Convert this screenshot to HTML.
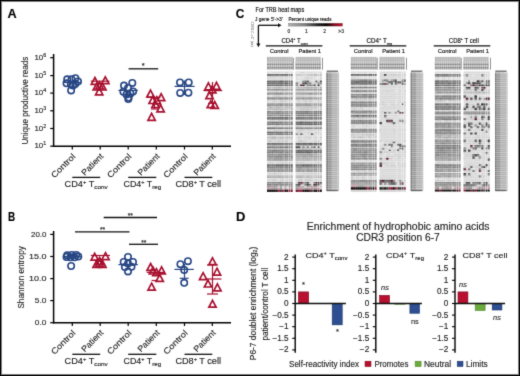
<!DOCTYPE html><html><head><meta charset="utf-8"><style>html,body{margin:0;padding:0;background:#fff;overflow:hidden}svg{display:block}text{font-family:"Liberation Sans", sans-serif;stroke:#2a2a2a;stroke-width:0.15px}</style></head><body>
<svg width="520" height="376" viewBox="0 0 520 376">
<defs><filter id="gb" x="0" y="0" width="520" height="376" filterUnits="userSpaceOnUse" color-interpolation-filters="sRGB"><feConvolveMatrix order="3" kernelMatrix="0.02 0.08 0.02 0.08 0.60 0.08 0.02 0.08 0.02" edgeMode="duplicate"/></filter></defs>
<g filter="url(#gb)">
<rect x="0" y="0" width="520" height="376" fill="#fff"/>
<text x="7.40" y="17.50" font-size="12.6" fill="#000" font-weight="bold" textLength="9.20" lengthAdjust="spacingAndGlyphs">A</text>
<text x="8.00" y="221.00" font-size="12.6" fill="#000" font-weight="bold" textLength="7.20" lengthAdjust="spacingAndGlyphs">B</text>
<text x="235.80" y="17.60" font-size="12.6" fill="#000" font-weight="bold" textLength="8.60" lengthAdjust="spacingAndGlyphs">C</text>
<text x="236.00" y="221.10" font-size="12.6" fill="#000" font-weight="bold" textLength="9.40" lengthAdjust="spacingAndGlyphs">D</text>
<line x1="53.6" y1="54.0" x2="53.6" y2="146.89999999999998" stroke="#000" stroke-width="1.5"/>
<line x1="52.9" y1="146.2" x2="231" y2="146.2" stroke="#000" stroke-width="1.5"/>
<line x1="72.3" y1="146.2" x2="72.3" y2="149.5" stroke="#000" stroke-width="1.2"/>
<line x1="100.2" y1="146.2" x2="100.2" y2="149.5" stroke="#000" stroke-width="1.2"/>
<line x1="128.2" y1="146.2" x2="128.2" y2="149.5" stroke="#000" stroke-width="1.2"/>
<line x1="156.3" y1="146.2" x2="156.3" y2="149.5" stroke="#000" stroke-width="1.2"/>
<line x1="184.5" y1="146.2" x2="184.5" y2="149.5" stroke="#000" stroke-width="1.2"/>
<line x1="212.3" y1="146.2" x2="212.3" y2="149.5" stroke="#000" stroke-width="1.2"/>
<line x1="50.2" y1="57.7" x2="53.6" y2="57.7" stroke="#000" stroke-width="1.2"/>
<text x="34.40" y="59.80" font-size="8.1" fill="#1e1e1e" textLength="8.80" lengthAdjust="spacingAndGlyphs">10</text>
<text x="43.3" y="56.80" font-size="5.3" fill="#1e1e1e">6</text>
<line x1="50.2" y1="75.6" x2="53.6" y2="75.6" stroke="#000" stroke-width="1.2"/>
<text x="34.40" y="77.70" font-size="8.1" fill="#1e1e1e" textLength="8.80" lengthAdjust="spacingAndGlyphs">10</text>
<text x="43.3" y="74.70" font-size="5.3" fill="#1e1e1e">5</text>
<line x1="50.2" y1="93.1" x2="53.6" y2="93.1" stroke="#000" stroke-width="1.2"/>
<text x="34.40" y="95.20" font-size="8.1" fill="#1e1e1e" textLength="8.80" lengthAdjust="spacingAndGlyphs">10</text>
<text x="43.3" y="92.20" font-size="5.3" fill="#1e1e1e">4</text>
<line x1="50.2" y1="110.8" x2="53.6" y2="110.8" stroke="#000" stroke-width="1.2"/>
<text x="34.40" y="112.90" font-size="8.1" fill="#1e1e1e" textLength="8.80" lengthAdjust="spacingAndGlyphs">10</text>
<text x="43.3" y="109.90" font-size="5.3" fill="#1e1e1e">3</text>
<line x1="50.2" y1="128.5" x2="53.6" y2="128.5" stroke="#000" stroke-width="1.2"/>
<text x="34.40" y="130.60" font-size="8.1" fill="#1e1e1e" textLength="8.80" lengthAdjust="spacingAndGlyphs">10</text>
<text x="43.3" y="127.60" font-size="5.3" fill="#1e1e1e">2</text>
<line x1="50.2" y1="146.2" x2="53.6" y2="146.2" stroke="#000" stroke-width="1.2"/>
<text x="34.40" y="148.30" font-size="8.1" fill="#1e1e1e" textLength="8.80" lengthAdjust="spacingAndGlyphs">10</text>
<text x="43.3" y="145.30" font-size="5.3" fill="#1e1e1e">1</text>
<text x="28.50" y="144.60" font-size="8.7" fill="#1e1e1e" textLength="87.80" lengthAdjust="spacingAndGlyphs" transform="rotate(-90 28.50 144.60)">Unique productive reads</text>
<text x="54.50" y="178.60" font-size="8.4" fill="#1e1e1e" textLength="30.43" lengthAdjust="spacingAndGlyphs" transform="rotate(-45 54.50 178.60)">Control</text>
<text x="84.80" y="176.00" font-size="8.4" fill="#1e1e1e" textLength="27.17" lengthAdjust="spacingAndGlyphs" transform="rotate(-45 84.80 176.00)">Patient</text>
<text x="110.40" y="178.60" font-size="8.4" fill="#1e1e1e" textLength="30.43" lengthAdjust="spacingAndGlyphs" transform="rotate(-45 110.40 178.60)">Control</text>
<text x="140.90" y="176.00" font-size="8.4" fill="#1e1e1e" textLength="27.17" lengthAdjust="spacingAndGlyphs" transform="rotate(-45 140.90 176.00)">Patient</text>
<text x="166.70" y="178.60" font-size="8.4" fill="#1e1e1e" textLength="30.43" lengthAdjust="spacingAndGlyphs" transform="rotate(-45 166.70 178.60)">Control</text>
<text x="196.90" y="176.00" font-size="8.4" fill="#1e1e1e" textLength="27.17" lengthAdjust="spacingAndGlyphs" transform="rotate(-45 196.90 176.00)">Patient</text>
<line x1="72.3" y1="177.4" x2="100.2" y2="177.4" stroke="#111" stroke-width="1.3"/>
<text x="64.60" y="187.10" font-size="8.3" fill="#1e1e1e" textLength="43.20" lengthAdjust="spacingAndGlyphs">CD4<tspan font-size="5.2" dy="-3.0">+</tspan><tspan dy="3.0"> T</tspan><tspan font-size="5.8" dy="2.1">conv</tspan></text>
<line x1="128.2" y1="177.4" x2="156.3" y2="177.4" stroke="#111" stroke-width="1.3"/>
<text x="123.60" y="187.10" font-size="8.3" fill="#1e1e1e" textLength="37.60" lengthAdjust="spacingAndGlyphs">CD4<tspan font-size="5.2" dy="-3.0">+</tspan><tspan dy="3.0"> T</tspan><tspan font-size="5.8" dy="2.1">reg</tspan></text>
<line x1="184.5" y1="177.4" x2="212.3" y2="177.4" stroke="#111" stroke-width="1.3"/>
<text x="175.40" y="187.10" font-size="8.3" fill="#1e1e1e" textLength="45.60" lengthAdjust="spacingAndGlyphs">CD8<tspan font-size="5.2" dy="-3.0">+</tspan><tspan dy="3.0"> T cell</tspan></text>
<line x1="128.6" y1="68.8" x2="158.2" y2="68.8" stroke="#111" stroke-width="1.3"/>
<text x="143.3" y="67.6" font-size="7.5" fill="#111" text-anchor="middle">*</text>
<circle cx="67.2" cy="79.3" r="3.2" fill="none" stroke="#274684" stroke-width="1.6"/>
<circle cx="71.5" cy="79.2" r="3.2" fill="none" stroke="#274684" stroke-width="1.6"/>
<circle cx="75.4" cy="78.2" r="3.2" fill="none" stroke="#274684" stroke-width="1.6"/>
<circle cx="78.0" cy="81.4" r="3.2" fill="none" stroke="#274684" stroke-width="1.6"/>
<circle cx="66.5" cy="83.3" r="3.2" fill="none" stroke="#274684" stroke-width="1.6"/>
<circle cx="70.8" cy="84.2" r="3.2" fill="none" stroke="#274684" stroke-width="1.6"/>
<circle cx="75.2" cy="84" r="3.2" fill="none" stroke="#274684" stroke-width="1.6"/>
<circle cx="73" cy="85.5" r="3.2" fill="none" stroke="#274684" stroke-width="1.6"/>
<circle cx="71.1" cy="90.4" r="3.2" fill="none" stroke="#274684" stroke-width="1.6"/>
<line x1="63.5" y1="82.4" x2="81.5" y2="82.4" stroke="#274684" stroke-width="1.2"/>
<path d="M94.90,77.50 L98.55,84.40 L91.25,84.40 Z" fill="none" stroke="#a8102f" stroke-width="1.7" stroke-linejoin="miter"/>
<path d="M105.30,76.80 L108.95,83.70 L101.65,83.70 Z" fill="none" stroke="#a8102f" stroke-width="1.7" stroke-linejoin="miter"/>
<path d="M99.60,82.10 L103.25,89.00 L95.95,89.00 Z" fill="none" stroke="#a8102f" stroke-width="1.7" stroke-linejoin="miter"/>
<path d="M96.80,83.10 L100.45,90.00 L93.15,90.00 Z" fill="none" stroke="#a8102f" stroke-width="1.7" stroke-linejoin="miter"/>
<path d="M102.40,83.10 L106.05,90.00 L98.75,90.00 Z" fill="none" stroke="#a8102f" stroke-width="1.7" stroke-linejoin="miter"/>
<path d="M99.20,87.90 L102.85,94.80 L95.55,94.80 Z" fill="none" stroke="#a8102f" stroke-width="1.7" stroke-linejoin="miter"/>
<line x1="90.8" y1="81.2" x2="109.5" y2="81.2" stroke="#a8102f" stroke-width="1.2"/>
<circle cx="132.3" cy="82.9" r="3.2" fill="none" stroke="#274684" stroke-width="1.6"/>
<circle cx="124" cy="85.6" r="3.2" fill="none" stroke="#274684" stroke-width="1.6"/>
<circle cx="128" cy="88" r="3.2" fill="none" stroke="#274684" stroke-width="1.6"/>
<circle cx="123.4" cy="91.8" r="3.2" fill="none" stroke="#274684" stroke-width="1.6"/>
<circle cx="133.1" cy="91.4" r="3.2" fill="none" stroke="#274684" stroke-width="1.6"/>
<circle cx="128.6" cy="97.6" r="3.2" fill="none" stroke="#274684" stroke-width="1.6"/>
<circle cx="128.3" cy="99.1" r="3.2" fill="none" stroke="#274684" stroke-width="1.6"/>
<circle cx="126.5" cy="94.5" r="3.2" fill="none" stroke="#274684" stroke-width="1.6"/>
<circle cx="130.5" cy="93.5" r="3.2" fill="none" stroke="#274684" stroke-width="1.6"/>
<line x1="118.4" y1="90.4" x2="137.9" y2="90.4" stroke="#274684" stroke-width="1.2"/>
<path d="M150.50,90.10 L154.15,97.00 L146.85,97.00 Z" fill="none" stroke="#a8102f" stroke-width="1.7" stroke-linejoin="miter"/>
<path d="M161.10,93.70 L164.75,100.60 L157.45,100.60 Z" fill="none" stroke="#a8102f" stroke-width="1.7" stroke-linejoin="miter"/>
<path d="M156.90,96.90 L160.55,103.80 L153.25,103.80 Z" fill="none" stroke="#a8102f" stroke-width="1.7" stroke-linejoin="miter"/>
<path d="M152.60,96.60 L156.25,103.50 L148.95,103.50 Z" fill="none" stroke="#a8102f" stroke-width="1.7" stroke-linejoin="miter"/>
<path d="M160.60,104.90 L164.25,111.80 L156.95,111.80 Z" fill="none" stroke="#a8102f" stroke-width="1.7" stroke-linejoin="miter"/>
<path d="M151.60,113.40 L155.25,120.30 L147.95,120.30 Z" fill="none" stroke="#a8102f" stroke-width="1.7" stroke-linejoin="miter"/>
<path d="M155.50,100.60 L159.15,107.50 L151.85,107.50 Z" fill="none" stroke="#a8102f" stroke-width="1.7" stroke-linejoin="miter"/>
<line x1="146.8" y1="97.3" x2="160.6" y2="97.3" stroke="#a8102f" stroke-width="1.2"/>
<line x1="151" y1="109" x2="158" y2="109" stroke="#a8102f" stroke-width="1.2"/>
<line x1="154.5" y1="97.3" x2="154.5" y2="109" stroke="#a8102f" stroke-width="1.2"/>
<circle cx="180" cy="82.4" r="3.2" fill="none" stroke="#274684" stroke-width="1.6"/>
<circle cx="188.7" cy="82.4" r="3.2" fill="none" stroke="#274684" stroke-width="1.6"/>
<circle cx="180.2" cy="92.9" r="3.2" fill="none" stroke="#274684" stroke-width="1.6"/>
<circle cx="188.4" cy="92.7" r="3.2" fill="none" stroke="#274684" stroke-width="1.6"/>
<line x1="174.5" y1="86.4" x2="194.6" y2="86.4" stroke="#274684" stroke-width="1.2"/>
<line x1="184.5" y1="80.5" x2="184.5" y2="95" stroke="#274684" stroke-width="1.2"/>
<path d="M208.40,82.90 L212.05,89.80 L204.75,89.80 Z" fill="none" stroke="#a8102f" stroke-width="1.7" stroke-linejoin="miter"/>
<path d="M216.50,82.40 L220.15,89.30 L212.85,89.30 Z" fill="none" stroke="#a8102f" stroke-width="1.7" stroke-linejoin="miter"/>
<path d="M212.30,85.90 L215.95,92.80 L208.65,92.80 Z" fill="none" stroke="#a8102f" stroke-width="1.7" stroke-linejoin="miter"/>
<path d="M209.50,91.80 L213.15,98.70 L205.85,98.70 Z" fill="none" stroke="#a8102f" stroke-width="1.7" stroke-linejoin="miter"/>
<path d="M214.70,101.50 L218.35,108.40 L211.05,108.40 Z" fill="none" stroke="#a8102f" stroke-width="1.7" stroke-linejoin="miter"/>
<path d="M210.80,100.70 L214.45,107.60 L207.15,107.60 Z" fill="none" stroke="#a8102f" stroke-width="1.7" stroke-linejoin="miter"/>
<line x1="203.5" y1="90.6" x2="222.2" y2="90.6" stroke="#a8102f" stroke-width="1.2"/>
<line x1="208" y1="103.3" x2="215" y2="103.3" stroke="#a8102f" stroke-width="1.2"/>
<line x1="212.5" y1="82" x2="212.5" y2="103.3" stroke="#a8102f" stroke-width="1.2"/>
<line x1="53.6" y1="231.0" x2="53.6" y2="323.4" stroke="#000" stroke-width="1.5"/>
<line x1="52.9" y1="322.7" x2="231" y2="322.7" stroke="#000" stroke-width="1.5"/>
<line x1="72.3" y1="322.7" x2="72.3" y2="326.0" stroke="#000" stroke-width="1.2"/>
<line x1="100.2" y1="322.7" x2="100.2" y2="326.0" stroke="#000" stroke-width="1.2"/>
<line x1="128.2" y1="322.7" x2="128.2" y2="326.0" stroke="#000" stroke-width="1.2"/>
<line x1="156.3" y1="322.7" x2="156.3" y2="326.0" stroke="#000" stroke-width="1.2"/>
<line x1="184.5" y1="322.7" x2="184.5" y2="326.0" stroke="#000" stroke-width="1.2"/>
<line x1="212.3" y1="322.7" x2="212.3" y2="326.0" stroke="#000" stroke-width="1.2"/>
<line x1="50.2" y1="234.4" x2="53.6" y2="234.4" stroke="#000" stroke-width="1.2"/>
<text x="31.00" y="237.00" font-size="8.1" fill="#1e1e1e" textLength="15.40" lengthAdjust="spacingAndGlyphs">20.0</text>
<line x1="50.2" y1="256.5" x2="53.6" y2="256.5" stroke="#000" stroke-width="1.2"/>
<text x="29.00" y="259.10" font-size="8.1" fill="#1e1e1e" textLength="17.40" lengthAdjust="spacingAndGlyphs">15.0</text>
<line x1="50.2" y1="278.6" x2="53.6" y2="278.6" stroke="#000" stroke-width="1.2"/>
<text x="29.00" y="281.20" font-size="8.1" fill="#1e1e1e" textLength="17.40" lengthAdjust="spacingAndGlyphs">10.0</text>
<line x1="50.2" y1="300.6" x2="53.6" y2="300.6" stroke="#000" stroke-width="1.2"/>
<text x="34.80" y="303.20" font-size="8.1" fill="#1e1e1e" textLength="11.60" lengthAdjust="spacingAndGlyphs">5.0</text>
<line x1="50.2" y1="322.7" x2="53.6" y2="322.7" stroke="#000" stroke-width="1.2"/>
<text x="34.80" y="325.30" font-size="8.1" fill="#1e1e1e" textLength="11.60" lengthAdjust="spacingAndGlyphs">0.0</text>
<text x="24.40" y="308.60" font-size="8.7" fill="#1e1e1e" textLength="62.40" lengthAdjust="spacingAndGlyphs" transform="rotate(-90 24.40 308.60)">Shannon entropy</text>
<text x="54.50" y="355.10" font-size="8.4" fill="#1e1e1e" textLength="30.43" lengthAdjust="spacingAndGlyphs" transform="rotate(-45 54.50 355.10)">Control</text>
<text x="84.80" y="352.50" font-size="8.4" fill="#1e1e1e" textLength="27.17" lengthAdjust="spacingAndGlyphs" transform="rotate(-45 84.80 352.50)">Patient</text>
<text x="110.40" y="355.10" font-size="8.4" fill="#1e1e1e" textLength="30.43" lengthAdjust="spacingAndGlyphs" transform="rotate(-45 110.40 355.10)">Control</text>
<text x="140.90" y="352.50" font-size="8.4" fill="#1e1e1e" textLength="27.17" lengthAdjust="spacingAndGlyphs" transform="rotate(-45 140.90 352.50)">Patient</text>
<text x="166.70" y="355.10" font-size="8.4" fill="#1e1e1e" textLength="30.43" lengthAdjust="spacingAndGlyphs" transform="rotate(-45 166.70 355.10)">Control</text>
<text x="196.90" y="352.50" font-size="8.4" fill="#1e1e1e" textLength="27.17" lengthAdjust="spacingAndGlyphs" transform="rotate(-45 196.90 352.50)">Patient</text>
<line x1="72.3" y1="354.3" x2="100.2" y2="354.3" stroke="#111" stroke-width="1.3"/>
<text x="64.60" y="364.30" font-size="8.3" fill="#1e1e1e" textLength="43.20" lengthAdjust="spacingAndGlyphs">CD4<tspan font-size="5.2" dy="-3.0">+</tspan><tspan dy="3.0"> T</tspan><tspan font-size="5.8" dy="2.1">conv</tspan></text>
<line x1="128.2" y1="354.3" x2="156.3" y2="354.3" stroke="#111" stroke-width="1.3"/>
<text x="123.60" y="364.30" font-size="8.3" fill="#1e1e1e" textLength="37.60" lengthAdjust="spacingAndGlyphs">CD4<tspan font-size="5.2" dy="-3.0">+</tspan><tspan dy="3.0"> T</tspan><tspan font-size="5.8" dy="2.1">reg</tspan></text>
<line x1="184.5" y1="354.3" x2="212.3" y2="354.3" stroke="#111" stroke-width="1.3"/>
<text x="175.40" y="364.30" font-size="8.3" fill="#1e1e1e" textLength="45.60" lengthAdjust="spacingAndGlyphs">CD8<tspan font-size="5.2" dy="-3.0">+</tspan><tspan dy="3.0"> T cell</tspan></text>
<line x1="75" y1="231.8" x2="129.5" y2="231.8" stroke="#111" stroke-width="1.3"/>
<text x="102.6" y="232.1" font-size="6.6" fill="#111" text-anchor="middle">**</text>
<line x1="103.7" y1="217.5" x2="157" y2="217.5" stroke="#111" stroke-width="1.3"/>
<text x="130.3" y="217.9" font-size="6.6" fill="#111" text-anchor="middle">**</text>
<line x1="129" y1="244.3" x2="158" y2="244.3" stroke="#111" stroke-width="1.3"/>
<text x="143.7" y="244.7" font-size="6.6" fill="#111" text-anchor="middle">**</text>
<circle cx="67.2" cy="255.3" r="3.2" fill="none" stroke="#274684" stroke-width="1.6"/>
<circle cx="71.8" cy="255" r="3.2" fill="none" stroke="#274684" stroke-width="1.6"/>
<circle cx="76.2" cy="255" r="3.2" fill="none" stroke="#274684" stroke-width="1.6"/>
<circle cx="78.3" cy="256.5" r="3.2" fill="none" stroke="#274684" stroke-width="1.6"/>
<circle cx="66.5" cy="257" r="3.2" fill="none" stroke="#274684" stroke-width="1.6"/>
<circle cx="70.5" cy="257.3" r="3.2" fill="none" stroke="#274684" stroke-width="1.6"/>
<circle cx="74.5" cy="257.3" r="3.2" fill="none" stroke="#274684" stroke-width="1.6"/>
<circle cx="71.1" cy="266" r="3.2" fill="none" stroke="#274684" stroke-width="1.6"/>
<line x1="63" y1="256.5" x2="82" y2="256.5" stroke="#274684" stroke-width="1.2"/>
<path d="M94.70,253.30 L98.35,260.20 L91.05,260.20 Z" fill="none" stroke="#a8102f" stroke-width="1.7" stroke-linejoin="miter"/>
<path d="M105.50,252.70 L109.15,259.60 L101.85,259.60 Z" fill="none" stroke="#a8102f" stroke-width="1.7" stroke-linejoin="miter"/>
<path d="M99.60,257.50 L103.25,264.40 L95.95,264.40 Z" fill="none" stroke="#a8102f" stroke-width="1.7" stroke-linejoin="miter"/>
<path d="M96.60,260.50 L100.25,267.40 L92.95,267.40 Z" fill="none" stroke="#a8102f" stroke-width="1.7" stroke-linejoin="miter"/>
<path d="M102.40,260.50 L106.05,267.40 L98.75,267.40 Z" fill="none" stroke="#a8102f" stroke-width="1.7" stroke-linejoin="miter"/>
<path d="M99.50,259.60 L103.15,266.50 L95.85,266.50 Z" fill="none" stroke="#a8102f" stroke-width="1.7" stroke-linejoin="miter"/>
<line x1="90.8" y1="255.5" x2="110" y2="255.5" stroke="#a8102f" stroke-width="1.2"/>
<circle cx="128" cy="256.9" r="3.2" fill="none" stroke="#274684" stroke-width="1.6"/>
<circle cx="123.7" cy="262" r="3.2" fill="none" stroke="#274684" stroke-width="1.6"/>
<circle cx="133" cy="262" r="3.2" fill="none" stroke="#274684" stroke-width="1.6"/>
<circle cx="128" cy="263.6" r="3.2" fill="none" stroke="#274684" stroke-width="1.6"/>
<circle cx="124.9" cy="267.1" r="3.2" fill="none" stroke="#274684" stroke-width="1.6"/>
<circle cx="131.5" cy="266.8" r="3.2" fill="none" stroke="#274684" stroke-width="1.6"/>
<circle cx="128" cy="271.4" r="3.2" fill="none" stroke="#274684" stroke-width="1.6"/>
<line x1="118.4" y1="264.6" x2="137.9" y2="264.6" stroke="#274684" stroke-width="1.2"/>
<path d="M150.60,263.50 L154.25,270.40 L146.95,270.40 Z" fill="none" stroke="#a8102f" stroke-width="1.7" stroke-linejoin="miter"/>
<path d="M161.60,266.90 L165.25,273.80 L157.95,273.80 Z" fill="none" stroke="#a8102f" stroke-width="1.7" stroke-linejoin="miter"/>
<path d="M156.40,268.70 L160.05,275.60 L152.75,275.60 Z" fill="none" stroke="#a8102f" stroke-width="1.7" stroke-linejoin="miter"/>
<path d="M159.70,274.50 L163.35,281.40 L156.05,281.40 Z" fill="none" stroke="#a8102f" stroke-width="1.7" stroke-linejoin="miter"/>
<path d="M151.60,283.20 L155.25,290.10 L147.95,290.10 Z" fill="none" stroke="#a8102f" stroke-width="1.7" stroke-linejoin="miter"/>
<path d="M153.00,267.10 L156.65,274.00 L149.35,274.00 Z" fill="none" stroke="#a8102f" stroke-width="1.7" stroke-linejoin="miter"/>
<line x1="146.8" y1="272.4" x2="165" y2="272.4" stroke="#a8102f" stroke-width="1.2"/>
<line x1="151.6" y1="280.5" x2="157.3" y2="280.5" stroke="#a8102f" stroke-width="1.2"/>
<circle cx="180.4" cy="264.2" r="3.2" fill="none" stroke="#274684" stroke-width="1.6"/>
<circle cx="187.9" cy="261.2" r="3.2" fill="none" stroke="#274684" stroke-width="1.6"/>
<circle cx="184.2" cy="270.1" r="3.2" fill="none" stroke="#274684" stroke-width="1.6"/>
<circle cx="184.2" cy="282.8" r="3.2" fill="none" stroke="#274684" stroke-width="1.6"/>
<line x1="174.5" y1="269.4" x2="193.8" y2="269.4" stroke="#274684" stroke-width="1.2"/>
<line x1="179.7" y1="278.3" x2="188.6" y2="278.3" stroke="#274684" stroke-width="1.2"/>
<line x1="184.5" y1="264" x2="184.5" y2="278.3" stroke="#274684" stroke-width="1.2"/>
<path d="M212.50,257.80 L216.15,264.70 L208.85,264.70 Z" fill="none" stroke="#a8102f" stroke-width="1.7" stroke-linejoin="miter"/>
<path d="M217.00,268.20 L220.65,275.10 L213.35,275.10 Z" fill="none" stroke="#a8102f" stroke-width="1.7" stroke-linejoin="miter"/>
<path d="M203.10,272.70 L206.75,279.60 L199.45,279.60 Z" fill="none" stroke="#a8102f" stroke-width="1.7" stroke-linejoin="miter"/>
<path d="M208.00,280.10 L211.65,287.00 L204.35,287.00 Z" fill="none" stroke="#a8102f" stroke-width="1.7" stroke-linejoin="miter"/>
<path d="M217.40,283.90 L221.05,290.80 L213.75,290.80 Z" fill="none" stroke="#a8102f" stroke-width="1.7" stroke-linejoin="miter"/>
<path d="M212.50,300.30 L216.15,307.20 L208.85,307.20 Z" fill="none" stroke="#a8102f" stroke-width="1.7" stroke-linejoin="miter"/>
<line x1="205.8" y1="279" x2="221.4" y2="279" stroke="#a8102f" stroke-width="1.2"/>
<line x1="207" y1="264.9" x2="218" y2="264.9" stroke="#a8102f" stroke-width="1.2"/>
<line x1="207" y1="294" x2="218" y2="294" stroke="#a8102f" stroke-width="1.2"/>
<line x1="212.5" y1="264.9" x2="212.5" y2="294" stroke="#a8102f" stroke-width="1.2"/>
<text x="255.60" y="11.70" font-size="6.3" fill="#000" textLength="48.60" lengthAdjust="spacingAndGlyphs">For TRB heat maps</text>
<text x="255.00" y="21.00" font-size="4.7" fill="#000" textLength="27.60" lengthAdjust="spacingAndGlyphs">J gene 5'-&gt;3'</text>
<text x="288.40" y="21.00" font-size="4.7" fill="#000" textLength="43.00" lengthAdjust="spacingAndGlyphs">Percent unique reads</text>
<path d="M258.4,25.3 H279" stroke="#111" stroke-width="1.3" fill="none"/>
<path d="M278.0,23.3 L281.6,25.3 L278.0,27.3 Z" fill="#111"/>
<path d="M258.4,25.3 V44.3" stroke="#111" stroke-width="1.3" fill="none"/>
<path d="M256.4,43.4 L258.4,47.2 L260.4,43.4 Z" fill="#111"/>
<text x="0" y="0" font-size="4.2" fill="#555" style="stroke:none" text-anchor="middle" transform="translate(250.9 34.0) rotate(90)" textLength="25" lengthAdjust="spacingAndGlyphs">CDR3 C-&gt;C' (aa)</text>
<defs><linearGradient id="cb" x1="0" x2="1" y1="0" y2="0"><stop offset="0" stop-color="#b0b0b0"/><stop offset="0.3" stop-color="#808080"/><stop offset="0.55" stop-color="#202020"/><stop offset="0.7" stop-color="#080000"/><stop offset="0.86" stop-color="#8a0a1e"/><stop offset="1" stop-color="#c8102c"/></linearGradient><pattern id="grid" x="0" y="0" width="2.15" height="2.15" patternUnits="userSpaceOnUse"><rect x="0" y="0" width="2.15" height="0.5" fill="#fff" fill-opacity="0.8"/><rect x="0" y="0" width="0.4" height="2.15" fill="#fff" fill-opacity="0.45"/></pattern><filter id="hb" x="-5%" y="-5%" width="110%" height="110%"><feGaussianBlur stdDeviation="0.35"/></filter></defs>
<rect x="288.4" y="23.2" width="54.2" height="2.9" fill="url(#cb)" stroke="#666" stroke-width="0.3"/>
<text x="288.8" y="32.9" font-size="4.9" fill="#222" text-anchor="middle">0</text>
<text x="306.4" y="32.9" font-size="4.9" fill="#222" text-anchor="middle">1</text>
<text x="324.6" y="32.9" font-size="4.9" fill="#222" text-anchor="middle">2</text>
<text x="341.1" y="32.9" font-size="4.9" fill="#222" text-anchor="middle">&gt;3</text>
<text x="281.40" y="42.90" font-size="6.4" fill="#000" textLength="26.60" lengthAdjust="spacingAndGlyphs">CD4<tspan font-size="3.9" dy="-2.5">+</tspan><tspan dy="2.5"> T</tspan><tspan font-size="3.7" dy="1.7">conv</tspan></text>
<line x1="265.8" y1="45.9" x2="322.4" y2="45.9" stroke="#111" stroke-width="1.3"/>
<text x="269.80" y="53.30" font-size="6.0" fill="#000" textLength="18.80" lengthAdjust="spacingAndGlyphs">Control</text>
<text x="298.40" y="53.30" font-size="6.0" fill="#000" textLength="22.60" lengthAdjust="spacingAndGlyphs">Patient 1</text>
<rect x="267" y="56.9" width="25.60" height="12.5" fill="#b0b0b0"/><rect x="267" y="61.3" width="25.60" height="2.4" fill="#c2c2c2"/><rect x="267" y="63.8" width="25.60" height="1.7" fill="#888888"/><rect x="267" y="65.5" width="25.60" height="1.2" fill="#dadada"/><rect x="267" y="66.7" width="25.60" height="2.0" fill="#8a8a8a"/><rect x="267" y="68.7" width="25.60" height="0.7" fill="#bcbcbc"/><rect x="268.88" y="56.9" width="0.5" height="12.5" fill="#fff" fill-opacity="0.55"/><rect x="271.02" y="56.9" width="0.5" height="12.5" fill="#fff" fill-opacity="0.55"/><rect x="273.15" y="56.9" width="0.5" height="12.5" fill="#fff" fill-opacity="0.55"/><rect x="275.28" y="56.9" width="0.5" height="12.5" fill="#fff" fill-opacity="0.55"/><rect x="277.42" y="56.9" width="0.5" height="12.5" fill="#fff" fill-opacity="0.55"/><rect x="279.55" y="56.9" width="0.5" height="12.5" fill="#fff" fill-opacity="0.55"/><rect x="281.68" y="56.9" width="0.5" height="12.5" fill="#fff" fill-opacity="0.55"/><rect x="283.82" y="56.9" width="0.5" height="12.5" fill="#fff" fill-opacity="0.55"/><rect x="285.95" y="56.9" width="0.5" height="12.5" fill="#fff" fill-opacity="0.55"/><rect x="288.08" y="56.9" width="0.5" height="12.5" fill="#fff" fill-opacity="0.55"/><rect x="290.22" y="56.9" width="0.5" height="12.5" fill="#fff" fill-opacity="0.55"/><rect x="267.87" y="56.9" width="0.4" height="4.4" fill="#fff" fill-opacity="0.35"/><rect x="270.00" y="56.9" width="0.4" height="4.4" fill="#fff" fill-opacity="0.35"/><rect x="272.13" y="56.9" width="0.4" height="4.4" fill="#fff" fill-opacity="0.35"/><rect x="274.27" y="56.9" width="0.4" height="4.4" fill="#fff" fill-opacity="0.35"/><rect x="276.40" y="56.9" width="0.4" height="4.4" fill="#fff" fill-opacity="0.35"/><rect x="278.53" y="56.9" width="0.4" height="4.4" fill="#fff" fill-opacity="0.35"/><rect x="280.67" y="56.9" width="0.4" height="4.4" fill="#fff" fill-opacity="0.35"/><rect x="282.80" y="56.9" width="0.4" height="4.4" fill="#fff" fill-opacity="0.35"/><rect x="284.93" y="56.9" width="0.4" height="4.4" fill="#fff" fill-opacity="0.35"/><rect x="287.07" y="56.9" width="0.4" height="4.4" fill="#fff" fill-opacity="0.35"/><rect x="289.20" y="56.9" width="0.4" height="4.4" fill="#fff" fill-opacity="0.35"/><rect x="291.33" y="56.9" width="0.4" height="4.4" fill="#fff" fill-opacity="0.35"/>
<rect x="295.6" y="56.9" width="25.00" height="12.5" fill="#b0b0b0"/><rect x="295.6" y="61.3" width="25.00" height="2.4" fill="#c2c2c2"/><rect x="295.6" y="63.8" width="25.00" height="1.7" fill="#888888"/><rect x="295.6" y="65.5" width="25.00" height="1.2" fill="#dadada"/><rect x="295.6" y="66.7" width="25.00" height="2.0" fill="#8a8a8a"/><rect x="295.6" y="68.7" width="25.00" height="0.7" fill="#bcbcbc"/><rect x="297.43" y="56.9" width="0.5" height="12.5" fill="#fff" fill-opacity="0.55"/><rect x="299.52" y="56.9" width="0.5" height="12.5" fill="#fff" fill-opacity="0.55"/><rect x="301.60" y="56.9" width="0.5" height="12.5" fill="#fff" fill-opacity="0.55"/><rect x="303.68" y="56.9" width="0.5" height="12.5" fill="#fff" fill-opacity="0.55"/><rect x="305.77" y="56.9" width="0.5" height="12.5" fill="#fff" fill-opacity="0.55"/><rect x="307.85" y="56.9" width="0.5" height="12.5" fill="#fff" fill-opacity="0.55"/><rect x="309.93" y="56.9" width="0.5" height="12.5" fill="#fff" fill-opacity="0.55"/><rect x="312.02" y="56.9" width="0.5" height="12.5" fill="#fff" fill-opacity="0.55"/><rect x="314.10" y="56.9" width="0.5" height="12.5" fill="#fff" fill-opacity="0.55"/><rect x="316.18" y="56.9" width="0.5" height="12.5" fill="#fff" fill-opacity="0.55"/><rect x="318.27" y="56.9" width="0.5" height="12.5" fill="#fff" fill-opacity="0.55"/><rect x="296.44" y="56.9" width="0.4" height="4.4" fill="#fff" fill-opacity="0.35"/><rect x="298.53" y="56.9" width="0.4" height="4.4" fill="#fff" fill-opacity="0.35"/><rect x="300.61" y="56.9" width="0.4" height="4.4" fill="#fff" fill-opacity="0.35"/><rect x="302.69" y="56.9" width="0.4" height="4.4" fill="#fff" fill-opacity="0.35"/><rect x="304.78" y="56.9" width="0.4" height="4.4" fill="#fff" fill-opacity="0.35"/><rect x="306.86" y="56.9" width="0.4" height="4.4" fill="#fff" fill-opacity="0.35"/><rect x="308.94" y="56.9" width="0.4" height="4.4" fill="#fff" fill-opacity="0.35"/><rect x="311.03" y="56.9" width="0.4" height="4.4" fill="#fff" fill-opacity="0.35"/><rect x="313.11" y="56.9" width="0.4" height="4.4" fill="#fff" fill-opacity="0.35"/><rect x="315.19" y="56.9" width="0.4" height="4.4" fill="#fff" fill-opacity="0.35"/><rect x="317.28" y="56.9" width="0.4" height="4.4" fill="#fff" fill-opacity="0.35"/><rect x="319.36" y="56.9" width="0.4" height="4.4" fill="#fff" fill-opacity="0.35"/>
<rect x="292.9" y="57.8" width="0.7" height="11.9" fill="#666"/>
<rect x="322.1" y="57.8" width="0.7" height="11.9" fill="#666"/>
<g><path fill="#d8d8d8" d="M267.0 71.60h25.60v120.30h-25.60zM271.3 72.20h2.43v1.30h-2.43zM279.8 72.20h2.43v1.30h-2.43zM281.9 72.20h2.43v1.30h-2.43zM269.1 76.70h2.43v2.50h-2.43zM275.5 76.70h2.43v2.50h-2.43zM277.7 76.70h2.43v2.50h-2.43zM286.2 76.70h2.43v2.50h-2.43zM288.3 76.70h2.43v2.50h-2.43zM267.0 91.30h2.43v1.20h-2.43zM271.3 95.00h2.43v2.00h-2.43zM279.8 95.00h2.43v2.00h-2.43zM286.2 95.00h2.43v2.00h-2.43zM275.5 100.20h2.43v2.30h-2.43zM277.7 100.20h2.43v2.30h-2.43zM286.2 100.20h2.43v2.30h-2.43zM290.5 100.20h2.13v2.30h-2.13zM273.4 120.30h2.43v1.10h-2.43zM279.8 120.30h2.43v1.10h-2.43zM277.7 125.90h2.43v1.20h-2.43zM284.1 125.90h2.43v1.20h-2.43zM286.2 125.90h2.43v1.20h-2.43zM279.8 129.90h2.43v1.70h-2.43zM281.9 129.90h2.43v1.70h-2.43zM275.5 135.50h2.43v1.10h-2.43zM281.9 135.50h2.43v1.10h-2.43zM284.1 135.50h2.43v1.10h-2.43zM271.3 140.00h2.43v2.20h-2.43zM275.5 161.30h2.43v2.30h-2.43zM286.2 161.30h2.43v2.30h-2.43zM290.5 161.30h2.13v2.30h-2.13zM267.0 172.50h2.43v2.80h-2.43zM284.1 172.50h2.43v2.80h-2.43zM286.2 172.50h2.43v2.80h-2.43zM290.5 172.50h2.13v2.80h-2.13zM267.0 178.60h2.43v2.80h-2.43zM269.1 178.60h2.43v2.80h-2.43zM275.5 178.60h2.43v2.80h-2.43z"/><path fill="#cccccc" d="M267.0 72.20h2.43v1.30h-2.43zM273.4 72.20h2.43v1.30h-2.43zM284.1 72.20h2.43v1.30h-2.43zM290.5 76.70h2.13v2.50h-2.13zM281.9 91.30h2.43v1.20h-2.43zM267.0 95.00h2.43v2.00h-2.43zM273.4 95.00h2.43v2.00h-2.43zM281.9 95.00h2.43v2.00h-2.43zM284.1 95.00h2.43v2.00h-2.43zM267.0 100.20h2.43v2.30h-2.43zM273.4 100.20h2.43v2.30h-2.43zM284.1 100.20h2.43v2.30h-2.43zM288.3 100.20h2.43v2.30h-2.43zM271.3 120.30h2.43v1.10h-2.43zM281.9 120.30h2.43v1.10h-2.43zM284.1 120.30h2.43v1.10h-2.43zM290.5 120.30h2.13v1.10h-2.13zM273.4 125.90h2.43v1.20h-2.43zM275.5 125.90h2.43v1.20h-2.43zM288.3 125.90h2.43v1.20h-2.43zM267.0 129.90h2.43v1.70h-2.43zM273.4 129.90h2.43v1.70h-2.43zM284.1 129.90h2.43v1.70h-2.43zM288.3 129.90h2.43v1.70h-2.43zM271.3 135.50h2.43v1.10h-2.43zM286.2 135.50h2.43v1.10h-2.43zM290.5 135.50h2.13v1.10h-2.13zM267.0 140.00h2.43v2.20h-2.43zM281.9 140.00h2.43v2.20h-2.43zM284.1 140.00h2.43v2.20h-2.43zM286.2 140.00h2.43v2.20h-2.43zM281.9 161.30h2.43v2.30h-2.43zM284.1 161.30h2.43v2.30h-2.43zM288.3 161.30h2.43v2.30h-2.43zM273.4 178.60h2.43v2.80h-2.43zM281.9 178.60h2.43v2.80h-2.43z"/><path fill="#dfdfdf" d="M269.1 72.20h2.43v1.30h-2.43zM288.3 72.20h2.43v1.30h-2.43zM277.7 91.30h2.43v1.20h-2.43zM269.1 95.00h2.43v2.00h-2.43zM269.1 100.20h2.43v2.30h-2.43zM267.0 120.30h2.43v1.10h-2.43zM275.5 120.30h2.43v1.10h-2.43zM286.2 120.30h2.43v1.10h-2.43zM267.0 125.90h2.43v1.20h-2.43zM269.1 125.90h2.43v1.20h-2.43zM271.3 125.90h2.43v1.20h-2.43zM279.8 125.90h2.43v1.20h-2.43zM269.1 129.90h2.43v1.70h-2.43zM271.3 129.90h2.43v1.70h-2.43zM267.0 135.50h2.43v1.10h-2.43zM273.4 135.50h2.43v1.10h-2.43zM277.7 135.50h2.43v1.10h-2.43zM279.8 135.50h2.43v1.10h-2.43zM288.3 140.00h2.43v2.20h-2.43zM267.0 161.30h2.43v2.30h-2.43zM273.4 161.30h2.43v2.30h-2.43zM281.9 172.50h2.43v2.80h-2.43zM288.3 172.50h2.43v2.80h-2.43zM277.7 178.60h2.43v2.80h-2.43zM284.1 178.60h2.43v2.80h-2.43z"/><path fill="#d2d2d2" d="M275.5 72.20h2.43v1.30h-2.43zM277.7 72.20h2.43v1.30h-2.43zM290.5 72.20h2.13v1.30h-2.13zM267.0 76.70h2.43v2.50h-2.43zM271.3 76.70h2.43v2.50h-2.43zM273.4 76.70h2.43v2.50h-2.43zM279.8 76.70h2.43v2.50h-2.43zM281.9 76.70h2.43v2.50h-2.43zM284.1 76.70h2.43v2.50h-2.43zM269.1 91.30h2.43v1.20h-2.43zM271.3 91.30h2.43v1.20h-2.43zM273.4 91.30h2.43v1.20h-2.43zM279.8 91.30h2.43v1.20h-2.43zM284.1 91.30h2.43v1.20h-2.43zM286.2 91.30h2.43v1.20h-2.43zM288.3 91.30h2.43v1.20h-2.43zM290.5 91.30h2.13v1.20h-2.13zM288.3 95.00h2.43v2.00h-2.43zM271.3 100.20h2.43v2.30h-2.43zM269.1 120.30h2.43v1.10h-2.43zM281.9 125.90h2.43v1.20h-2.43zM290.5 125.90h2.13v1.20h-2.13zM275.5 129.90h2.43v1.70h-2.43zM277.7 129.90h2.43v1.70h-2.43zM288.3 135.50h2.43v1.10h-2.43zM273.4 140.00h2.43v2.20h-2.43zM275.5 140.00h2.43v2.20h-2.43zM279.8 140.00h2.43v2.20h-2.43zM290.5 140.00h2.13v2.20h-2.13zM269.1 161.30h2.43v2.30h-2.43zM271.3 161.30h2.43v2.30h-2.43zM277.7 161.30h2.43v2.30h-2.43zM279.8 161.30h2.43v2.30h-2.43zM269.1 172.50h2.43v2.80h-2.43zM271.3 172.50h2.43v2.80h-2.43zM275.5 172.50h2.43v2.80h-2.43zM277.7 172.50h2.43v2.80h-2.43zM279.8 172.50h2.43v2.80h-2.43zM271.3 178.60h2.43v2.80h-2.43zM279.8 178.60h2.43v2.80h-2.43zM286.2 178.60h2.43v2.80h-2.43zM288.3 178.60h2.43v2.80h-2.43z"/><path fill="#c5c5c5" d="M286.2 72.20h2.43v1.30h-2.43zM275.5 91.30h2.43v1.20h-2.43zM275.5 95.00h2.43v2.00h-2.43zM277.7 95.00h2.43v2.00h-2.43zM290.5 95.00h2.13v2.00h-2.13zM279.8 100.20h2.43v2.30h-2.43zM281.9 100.20h2.43v2.30h-2.43zM267.0 106.90h2.43v2.00h-2.43zM273.4 106.90h2.43v2.00h-2.43zM279.8 106.90h2.43v2.00h-2.43zM281.9 106.90h2.43v2.00h-2.43zM286.2 108.60h2.43v1.70h-2.43zM288.3 108.60h2.43v1.70h-2.43zM277.7 120.30h2.43v1.10h-2.43zM288.3 120.30h2.43v1.10h-2.43zM286.2 129.90h2.43v1.70h-2.43zM290.5 129.90h2.13v1.70h-2.13zM269.1 135.50h2.43v1.10h-2.43zM275.5 136.60h2.43v2.80h-2.43zM284.1 136.60h2.43v2.80h-2.43zM269.1 140.00h2.43v2.20h-2.43zM277.7 140.00h2.43v2.20h-2.43zM273.4 172.50h2.43v2.80h-2.43zM290.5 178.60h2.13v2.80h-2.13z"/><path fill="#727272" d="M267.0 73.90h2.43v2.40h-2.43zM273.4 73.90h2.43v2.40h-2.43zM275.5 80.20h2.43v2.27h-2.43zM288.3 80.20h2.43v2.27h-2.43zM275.5 82.17h2.43v2.27h-2.43zM288.3 117.00h2.43v2.70h-2.43zM271.3 121.40h2.43v2.25h-2.43zM273.4 121.40h2.43v2.25h-2.43zM275.5 121.40h2.43v2.25h-2.43zM279.8 121.40h2.43v2.25h-2.43zM290.5 121.40h2.13v2.25h-2.13zM267.0 123.35h2.43v1.95h-2.43zM271.3 123.35h2.43v1.95h-2.43zM281.9 123.35h2.43v1.95h-2.43zM288.3 123.35h2.43v1.95h-2.43zM267.0 127.10h2.43v2.20h-2.43zM269.1 127.10h2.43v2.20h-2.43zM271.3 127.10h2.43v2.20h-2.43zM273.4 127.10h2.43v2.20h-2.43zM288.3 127.10h2.43v2.20h-2.43zM273.4 131.60h2.43v1.95h-2.43zM277.7 131.60h2.43v1.95h-2.43zM288.3 131.60h2.43v1.95h-2.43zM271.3 133.25h2.43v1.65h-2.43zM275.5 133.25h2.43v1.65h-2.43zM269.1 142.70h2.43v2.80h-2.43zM279.8 142.70h2.43v2.80h-2.43zM284.1 142.70h2.43v2.80h-2.43zM286.2 142.70h2.43v2.80h-2.43zM269.1 146.00h2.43v2.30h-2.43zM279.8 146.00h2.43v2.30h-2.43zM271.3 150.00h2.43v1.95h-2.43zM273.4 150.00h2.43v1.95h-2.43zM275.5 150.00h2.43v1.95h-2.43zM267.0 151.65h2.43v1.65h-2.43zM279.8 151.65h2.43v1.65h-2.43zM286.2 151.65h2.43v1.65h-2.43zM271.3 164.10h2.43v2.80h-2.43zM267.0 183.95h2.43v1.95h-2.43zM269.1 183.95h2.43v1.95h-2.43zM273.4 183.95h2.43v1.95h-2.43zM288.3 183.95h2.43v1.95h-2.43z"/><path fill="#5f5f5f" d="M269.1 73.90h2.43v2.40h-2.43zM281.9 73.90h2.43v2.40h-2.43zM284.1 73.90h2.43v2.40h-2.43zM273.4 80.20h2.43v2.27h-2.43zM281.9 80.20h2.43v2.27h-2.43zM271.3 82.17h2.43v2.27h-2.43zM286.2 82.17h2.43v2.27h-2.43zM267.0 84.13h2.43v1.97h-2.43zM275.5 84.13h2.43v1.97h-2.43zM271.3 117.00h2.43v2.70h-2.43zM281.9 117.00h2.43v2.70h-2.43zM286.2 117.00h2.43v2.70h-2.43zM269.1 131.60h2.43v1.95h-2.43zM273.4 142.70h2.43v2.80h-2.43zM290.5 164.10h2.13v2.80h-2.13z"/><path fill="#6c6c6c" d="M271.3 73.90h2.43v2.40h-2.43zM286.2 73.90h2.43v2.40h-2.43zM290.5 73.90h2.13v2.40h-2.13zM267.0 80.20h2.43v2.27h-2.43zM271.3 80.20h2.43v2.27h-2.43zM277.7 80.20h2.43v2.27h-2.43zM284.1 80.20h2.43v2.27h-2.43zM286.2 80.20h2.43v2.27h-2.43zM267.0 82.17h2.43v2.27h-2.43zM269.1 82.17h2.43v2.27h-2.43zM277.7 82.17h2.43v2.27h-2.43zM288.3 82.17h2.43v2.27h-2.43zM271.3 84.13h2.43v1.97h-2.43zM273.4 84.13h2.43v1.97h-2.43zM281.9 84.13h2.43v1.97h-2.43zM267.0 117.00h2.43v2.70h-2.43zM269.1 117.00h2.43v2.70h-2.43zM275.5 117.00h2.43v2.70h-2.43zM275.5 123.35h2.43v1.95h-2.43zM277.7 123.35h2.43v1.95h-2.43zM290.5 123.35h2.13v1.95h-2.13zM267.0 131.60h2.43v1.95h-2.43zM279.8 131.60h2.43v1.95h-2.43zM286.2 131.60h2.43v1.95h-2.43zM281.9 133.25h2.43v1.65h-2.43zM267.0 142.70h2.43v2.80h-2.43zM275.5 142.70h2.43v2.80h-2.43zM277.7 142.70h2.43v2.80h-2.43zM281.9 142.70h2.43v2.80h-2.43zM290.5 142.70h2.13v2.80h-2.13zM284.1 146.00h2.43v2.30h-2.43zM286.2 146.00h2.43v2.30h-2.43zM281.9 150.00h2.43v1.95h-2.43zM271.3 151.65h2.43v1.65h-2.43zM267.0 164.10h2.43v2.80h-2.43zM277.7 164.10h2.43v2.80h-2.43zM279.8 164.10h2.43v2.80h-2.43zM284.1 164.10h2.43v2.80h-2.43zM286.2 164.10h2.43v2.80h-2.43zM288.3 164.10h2.43v2.80h-2.43zM277.7 182.00h2.43v2.25h-2.43zM275.5 183.95h2.43v1.95h-2.43z"/><path fill="#666666" d="M275.5 73.90h2.43v2.40h-2.43zM269.1 80.20h2.43v2.27h-2.43zM290.5 80.20h2.13v2.27h-2.13zM273.4 82.17h2.43v2.27h-2.43zM279.8 82.17h2.43v2.27h-2.43zM281.9 82.17h2.43v2.27h-2.43zM290.5 82.17h2.13v2.27h-2.13zM269.1 84.13h2.43v1.97h-2.43zM277.7 84.13h2.43v1.97h-2.43zM279.8 84.13h2.43v1.97h-2.43zM284.1 84.13h2.43v1.97h-2.43zM286.2 84.13h2.43v1.97h-2.43zM288.3 84.13h2.43v1.97h-2.43zM273.4 117.00h2.43v2.70h-2.43zM277.7 117.00h2.43v2.70h-2.43zM279.8 117.00h2.43v2.70h-2.43zM290.5 117.00h2.13v2.70h-2.13zM271.3 131.60h2.43v1.95h-2.43zM275.5 131.60h2.43v1.95h-2.43zM284.1 131.60h2.43v1.95h-2.43zM290.5 131.60h2.13v1.95h-2.13zM269.1 133.25h2.43v1.65h-2.43zM277.7 133.25h2.43v1.65h-2.43zM279.8 133.25h2.43v1.65h-2.43zM286.2 133.25h2.43v1.65h-2.43zM290.5 133.25h2.13v1.65h-2.13zM271.3 142.70h2.43v2.80h-2.43zM288.3 142.70h2.43v2.80h-2.43zM275.5 164.10h2.43v2.80h-2.43zM281.9 164.10h2.43v2.80h-2.43z"/><path fill="#797979" d="M277.7 73.90h2.43v2.40h-2.43zM279.8 73.90h2.43v2.40h-2.43zM288.3 73.90h2.43v2.40h-2.43zM281.9 89.00h2.43v1.80h-2.43zM275.5 92.50h2.43v2.30h-2.43zM267.0 104.70h2.43v1.70h-2.43zM290.5 104.70h2.13v1.70h-2.13zM286.2 114.53h2.43v1.87h-2.43zM288.3 114.53h2.43v1.87h-2.43zM269.1 121.40h2.43v2.25h-2.43zM284.1 121.40h2.43v2.25h-2.43zM269.1 123.35h2.43v1.95h-2.43zM286.2 123.35h2.43v1.95h-2.43zM277.7 127.10h2.43v2.20h-2.43zM286.2 127.10h2.43v2.20h-2.43zM290.5 127.10h2.13v2.20h-2.13zM281.9 131.60h2.43v1.95h-2.43zM267.0 133.25h2.43v1.65h-2.43zM273.4 133.25h2.43v1.65h-2.43zM284.1 133.25h2.43v1.65h-2.43zM288.3 133.25h2.43v1.65h-2.43zM267.0 146.00h2.43v2.30h-2.43zM271.3 146.00h2.43v2.30h-2.43zM273.4 146.00h2.43v2.30h-2.43zM288.3 146.00h2.43v2.30h-2.43zM269.1 150.00h2.43v1.95h-2.43zM277.7 150.00h2.43v1.95h-2.43zM288.3 150.00h2.43v1.95h-2.43zM290.5 150.00h2.13v1.95h-2.13zM284.1 155.80h2.43v2.80h-2.43zM290.5 155.80h2.13v2.80h-2.13zM269.1 164.10h2.43v2.80h-2.43zM273.4 164.10h2.43v2.80h-2.43zM288.3 166.90h2.43v2.80h-2.43zM267.0 182.00h2.43v2.25h-2.43zM271.3 182.00h2.43v2.25h-2.43zM273.4 182.00h2.43v2.25h-2.43zM279.8 182.00h2.43v2.25h-2.43zM286.2 182.00h2.43v2.25h-2.43zM279.8 183.95h2.43v1.95h-2.43zM281.9 183.95h2.43v1.95h-2.43zM284.1 183.95h2.43v1.95h-2.43z"/><path fill="#595959" d="M279.8 80.20h2.43v2.27h-2.43zM284.1 82.17h2.43v2.27h-2.43zM290.5 84.13h2.13v1.97h-2.13zM284.1 117.00h2.43v2.70h-2.43z"/><path fill="#a5a5a5" d="M267.0 86.70h2.43v2.30h-2.43zM269.1 148.30h2.43v1.70h-2.43zM275.5 148.30h2.43v1.70h-2.43zM281.9 148.30h2.43v1.70h-2.43zM284.1 148.30h2.43v1.70h-2.43zM286.2 148.30h2.43v1.70h-2.43z"/><path fill="#b8b8b8" d="M269.1 86.70h2.43v2.30h-2.43zM284.1 86.70h2.43v2.30h-2.43zM288.3 86.70h2.43v2.30h-2.43zM275.5 106.90h2.43v2.00h-2.43zM286.2 106.90h2.43v2.00h-2.43zM288.3 106.90h2.43v2.00h-2.43zM290.5 106.90h2.13v2.00h-2.13zM271.3 108.60h2.43v1.70h-2.43zM281.9 108.60h2.43v1.70h-2.43zM284.1 108.60h2.43v1.70h-2.43zM279.8 136.60h2.43v2.80h-2.43zM281.9 136.60h2.43v2.80h-2.43zM286.2 136.60h2.43v2.80h-2.43zM288.3 136.60h2.43v2.80h-2.43zM290.5 136.60h2.13v2.80h-2.13zM284.1 175.30h2.43v2.80h-2.43zM288.3 175.30h2.43v2.80h-2.43z"/><path fill="#bfbfbf" d="M271.3 86.70h2.43v2.30h-2.43zM281.9 86.70h2.43v2.30h-2.43zM271.3 106.90h2.43v2.00h-2.43zM284.1 106.90h2.43v2.00h-2.43zM269.1 108.60h2.43v1.70h-2.43zM277.7 108.60h2.43v1.70h-2.43zM267.0 136.60h2.43v2.80h-2.43zM269.1 136.60h2.43v2.80h-2.43zM277.7 136.60h2.43v2.80h-2.43z"/><path fill="#b2b2b2" d="M273.4 86.70h2.43v2.30h-2.43zM275.5 86.70h2.43v2.30h-2.43zM279.8 86.70h2.43v2.30h-2.43zM286.2 86.70h2.43v2.30h-2.43zM277.7 106.90h2.43v2.00h-2.43zM267.0 108.60h2.43v1.70h-2.43zM273.4 108.60h2.43v1.70h-2.43zM275.5 108.60h2.43v1.70h-2.43zM279.8 108.60h2.43v1.70h-2.43zM271.3 136.60h2.43v2.80h-2.43zM269.1 175.30h2.43v2.80h-2.43zM271.3 175.30h2.43v2.80h-2.43zM273.4 175.30h2.43v2.80h-2.43zM275.5 175.30h2.43v2.80h-2.43zM279.8 175.30h2.43v2.80h-2.43zM281.9 175.30h2.43v2.80h-2.43zM286.2 175.30h2.43v2.80h-2.43zM290.5 175.30h2.13v2.80h-2.13z"/><path fill="#acacac" d="M277.7 86.70h2.43v2.30h-2.43zM290.5 86.70h2.13v2.30h-2.13zM269.1 106.90h2.43v2.00h-2.43zM290.5 108.60h2.13v1.70h-2.13zM273.4 136.60h2.43v2.80h-2.43zM271.3 148.30h2.43v1.70h-2.43zM277.7 148.30h2.43v1.70h-2.43zM288.3 148.30h2.43v1.70h-2.43zM290.5 148.30h2.13v1.70h-2.13zM267.0 175.30h2.43v2.80h-2.43zM277.7 175.30h2.43v2.80h-2.43z"/><path fill="#858585" d="M267.0 89.00h2.43v1.80h-2.43zM273.4 89.00h2.43v1.80h-2.43zM277.7 89.00h2.43v1.80h-2.43zM267.0 92.50h2.43v2.30h-2.43zM273.4 92.50h2.43v2.30h-2.43zM284.1 97.10h2.43v2.90h-2.43zM269.1 103.00h2.43v2.00h-2.43zM277.7 103.00h2.43v2.00h-2.43zM284.1 103.00h2.43v2.00h-2.43zM286.2 104.70h2.43v1.70h-2.43zM269.1 110.80h2.43v2.17h-2.43zM275.5 110.80h2.43v2.17h-2.43zM286.2 110.80h2.43v2.17h-2.43zM267.0 112.67h2.43v2.17h-2.43zM290.5 112.67h2.13v2.17h-2.13zM267.0 114.53h2.43v1.87h-2.43zM281.9 114.53h2.43v1.87h-2.43zM267.0 121.40h2.43v2.25h-2.43zM281.9 121.40h2.43v2.25h-2.43zM286.2 121.40h2.43v2.25h-2.43zM288.3 121.40h2.43v2.25h-2.43zM279.8 123.35h2.43v1.95h-2.43zM275.5 127.10h2.43v2.20h-2.43zM284.1 127.10h2.43v2.20h-2.43zM275.5 146.00h2.43v2.30h-2.43zM277.7 146.00h2.43v2.30h-2.43zM290.5 146.00h2.13v2.30h-2.13zM267.0 150.00h2.43v1.95h-2.43zM273.4 151.65h2.43v1.65h-2.43zM281.9 151.65h2.43v1.65h-2.43zM284.1 151.65h2.43v1.65h-2.43zM290.5 151.65h2.13v1.65h-2.13zM271.3 153.30h2.43v2.80h-2.43zM277.7 153.30h2.43v2.80h-2.43zM281.9 153.30h2.43v2.80h-2.43zM286.2 153.30h2.43v2.80h-2.43zM273.4 155.80h2.43v2.80h-2.43zM288.3 155.80h2.43v2.80h-2.43zM277.7 158.30h2.43v2.50h-2.43zM267.0 166.90h2.43v2.80h-2.43zM269.1 166.90h2.43v2.80h-2.43zM273.4 166.90h2.43v2.80h-2.43zM279.8 166.90h2.43v2.80h-2.43zM284.1 166.90h2.43v2.80h-2.43zM273.4 169.40h2.43v2.50h-2.43zM277.7 169.40h2.43v2.50h-2.43zM281.9 169.40h2.43v2.50h-2.43zM281.9 182.00h2.43v2.25h-2.43zM271.3 183.95h2.43v1.95h-2.43zM277.7 183.95h2.43v1.95h-2.43z"/><path fill="#929292" d="M269.1 89.00h2.43v1.80h-2.43zM279.8 89.00h2.43v1.80h-2.43zM288.3 89.00h2.43v1.80h-2.43zM284.1 92.50h2.43v2.30h-2.43zM269.1 97.10h2.43v2.90h-2.43zM277.7 97.10h2.43v2.90h-2.43zM281.9 97.10h2.43v2.90h-2.43zM286.2 97.10h2.43v2.90h-2.43zM288.3 97.10h2.43v2.90h-2.43zM273.4 103.00h2.43v2.00h-2.43zM271.3 104.70h2.43v1.70h-2.43zM273.4 104.70h2.43v1.70h-2.43zM277.7 104.70h2.43v1.70h-2.43zM281.9 104.70h2.43v1.70h-2.43zM271.3 110.80h2.43v2.17h-2.43zM281.9 110.80h2.43v2.17h-2.43zM284.1 110.80h2.43v2.17h-2.43zM288.3 110.80h2.43v2.17h-2.43zM269.1 112.67h2.43v2.17h-2.43zM279.8 112.67h2.43v2.17h-2.43zM288.3 112.67h2.43v2.17h-2.43zM271.3 114.53h2.43v1.87h-2.43zM275.5 114.53h2.43v1.87h-2.43zM277.7 114.53h2.43v1.87h-2.43zM290.5 114.53h2.13v1.87h-2.13zM273.4 153.30h2.43v2.80h-2.43zM275.5 153.30h2.43v2.80h-2.43zM290.5 153.30h2.13v2.80h-2.13zM267.0 155.80h2.43v2.80h-2.43zM271.3 158.30h2.43v2.50h-2.43zM269.1 169.40h2.43v2.50h-2.43zM271.3 169.40h2.43v2.50h-2.43zM275.5 169.40h2.43v2.50h-2.43zM279.8 169.40h2.43v2.50h-2.43zM286.2 169.40h2.43v2.50h-2.43z"/><path fill="#8c8c8c" d="M271.3 89.00h2.43v1.80h-2.43zM284.1 89.00h2.43v1.80h-2.43zM286.2 89.00h2.43v1.80h-2.43zM290.5 89.00h2.13v1.80h-2.13zM269.1 92.50h2.43v2.30h-2.43zM271.3 92.50h2.43v2.30h-2.43zM281.9 92.50h2.43v2.30h-2.43zM286.2 92.50h2.43v2.30h-2.43zM288.3 92.50h2.43v2.30h-2.43zM290.5 92.50h2.13v2.30h-2.13zM267.0 97.10h2.43v2.90h-2.43zM271.3 97.10h2.43v2.90h-2.43zM273.4 97.10h2.43v2.90h-2.43zM279.8 97.10h2.43v2.90h-2.43zM290.5 97.10h2.13v2.90h-2.13zM267.0 103.00h2.43v2.00h-2.43zM275.5 103.00h2.43v2.00h-2.43zM281.9 103.00h2.43v2.00h-2.43zM286.2 103.00h2.43v2.00h-2.43zM290.5 103.00h2.13v2.00h-2.13zM284.1 104.70h2.43v1.70h-2.43zM273.4 110.80h2.43v2.17h-2.43zM279.8 110.80h2.43v2.17h-2.43zM290.5 110.80h2.13v2.17h-2.13zM273.4 112.67h2.43v2.17h-2.43zM284.1 112.67h2.43v2.17h-2.43zM286.2 112.67h2.43v2.17h-2.43zM273.4 114.53h2.43v1.87h-2.43zM267.0 153.30h2.43v2.80h-2.43zM269.1 153.30h2.43v2.80h-2.43zM279.8 153.30h2.43v2.80h-2.43zM271.3 155.80h2.43v2.80h-2.43zM281.9 155.80h2.43v2.80h-2.43zM267.0 158.30h2.43v2.50h-2.43zM269.1 158.30h2.43v2.50h-2.43zM281.9 158.30h2.43v2.50h-2.43zM286.2 158.30h2.43v2.50h-2.43zM288.3 158.30h2.43v2.50h-2.43zM290.5 158.30h2.13v2.50h-2.13zM275.5 166.90h2.43v2.80h-2.43zM277.7 166.90h2.43v2.80h-2.43zM281.9 166.90h2.43v2.80h-2.43zM267.0 169.40h2.43v2.50h-2.43zM284.1 169.40h2.43v2.50h-2.43z"/><path fill="#7f7f7f" d="M275.5 89.00h2.43v1.80h-2.43zM277.7 92.50h2.43v2.30h-2.43zM279.8 92.50h2.43v2.30h-2.43zM271.3 103.00h2.43v2.00h-2.43zM279.8 103.00h2.43v2.00h-2.43zM288.3 103.00h2.43v2.00h-2.43zM269.1 104.70h2.43v1.70h-2.43zM275.5 104.70h2.43v1.70h-2.43zM279.8 104.70h2.43v1.70h-2.43zM288.3 104.70h2.43v1.70h-2.43zM267.0 110.80h2.43v2.17h-2.43zM277.7 110.80h2.43v2.17h-2.43zM271.3 112.67h2.43v2.17h-2.43zM275.5 112.67h2.43v2.17h-2.43zM277.7 112.67h2.43v2.17h-2.43zM281.9 112.67h2.43v2.17h-2.43zM269.1 114.53h2.43v1.87h-2.43zM279.8 114.53h2.43v1.87h-2.43zM284.1 114.53h2.43v1.87h-2.43zM277.7 121.40h2.43v2.25h-2.43zM273.4 123.35h2.43v1.95h-2.43zM284.1 123.35h2.43v1.95h-2.43zM279.8 127.10h2.43v2.20h-2.43zM281.9 127.10h2.43v2.20h-2.43zM281.9 146.00h2.43v2.30h-2.43zM279.8 150.00h2.43v1.95h-2.43zM284.1 150.00h2.43v1.95h-2.43zM286.2 150.00h2.43v1.95h-2.43zM269.1 151.65h2.43v1.65h-2.43zM275.5 151.65h2.43v1.65h-2.43zM277.7 151.65h2.43v1.65h-2.43zM288.3 151.65h2.43v1.65h-2.43zM284.1 153.30h2.43v2.80h-2.43zM288.3 153.30h2.43v2.80h-2.43zM269.1 155.80h2.43v2.80h-2.43zM275.5 155.80h2.43v2.80h-2.43zM277.7 155.80h2.43v2.80h-2.43zM279.8 155.80h2.43v2.80h-2.43zM286.2 155.80h2.43v2.80h-2.43zM273.4 158.30h2.43v2.50h-2.43zM275.5 158.30h2.43v2.50h-2.43zM279.8 158.30h2.43v2.50h-2.43zM284.1 158.30h2.43v2.50h-2.43zM271.3 166.90h2.43v2.80h-2.43zM286.2 166.90h2.43v2.80h-2.43zM290.5 166.90h2.13v2.80h-2.13zM288.3 169.40h2.43v2.50h-2.43zM290.5 169.40h2.13v2.50h-2.13zM269.1 182.00h2.43v2.25h-2.43zM275.5 182.00h2.43v2.25h-2.43zM284.1 182.00h2.43v2.25h-2.43zM288.3 182.00h2.43v2.25h-2.43zM290.5 182.00h2.13v2.25h-2.13zM286.2 183.95h2.43v1.95h-2.43zM290.5 183.95h2.13v1.95h-2.13z"/><path fill="#999999" d="M275.5 97.10h2.43v2.90h-2.43zM267.0 148.30h2.43v1.70h-2.43zM273.4 148.30h2.43v1.70h-2.43z"/><path fill="#9f9f9f" d="M279.8 148.30h2.43v1.70h-2.43z"/><path fill="#909090" d="M267.0 185.90h2.43v1.95h-2.43zM273.4 185.90h2.43v1.95h-2.43zM279.8 185.90h2.43v1.95h-2.43zM290.5 185.90h2.13v1.95h-2.13zM273.4 187.55h2.43v1.65h-2.43zM279.8 187.55h2.43v1.65h-2.43z"/><path fill="#b89098" d="M269.1 185.90h2.43v1.95h-2.43zM271.3 185.90h2.43v1.95h-2.43zM288.3 185.90h2.43v1.95h-2.43zM267.0 187.55h2.43v1.65h-2.43zM271.3 187.55h2.43v1.65h-2.43zM284.1 187.55h2.43v1.65h-2.43zM290.5 187.55h2.13v1.65h-2.13z"/><path fill="#a0a0a0" d="M275.5 185.90h2.43v1.95h-2.43zM284.1 185.90h2.43v1.95h-2.43zM269.1 187.55h2.43v1.65h-2.43zM275.5 187.55h2.43v1.65h-2.43zM288.3 187.55h2.43v1.65h-2.43z"/><path fill="#d8d0d2" d="M277.7 185.90h2.43v1.95h-2.43zM281.9 185.90h2.43v1.95h-2.43zM286.2 185.90h2.43v1.95h-2.43zM281.9 187.55h2.43v1.65h-2.43zM286.2 187.55h2.43v1.65h-2.43z"/><path fill="#c9a9b0" d="M277.7 187.55h2.43v1.65h-2.43z"/><path fill="#2a0a12" d="M267.0 189.20h2.43v2.80h-2.43zM275.5 189.20h2.43v2.80h-2.43zM286.2 189.20h2.43v2.80h-2.43z"/><path fill="#111111" d="M269.1 189.20h2.43v2.80h-2.43zM271.3 189.20h2.43v2.80h-2.43zM273.4 189.20h2.43v2.80h-2.43zM284.1 189.20h2.43v2.80h-2.43z"/><path fill="#8a2038" d="M277.7 189.20h2.43v2.80h-2.43zM281.9 189.20h2.43v2.80h-2.43zM288.3 189.20h2.43v2.80h-2.43z"/><path fill="#3a3a3a" d="M279.8 189.20h2.43v2.80h-2.43z"/><path fill="#6a1228" d="M290.5 189.20h2.13v2.80h-2.13z"/><path fill="#fff" fill-opacity="0.5" d="M267 73.55h25.60v0.4h-25.60zM267 75.70h25.60v0.4h-25.60zM267 77.84h25.60v0.4h-25.60zM267 79.99h25.60v0.4h-25.60zM267 82.14h25.60v0.4h-25.60zM267 84.29h25.60v0.4h-25.60zM267 86.44h25.60v0.4h-25.60zM267 88.59h25.60v0.4h-25.60zM267 90.73h25.60v0.4h-25.60zM267 92.88h25.60v0.4h-25.60zM267 95.03h25.60v0.4h-25.60zM267 97.18h25.60v0.4h-25.60zM267 99.33h25.60v0.4h-25.60zM267 101.47h25.60v0.4h-25.60zM267 103.62h25.60v0.4h-25.60zM267 105.77h25.60v0.4h-25.60zM267 107.92h25.60v0.4h-25.60zM267 110.07h25.60v0.4h-25.60zM267 112.22h25.60v0.4h-25.60zM267 114.36h25.60v0.4h-25.60zM267 116.51h25.60v0.4h-25.60zM267 118.66h25.60v0.4h-25.60zM267 120.81h25.60v0.4h-25.60zM267 122.96h25.60v0.4h-25.60zM267 125.11h25.60v0.4h-25.60zM267 127.25h25.60v0.4h-25.60zM267 129.40h25.60v0.4h-25.60zM267 131.55h25.60v0.4h-25.60zM267 133.70h25.60v0.4h-25.60zM267 135.85h25.60v0.4h-25.60zM267 137.99h25.60v0.4h-25.60zM267 140.14h25.60v0.4h-25.60zM267 142.29h25.60v0.4h-25.60zM267 144.44h25.60v0.4h-25.60zM267 146.59h25.60v0.4h-25.60zM267 148.74h25.60v0.4h-25.60zM267 150.88h25.60v0.4h-25.60zM267 153.03h25.60v0.4h-25.60zM267 155.18h25.60v0.4h-25.60zM267 157.33h25.60v0.4h-25.60zM267 159.48h25.60v0.4h-25.60zM267 161.62h25.60v0.4h-25.60zM267 163.77h25.60v0.4h-25.60zM267 165.92h25.60v0.4h-25.60zM267 168.07h25.60v0.4h-25.60zM267 170.22h25.60v0.4h-25.60zM267 172.37h25.60v0.4h-25.60zM267 174.51h25.60v0.4h-25.60zM267 176.66h25.60v0.4h-25.60zM267 178.81h25.60v0.4h-25.60zM267 180.96h25.60v0.4h-25.60zM267 183.11h25.60v0.4h-25.60zM267 185.26h25.60v0.4h-25.60zM267 187.40h25.60v0.4h-25.60zM267 189.55h25.60v0.4h-25.60z"/><path fill="#fff" fill-opacity="0.3" d="M267 72.00h25.60v0.4h-25.60zM267 73.30h25.60v0.4h-25.60zM267 73.70h25.60v0.4h-25.60zM267 76.10h25.60v0.4h-25.60zM267 76.50h25.60v0.4h-25.60zM267 79.00h25.60v0.4h-25.60zM267 81.97h25.60v0.4h-25.60zM267 83.93h25.60v0.4h-25.60zM267 80.00h25.60v0.4h-25.60zM267 85.90h25.60v0.4h-25.60zM267 86.50h25.60v0.4h-25.60zM267 88.80h25.60v0.4h-25.60zM267 88.80h25.60v0.4h-25.60zM267 90.60h25.60v0.4h-25.60zM267 91.10h25.60v0.4h-25.60zM267 92.30h25.60v0.4h-25.60zM267 92.30h25.60v0.4h-25.60zM267 94.60h25.60v0.4h-25.60zM267 94.80h25.60v0.4h-25.60zM267 96.80h25.60v0.4h-25.60zM267 96.90h25.60v0.4h-25.60zM267 99.80h25.60v0.4h-25.60zM267 100.00h25.60v0.4h-25.60zM267 102.30h25.60v0.4h-25.60zM267 104.50h25.60v0.4h-25.60zM267 102.80h25.60v0.4h-25.60zM267 106.20h25.60v0.4h-25.60zM267 108.40h25.60v0.4h-25.60zM267 106.70h25.60v0.4h-25.60zM267 110.10h25.60v0.4h-25.60zM267 112.47h25.60v0.4h-25.60zM267 114.33h25.60v0.4h-25.60zM267 110.60h25.60v0.4h-25.60zM267 116.20h25.60v0.4h-25.60zM267 116.80h25.60v0.4h-25.60zM267 119.50h25.60v0.4h-25.60zM267 120.10h25.60v0.4h-25.60zM267 121.20h25.60v0.4h-25.60zM267 123.15h25.60v0.4h-25.60zM267 121.20h25.60v0.4h-25.60zM267 125.10h25.60v0.4h-25.60zM267 125.70h25.60v0.4h-25.60zM267 126.90h25.60v0.4h-25.60zM267 126.90h25.60v0.4h-25.60zM267 129.10h25.60v0.4h-25.60zM267 129.70h25.60v0.4h-25.60zM267 131.40h25.60v0.4h-25.60zM267 133.05h25.60v0.4h-25.60zM267 131.40h25.60v0.4h-25.60zM267 134.70h25.60v0.4h-25.60zM267 135.30h25.60v0.4h-25.60zM267 136.40h25.60v0.4h-25.60zM267 136.40h25.60v0.4h-25.60zM267 139.20h25.60v0.4h-25.60zM267 139.80h25.60v0.4h-25.60zM267 142.00h25.60v0.4h-25.60zM267 142.50h25.60v0.4h-25.60zM267 145.30h25.60v0.4h-25.60zM267 145.80h25.60v0.4h-25.60zM267 148.10h25.60v0.4h-25.60zM267 148.10h25.60v0.4h-25.60zM267 149.80h25.60v0.4h-25.60zM267 151.45h25.60v0.4h-25.60zM267 149.80h25.60v0.4h-25.60zM267 153.10h25.60v0.4h-25.60zM267 155.60h25.60v0.4h-25.60zM267 158.10h25.60v0.4h-25.60zM267 153.10h25.60v0.4h-25.60zM267 160.60h25.60v0.4h-25.60zM267 161.10h25.60v0.4h-25.60zM267 163.40h25.60v0.4h-25.60zM267 163.90h25.60v0.4h-25.60zM267 166.70h25.60v0.4h-25.60zM267 169.20h25.60v0.4h-25.60zM267 166.70h25.60v0.4h-25.60zM267 171.70h25.60v0.4h-25.60zM267 172.30h25.60v0.4h-25.60zM267 175.10h25.60v0.4h-25.60zM267 175.10h25.60v0.4h-25.60zM267 177.90h25.60v0.4h-25.60zM267 178.40h25.60v0.4h-25.60zM267 181.20h25.60v0.4h-25.60zM267 183.75h25.60v0.4h-25.60zM267 181.80h25.60v0.4h-25.60zM267 185.70h25.60v0.4h-25.60zM267 187.35h25.60v0.4h-25.60zM267 185.70h25.60v0.4h-25.60zM267 189.00h25.60v0.4h-25.60zM267 189.00h25.60v0.4h-25.60zM267 191.80h25.60v0.4h-25.60z"/><path fill="#fff" fill-opacity="0.2" d="M268.93 71.6h0.4v120.30h-0.4zM271.07 71.6h0.4v120.30h-0.4zM273.20 71.6h0.4v120.30h-0.4zM275.33 71.6h0.4v120.30h-0.4zM277.47 71.6h0.4v120.30h-0.4zM279.60 71.6h0.4v120.30h-0.4zM281.73 71.6h0.4v120.30h-0.4zM283.87 71.6h0.4v120.30h-0.4zM286.00 71.6h0.4v120.30h-0.4zM288.13 71.6h0.4v120.30h-0.4zM290.27 71.6h0.4v120.30h-0.4z"/><rect x="283.72" y="71.6" width="0.7" height="120.30" fill="#fff" fill-opacity="0.5"/><rect x="287.98" y="71.6" width="0.7" height="120.30" fill="#fff" fill-opacity="0.5"/><rect x="290.12" y="71.6" width="0.7" height="120.30" fill="#fff" fill-opacity="0.5"/></g>
<g><path fill="#d8d8d8" d="M295.7 71.60h26.10v120.30h-26.10zM306.6 72.20h2.48v1.30h-2.48zM308.8 72.20h2.48v1.30h-2.48zM313.1 72.20h2.48v1.30h-2.48zM315.3 72.20h2.48v1.30h-2.48zM317.4 72.20h2.48v1.30h-2.48zM295.7 76.70h2.48v2.50h-2.48zM308.8 76.70h2.48v2.50h-2.48zM313.1 76.70h2.48v2.50h-2.48zM295.7 80.20h2.48v2.27h-2.48zM300.1 80.20h2.48v2.27h-2.48zM313.1 80.20h2.48v2.27h-2.48zM300.1 82.17h2.48v2.27h-2.48zM319.6 84.13h2.18v1.97h-2.18zM302.2 91.30h2.48v1.20h-2.48zM319.6 91.30h2.18v1.20h-2.18zM310.9 95.00h2.48v2.00h-2.48zM319.6 95.00h2.18v2.00h-2.18zM295.7 100.20h2.48v2.30h-2.48zM306.6 100.20h2.48v2.30h-2.48zM315.3 100.20h2.48v2.30h-2.48zM295.7 120.30h2.48v1.10h-2.48zM302.2 120.30h2.48v1.10h-2.48zM306.6 120.30h2.48v1.10h-2.48zM310.9 120.30h2.48v1.10h-2.48zM317.4 120.30h2.48v1.10h-2.48zM304.4 125.90h2.48v1.20h-2.48zM306.6 125.90h2.48v1.20h-2.48zM310.9 125.90h2.48v1.20h-2.48zM319.6 129.90h2.18v1.70h-2.18zM302.2 131.60h2.48v1.95h-2.48zM310.9 131.60h2.48v1.95h-2.48zM313.1 131.60h2.48v1.95h-2.48zM306.6 133.25h2.48v1.65h-2.48zM315.3 133.25h2.48v1.65h-2.48zM317.4 133.25h2.48v1.65h-2.48zM295.7 135.50h2.48v1.10h-2.48zM306.6 135.50h2.48v1.10h-2.48zM310.9 135.50h2.48v1.10h-2.48zM313.1 135.50h2.48v1.10h-2.48zM319.6 135.50h2.18v1.10h-2.18zM300.1 136.60h2.48v2.80h-2.48zM302.2 136.60h2.48v2.80h-2.48zM310.9 140.00h2.48v2.20h-2.48zM308.8 146.00h2.48v2.30h-2.48zM315.3 146.00h2.48v2.30h-2.48zM319.6 146.00h2.18v2.30h-2.18zM304.4 161.30h2.48v2.30h-2.48zM306.6 161.30h2.48v2.30h-2.48zM308.8 161.30h2.48v2.30h-2.48zM310.9 161.30h2.48v2.30h-2.48zM313.1 161.30h2.48v2.30h-2.48zM319.6 161.30h2.18v2.30h-2.18zM295.7 172.50h2.48v2.80h-2.48zM297.9 172.50h2.48v2.80h-2.48zM300.1 172.50h2.48v2.80h-2.48zM313.1 178.60h2.48v2.80h-2.48zM310.9 182.00h2.48v2.25h-2.48zM302.2 183.95h2.48v1.95h-2.48zM310.9 183.95h2.48v1.95h-2.48z"/><path fill="#dfdfdf" d="M295.7 72.20h2.48v1.30h-2.48zM297.9 72.20h2.48v1.30h-2.48zM304.4 72.20h2.48v1.30h-2.48zM300.1 76.70h2.48v2.50h-2.48zM302.2 76.70h2.48v2.50h-2.48zM317.4 76.70h2.48v2.50h-2.48zM297.9 80.20h2.48v2.27h-2.48zM306.6 91.30h2.48v1.20h-2.48zM308.8 91.30h2.48v1.20h-2.48zM310.9 91.30h2.48v1.20h-2.48zM315.3 95.00h2.48v2.00h-2.48zM317.4 95.00h2.48v2.00h-2.48zM300.1 100.20h2.48v2.30h-2.48zM313.1 100.20h2.48v2.30h-2.48zM297.9 120.30h2.48v1.10h-2.48zM308.8 120.30h2.48v1.10h-2.48zM319.6 120.30h2.18v1.10h-2.18zM302.2 125.90h2.48v1.20h-2.48zM304.4 129.90h2.48v1.70h-2.48zM315.3 129.90h2.48v1.70h-2.48zM319.6 131.60h2.18v1.95h-2.18zM304.4 133.25h2.48v1.65h-2.48zM300.1 135.50h2.48v1.10h-2.48zM302.2 135.50h2.48v1.10h-2.48zM308.8 135.50h2.48v1.10h-2.48zM315.3 135.50h2.48v1.10h-2.48zM317.4 135.50h2.48v1.10h-2.48zM295.7 136.60h2.48v2.80h-2.48zM310.9 136.60h2.48v2.80h-2.48zM317.4 136.60h2.48v2.80h-2.48zM295.7 140.00h2.48v2.20h-2.48zM306.6 140.00h2.48v2.20h-2.48zM308.8 140.00h2.48v2.20h-2.48zM319.6 140.00h2.18v2.20h-2.18zM295.7 178.60h2.48v2.80h-2.48zM302.2 178.60h2.48v2.80h-2.48z"/><path fill="#c5c5c5" d="M300.1 72.20h2.48v1.30h-2.48zM295.7 73.90h2.48v2.40h-2.48zM297.9 73.90h2.48v2.40h-2.48zM306.6 73.90h2.48v2.40h-2.48zM308.8 73.90h2.48v2.40h-2.48zM317.4 73.90h2.48v2.40h-2.48zM295.7 91.30h2.48v1.20h-2.48zM304.4 100.20h2.48v2.30h-2.48zM317.4 100.20h2.48v2.30h-2.48zM302.2 106.90h2.48v2.00h-2.48zM304.4 106.90h2.48v2.00h-2.48zM306.6 106.90h2.48v2.00h-2.48zM313.1 106.90h2.48v2.00h-2.48zM315.3 106.90h2.48v2.00h-2.48zM304.4 108.60h2.48v1.70h-2.48zM308.8 108.60h2.48v1.70h-2.48zM313.1 120.30h2.48v1.10h-2.48zM295.7 125.90h2.48v1.20h-2.48zM297.9 125.90h2.48v1.20h-2.48zM319.6 125.90h2.18v1.20h-2.18zM300.1 129.90h2.48v1.70h-2.48zM300.1 140.00h2.48v2.20h-2.48zM295.7 161.30h2.48v2.30h-2.48zM317.4 161.30h2.48v2.30h-2.48zM304.4 175.30h2.48v2.80h-2.48zM313.1 175.30h2.48v2.80h-2.48zM300.1 178.60h2.48v2.80h-2.48z"/><path fill="#cccccc" d="M302.2 72.20h2.48v1.30h-2.48zM310.9 72.20h2.48v1.30h-2.48zM319.6 72.20h2.18v1.30h-2.18zM300.1 73.90h2.48v2.40h-2.48zM306.6 76.70h2.48v2.50h-2.48zM310.9 82.17h2.48v2.27h-2.48zM313.1 82.17h2.48v2.27h-2.48zM315.3 82.17h2.48v2.27h-2.48zM297.9 84.13h2.48v1.97h-2.48zM304.4 84.13h2.48v1.97h-2.48zM315.3 84.13h2.48v1.97h-2.48zM297.9 91.30h2.48v1.20h-2.48zM300.1 91.30h2.48v1.20h-2.48zM313.1 91.30h2.48v1.20h-2.48zM317.4 91.30h2.48v1.20h-2.48zM295.7 95.00h2.48v2.00h-2.48zM297.9 95.00h2.48v2.00h-2.48zM300.1 95.00h2.48v2.00h-2.48zM302.2 95.00h2.48v2.00h-2.48zM308.8 95.00h2.48v2.00h-2.48zM313.1 95.00h2.48v2.00h-2.48zM297.9 100.20h2.48v2.30h-2.48zM308.8 100.20h2.48v2.30h-2.48zM310.9 100.20h2.48v2.30h-2.48zM295.7 106.90h2.48v2.00h-2.48zM297.9 106.90h2.48v2.00h-2.48zM300.1 106.90h2.48v2.00h-2.48zM308.8 106.90h2.48v2.00h-2.48zM319.6 106.90h2.18v2.00h-2.18zM310.9 108.60h2.48v1.70h-2.48zM315.3 108.60h2.48v1.70h-2.48zM317.4 108.60h2.48v1.70h-2.48zM300.1 120.30h2.48v1.10h-2.48zM315.3 125.90h2.48v1.20h-2.48zM297.9 129.90h2.48v1.70h-2.48zM317.4 129.90h2.48v1.70h-2.48zM297.9 131.60h2.48v1.95h-2.48zM306.6 131.60h2.48v1.95h-2.48zM315.3 131.60h2.48v1.95h-2.48zM317.4 131.60h2.48v1.95h-2.48zM297.9 136.60h2.48v2.80h-2.48zM308.8 136.60h2.48v2.80h-2.48zM319.6 136.60h2.18v2.80h-2.18zM297.9 140.00h2.48v2.20h-2.48zM317.4 140.00h2.48v2.20h-2.48zM300.1 146.00h2.48v2.30h-2.48zM304.4 146.00h2.48v2.30h-2.48zM300.1 161.30h2.48v2.30h-2.48zM302.2 161.30h2.48v2.30h-2.48zM310.9 172.50h2.48v2.80h-2.48zM313.1 172.50h2.48v2.80h-2.48zM317.4 172.50h2.48v2.80h-2.48zM297.9 178.60h2.48v2.80h-2.48zM304.4 178.60h2.48v2.80h-2.48zM306.6 178.60h2.48v2.80h-2.48zM308.8 178.60h2.48v2.80h-2.48zM310.9 178.60h2.48v2.80h-2.48zM295.7 182.00h2.48v2.25h-2.48zM308.8 182.00h2.48v2.25h-2.48zM300.1 183.95h2.48v1.95h-2.48zM319.6 183.95h2.18v1.95h-2.18z"/><path fill="#d2d2d2" d="M302.2 73.90h2.48v2.40h-2.48zM304.4 73.90h2.48v2.40h-2.48zM304.4 76.70h2.48v2.50h-2.48zM310.9 76.70h2.48v2.50h-2.48zM319.6 76.70h2.18v2.50h-2.18zM308.8 80.20h2.48v2.27h-2.48zM310.9 80.20h2.48v2.27h-2.48zM317.4 80.20h2.48v2.27h-2.48zM297.9 82.17h2.48v2.27h-2.48zM304.4 91.30h2.48v1.20h-2.48zM315.3 91.30h2.48v1.20h-2.48zM304.4 95.00h2.48v2.00h-2.48zM306.6 95.00h2.48v2.00h-2.48zM302.2 100.20h2.48v2.30h-2.48zM319.6 100.20h2.18v2.30h-2.18zM317.4 106.90h2.48v2.00h-2.48zM295.7 108.60h2.48v1.70h-2.48zM297.9 108.60h2.48v1.70h-2.48zM313.1 108.60h2.48v1.70h-2.48zM304.4 120.30h2.48v1.10h-2.48zM315.3 120.30h2.48v1.10h-2.48zM300.1 125.90h2.48v1.20h-2.48zM308.8 125.90h2.48v1.20h-2.48zM313.1 125.90h2.48v1.20h-2.48zM317.4 125.90h2.48v1.20h-2.48zM295.7 129.90h2.48v1.70h-2.48zM302.2 129.90h2.48v1.70h-2.48zM306.6 129.90h2.48v1.70h-2.48zM308.8 129.90h2.48v1.70h-2.48zM310.9 129.90h2.48v1.70h-2.48zM313.1 129.90h2.48v1.70h-2.48zM295.7 131.60h2.48v1.95h-2.48zM300.1 131.60h2.48v1.95h-2.48zM304.4 131.60h2.48v1.95h-2.48zM308.8 131.60h2.48v1.95h-2.48zM297.9 133.25h2.48v1.65h-2.48zM302.2 133.25h2.48v1.65h-2.48zM308.8 133.25h2.48v1.65h-2.48zM313.1 133.25h2.48v1.65h-2.48zM319.6 133.25h2.18v1.65h-2.18zM297.9 135.50h2.48v1.10h-2.48zM304.4 135.50h2.48v1.10h-2.48zM304.4 136.60h2.48v2.80h-2.48zM306.6 136.60h2.48v2.80h-2.48zM313.1 136.60h2.48v2.80h-2.48zM315.3 136.60h2.48v2.80h-2.48zM302.2 140.00h2.48v2.20h-2.48zM304.4 140.00h2.48v2.20h-2.48zM313.1 140.00h2.48v2.20h-2.48zM315.3 140.00h2.48v2.20h-2.48zM297.9 161.30h2.48v2.30h-2.48zM315.3 161.30h2.48v2.30h-2.48zM302.2 172.50h2.48v2.80h-2.48zM304.4 172.50h2.48v2.80h-2.48zM306.6 172.50h2.48v2.80h-2.48zM308.8 172.50h2.48v2.80h-2.48zM315.3 172.50h2.48v2.80h-2.48zM319.6 172.50h2.18v2.80h-2.18zM315.3 178.60h2.48v2.80h-2.48zM317.4 178.60h2.48v2.80h-2.48zM319.6 178.60h2.18v2.80h-2.18z"/><path fill="#bfbfbf" d="M310.9 73.90h2.48v2.40h-2.48zM319.6 73.90h2.18v2.40h-2.18zM310.9 106.90h2.48v2.00h-2.48zM300.1 108.60h2.48v1.70h-2.48zM302.2 108.60h2.48v1.70h-2.48zM306.6 108.60h2.48v1.70h-2.48zM319.6 108.60h2.18v1.70h-2.18zM302.2 175.30h2.48v2.80h-2.48zM308.8 175.30h2.48v2.80h-2.48zM310.9 175.30h2.48v2.80h-2.48zM315.3 175.30h2.48v2.80h-2.48z"/><path fill="#b8b8b8" d="M313.1 73.90h2.48v2.40h-2.48zM315.3 73.90h2.48v2.40h-2.48zM295.7 86.70h2.48v2.30h-2.48zM300.1 86.70h2.48v2.30h-2.48zM317.4 86.70h2.48v2.30h-2.48zM306.6 148.30h2.48v1.70h-2.48zM310.9 148.30h2.48v1.70h-2.48zM315.3 148.30h2.48v1.70h-2.48zM295.7 175.30h2.48v2.80h-2.48z"/><path fill="#e5e5e5" d="M297.9 76.70h2.48v2.50h-2.48zM315.3 76.70h2.48v2.50h-2.48z"/><path fill="#8c8c8c" d="M302.2 80.20h2.48v2.27h-2.48zM310.9 84.13h2.48v1.97h-2.48zM302.2 89.00h2.48v1.80h-2.48zM306.6 89.00h2.48v1.80h-2.48zM317.4 89.00h2.48v1.80h-2.48zM302.2 92.50h2.48v2.30h-2.48zM315.3 92.50h2.48v2.30h-2.48zM319.6 92.50h2.18v2.30h-2.18zM300.1 103.00h2.48v2.00h-2.48zM306.6 103.00h2.48v2.00h-2.48zM313.1 103.00h2.48v2.00h-2.48zM317.4 103.00h2.48v2.00h-2.48zM304.4 104.70h2.48v1.70h-2.48zM306.6 104.70h2.48v1.70h-2.48zM308.8 104.70h2.48v1.70h-2.48zM297.9 127.10h2.48v2.20h-2.48zM302.2 127.10h2.48v2.20h-2.48zM304.4 127.10h2.48v2.20h-2.48zM308.8 127.10h2.48v2.20h-2.48zM310.9 127.10h2.48v2.20h-2.48zM310.9 146.00h2.48v2.30h-2.48zM297.9 166.90h2.48v2.80h-2.48zM300.1 166.90h2.48v2.80h-2.48zM306.6 166.90h2.48v2.80h-2.48zM297.9 169.40h2.48v2.50h-2.48zM302.2 169.40h2.48v2.50h-2.48zM306.6 169.40h2.48v2.50h-2.48zM319.6 169.40h2.18v2.50h-2.18z"/><path fill="#727272" d="M304.4 80.20h2.48v2.27h-2.48zM308.8 84.13h2.48v1.97h-2.48zM300.1 110.80h2.48v2.17h-2.48zM306.6 110.80h2.48v2.17h-2.48zM315.3 110.80h2.48v2.17h-2.48zM317.4 110.80h2.48v2.17h-2.48zM319.6 110.80h2.18v2.17h-2.18zM304.4 112.67h2.48v2.17h-2.48zM313.1 112.67h2.48v2.17h-2.48zM319.6 112.67h2.18v2.17h-2.18zM310.9 114.53h2.48v1.87h-2.48zM304.4 117.00h2.48v2.70h-2.48zM308.8 117.00h2.48v2.70h-2.48zM317.4 117.00h2.48v2.70h-2.48zM319.6 117.00h2.18v2.70h-2.18zM295.7 164.10h2.48v2.80h-2.48zM300.1 164.10h2.48v2.80h-2.48zM308.8 164.10h2.48v2.80h-2.48zM304.4 182.00h2.48v2.25h-2.48zM313.1 182.00h2.48v2.25h-2.48zM304.4 183.95h2.48v1.95h-2.48zM308.8 183.95h2.48v1.95h-2.48z"/><path fill="#595959" d="M306.6 80.20h2.48v2.27h-2.48zM302.2 82.17h2.48v2.27h-2.48zM313.1 121.40h2.48v2.25h-2.48zM319.6 121.40h2.18v2.25h-2.18zM300.1 123.35h2.48v1.95h-2.48zM304.4 123.35h2.48v1.95h-2.48zM310.9 123.35h2.48v1.95h-2.48zM317.4 123.35h2.48v1.95h-2.48zM300.1 133.25h2.48v1.65h-2.48zM297.9 142.70h2.48v2.80h-2.48zM302.2 142.70h2.48v2.80h-2.48zM304.4 142.70h2.48v2.80h-2.48zM308.8 142.70h2.48v2.80h-2.48zM310.9 142.70h2.48v2.80h-2.48zM313.1 142.70h2.48v2.80h-2.48zM315.3 142.70h2.48v2.80h-2.48zM319.6 142.70h2.18v2.80h-2.18zM317.4 146.00h2.48v2.30h-2.48zM300.1 150.00h2.48v1.95h-2.48zM304.4 150.00h2.48v1.95h-2.48zM306.6 150.00h2.48v1.95h-2.48zM310.9 150.00h2.48v1.95h-2.48zM295.7 151.65h2.48v1.65h-2.48zM302.2 151.65h2.48v1.65h-2.48zM308.8 151.65h2.48v1.65h-2.48zM295.7 183.95h2.48v1.95h-2.48z"/><path fill="#666666" d="M315.3 80.20h2.48v2.27h-2.48zM295.7 117.00h2.48v2.70h-2.48zM295.7 121.40h2.48v2.25h-2.48zM297.9 121.40h2.48v2.25h-2.48zM304.4 121.40h2.48v2.25h-2.48zM306.6 121.40h2.48v2.25h-2.48zM315.3 121.40h2.48v2.25h-2.48zM317.4 121.40h2.48v2.25h-2.48zM295.7 123.35h2.48v1.95h-2.48zM297.9 123.35h2.48v1.95h-2.48zM302.2 123.35h2.48v1.95h-2.48zM306.6 123.35h2.48v1.95h-2.48zM300.1 142.70h2.48v2.80h-2.48zM313.1 146.00h2.48v2.30h-2.48zM295.7 150.00h2.48v1.95h-2.48zM308.8 150.00h2.48v1.95h-2.48zM315.3 150.00h2.48v1.95h-2.48zM313.1 151.65h2.48v1.65h-2.48zM317.4 151.65h2.48v1.65h-2.48zM304.4 164.10h2.48v2.80h-2.48zM306.6 164.10h2.48v2.80h-2.48zM313.1 164.10h2.48v2.80h-2.48zM317.4 183.95h2.48v1.95h-2.48z"/><path fill="#4c4c4c" d="M319.6 80.20h2.18v2.27h-2.18zM313.1 84.13h2.48v1.97h-2.48zM297.9 146.00h2.48v2.30h-2.48zM319.6 182.00h2.18v2.25h-2.18z"/><path fill="#7f7f7f" d="M295.7 82.17h2.48v2.27h-2.48zM306.6 82.17h2.48v2.27h-2.48zM308.8 82.17h2.48v2.27h-2.48zM317.4 82.17h2.48v2.27h-2.48zM319.6 82.17h2.18v2.27h-2.18zM295.7 84.13h2.48v1.97h-2.48zM306.6 84.13h2.48v1.97h-2.48zM313.1 110.80h2.48v2.17h-2.48zM295.7 112.67h2.48v2.17h-2.48zM297.9 112.67h2.48v2.17h-2.48zM310.9 112.67h2.48v2.17h-2.48zM317.4 112.67h2.48v2.17h-2.48zM300.1 114.53h2.48v1.87h-2.48zM306.6 114.53h2.48v1.87h-2.48zM317.4 114.53h2.48v1.87h-2.48zM295.7 127.10h2.48v2.20h-2.48zM300.1 127.10h2.48v2.20h-2.48zM315.3 127.10h2.48v2.20h-2.48zM317.4 127.10h2.48v2.20h-2.48zM295.7 133.25h2.48v1.65h-2.48zM302.2 146.00h2.48v2.30h-2.48zM306.6 146.00h2.48v2.30h-2.48zM302.2 182.00h2.48v2.25h-2.48z"/><path fill="#3f3f3f" d="M304.4 82.17h2.48v2.27h-2.48zM310.9 133.25h2.48v1.65h-2.48zM295.7 146.00h2.48v2.30h-2.48zM306.6 182.00h2.48v2.25h-2.48zM297.9 183.95h2.48v1.95h-2.48z"/><path fill="#333333" d="M300.1 84.13h2.48v1.97h-2.48zM297.9 182.00h2.48v2.25h-2.48zM317.4 182.00h2.48v2.25h-2.48zM306.6 183.95h2.48v1.95h-2.48zM315.3 183.95h2.48v1.95h-2.48z"/><path fill="#5a1528" d="M302.2 84.13h2.48v1.97h-2.48zM300.1 182.00h2.48v2.25h-2.48zM315.3 182.00h2.48v2.25h-2.48z"/><path fill="#262626" d="M317.4 84.13h2.48v1.97h-2.48zM313.1 183.95h2.48v1.95h-2.48z"/><path fill="#b2b2b2" d="M297.9 86.70h2.48v2.30h-2.48zM302.2 86.70h2.48v2.30h-2.48zM308.8 86.70h2.48v2.30h-2.48zM313.1 148.30h2.48v1.70h-2.48zM297.9 175.30h2.48v2.80h-2.48zM300.1 175.30h2.48v2.80h-2.48zM306.6 175.30h2.48v2.80h-2.48zM317.4 175.30h2.48v2.80h-2.48zM319.6 175.30h2.18v2.80h-2.18z"/><path fill="#acacac" d="M304.4 86.70h2.48v2.30h-2.48zM315.3 86.70h2.48v2.30h-2.48zM319.6 97.10h2.18v2.90h-2.18zM295.7 148.30h2.48v1.70h-2.48zM297.9 148.30h2.48v1.70h-2.48zM300.1 148.30h2.48v1.70h-2.48zM317.4 153.30h2.48v2.80h-2.48zM319.6 153.30h2.18v2.80h-2.18zM300.1 155.80h2.48v2.80h-2.48zM310.9 158.30h2.48v2.50h-2.48z"/><path fill="#a5a5a5" d="M306.6 86.70h2.48v2.30h-2.48zM310.9 86.70h2.48v2.30h-2.48zM313.1 86.70h2.48v2.30h-2.48zM319.6 86.70h2.18v2.30h-2.18zM300.1 97.10h2.48v2.90h-2.48zM313.1 97.10h2.48v2.90h-2.48zM304.4 148.30h2.48v1.70h-2.48zM308.8 148.30h2.48v1.70h-2.48zM317.4 148.30h2.48v1.70h-2.48zM319.6 148.30h2.18v1.70h-2.18zM315.3 153.30h2.48v2.80h-2.48zM295.7 155.80h2.48v2.80h-2.48zM306.6 155.80h2.48v2.80h-2.48zM308.8 155.80h2.48v2.80h-2.48zM297.9 158.30h2.48v2.50h-2.48zM300.1 158.30h2.48v2.50h-2.48zM308.8 158.30h2.48v2.50h-2.48zM315.3 158.30h2.48v2.50h-2.48zM317.4 158.30h2.48v2.50h-2.48zM319.6 158.30h2.18v2.50h-2.18z"/><path fill="#999999" d="M295.7 89.00h2.48v1.80h-2.48zM308.8 89.00h2.48v1.80h-2.48zM295.7 92.50h2.48v2.30h-2.48zM297.9 92.50h2.48v2.30h-2.48zM300.1 92.50h2.48v2.30h-2.48zM317.4 92.50h2.48v2.30h-2.48zM308.8 97.10h2.48v2.90h-2.48zM310.9 97.10h2.48v2.90h-2.48zM302.2 103.00h2.48v2.00h-2.48zM315.3 103.00h2.48v2.00h-2.48zM300.1 104.70h2.48v1.70h-2.48zM313.1 104.70h2.48v1.70h-2.48zM317.4 104.70h2.48v1.70h-2.48zM295.7 153.30h2.48v2.80h-2.48zM300.1 153.30h2.48v2.80h-2.48zM302.2 153.30h2.48v2.80h-2.48zM304.4 153.30h2.48v2.80h-2.48zM306.6 153.30h2.48v2.80h-2.48zM310.9 153.30h2.48v2.80h-2.48zM302.2 155.80h2.48v2.80h-2.48zM304.4 155.80h2.48v2.80h-2.48zM310.9 155.80h2.48v2.80h-2.48zM315.3 155.80h2.48v2.80h-2.48zM306.6 158.30h2.48v2.50h-2.48zM313.1 158.30h2.48v2.50h-2.48zM302.2 166.90h2.48v2.80h-2.48zM304.4 166.90h2.48v2.80h-2.48zM317.4 166.90h2.48v2.80h-2.48zM295.7 169.40h2.48v2.50h-2.48zM300.1 169.40h2.48v2.50h-2.48z"/><path fill="#929292" d="M297.9 89.00h2.48v1.80h-2.48zM300.1 89.00h2.48v1.80h-2.48zM310.9 89.00h2.48v1.80h-2.48zM315.3 89.00h2.48v1.80h-2.48zM304.4 92.50h2.48v2.30h-2.48zM306.6 92.50h2.48v2.30h-2.48zM313.1 92.50h2.48v2.30h-2.48zM302.2 97.10h2.48v2.90h-2.48zM295.7 103.00h2.48v2.00h-2.48zM297.9 103.00h2.48v2.00h-2.48zM308.8 103.00h2.48v2.00h-2.48zM319.6 103.00h2.18v2.00h-2.18zM295.7 104.70h2.48v1.70h-2.48zM297.9 104.70h2.48v1.70h-2.48zM302.2 104.70h2.48v1.70h-2.48zM313.1 127.10h2.48v2.20h-2.48zM308.8 153.30h2.48v2.80h-2.48zM295.7 166.90h2.48v2.80h-2.48zM310.9 166.90h2.48v2.80h-2.48zM313.1 166.90h2.48v2.80h-2.48zM315.3 166.90h2.48v2.80h-2.48zM319.6 166.90h2.18v2.80h-2.18zM308.8 169.40h2.48v2.50h-2.48zM310.9 169.40h2.48v2.50h-2.48zM313.1 169.40h2.48v2.50h-2.48zM315.3 169.40h2.48v2.50h-2.48z"/><path fill="#9f9f9f" d="M304.4 89.00h2.48v1.80h-2.48zM295.7 97.10h2.48v2.90h-2.48zM297.9 97.10h2.48v2.90h-2.48zM304.4 97.10h2.48v2.90h-2.48zM306.6 97.10h2.48v2.90h-2.48zM315.3 97.10h2.48v2.90h-2.48zM317.4 97.10h2.48v2.90h-2.48zM310.9 103.00h2.48v2.00h-2.48zM310.9 104.70h2.48v1.70h-2.48zM315.3 104.70h2.48v1.70h-2.48zM302.2 148.30h2.48v1.70h-2.48zM297.9 153.30h2.48v2.80h-2.48zM313.1 153.30h2.48v2.80h-2.48zM297.9 155.80h2.48v2.80h-2.48zM313.1 155.80h2.48v2.80h-2.48zM317.4 155.80h2.48v2.80h-2.48zM319.6 155.80h2.18v2.80h-2.18zM295.7 158.30h2.48v2.50h-2.48zM302.2 158.30h2.48v2.50h-2.48zM304.4 158.30h2.48v2.50h-2.48zM308.8 166.90h2.48v2.80h-2.48zM304.4 169.40h2.48v2.50h-2.48zM317.4 169.40h2.48v2.50h-2.48z"/><path fill="#858585" d="M313.1 89.00h2.48v1.80h-2.48zM319.6 89.00h2.18v1.80h-2.18zM308.8 92.50h2.48v2.30h-2.48zM310.9 92.50h2.48v2.30h-2.48zM304.4 103.00h2.48v2.00h-2.48zM319.6 104.70h2.18v1.70h-2.18zM297.9 110.80h2.48v2.17h-2.48zM308.8 110.80h2.48v2.17h-2.48zM310.9 110.80h2.48v2.17h-2.48zM308.8 112.67h2.48v2.17h-2.48zM295.7 114.53h2.48v1.87h-2.48zM304.4 114.53h2.48v1.87h-2.48zM319.6 114.53h2.18v1.87h-2.18zM306.6 127.10h2.48v2.20h-2.48zM319.6 127.10h2.18v2.20h-2.18z"/><path fill="#797979" d="M295.7 110.80h2.48v2.17h-2.48zM302.2 110.80h2.48v2.17h-2.48zM300.1 112.67h2.48v2.17h-2.48zM302.2 112.67h2.48v2.17h-2.48zM306.6 112.67h2.48v2.17h-2.48zM315.3 112.67h2.48v2.17h-2.48zM297.9 114.53h2.48v1.87h-2.48zM302.2 114.53h2.48v1.87h-2.48zM308.8 114.53h2.48v1.87h-2.48zM313.1 114.53h2.48v1.87h-2.48zM306.6 117.00h2.48v2.70h-2.48zM313.1 117.00h2.48v2.70h-2.48zM297.9 164.10h2.48v2.80h-2.48zM315.3 164.10h2.48v2.80h-2.48zM317.4 164.10h2.48v2.80h-2.48zM319.6 164.10h2.18v2.80h-2.18z"/><path fill="#6c6c6c" d="M304.4 110.80h2.48v2.17h-2.48zM315.3 114.53h2.48v1.87h-2.48zM297.9 117.00h2.48v2.70h-2.48zM300.1 117.00h2.48v2.70h-2.48zM302.2 117.00h2.48v2.70h-2.48zM310.9 117.00h2.48v2.70h-2.48zM315.3 117.00h2.48v2.70h-2.48zM302.2 121.40h2.48v2.25h-2.48zM308.8 121.40h2.48v2.25h-2.48zM310.9 121.40h2.48v2.25h-2.48zM319.6 123.35h2.18v1.95h-2.18zM306.6 142.70h2.48v2.80h-2.48zM313.1 150.00h2.48v1.95h-2.48zM319.6 150.00h2.18v1.95h-2.18zM310.9 151.65h2.48v1.65h-2.48zM319.6 151.65h2.18v1.65h-2.18zM310.9 164.10h2.48v2.80h-2.48z"/><path fill="#525252" d="M300.1 121.40h2.48v2.25h-2.48zM297.9 150.00h2.48v1.95h-2.48zM317.4 150.00h2.48v1.95h-2.48zM306.6 151.65h2.48v1.65h-2.48z"/><path fill="#5f5f5f" d="M308.8 123.35h2.48v1.95h-2.48zM313.1 123.35h2.48v1.95h-2.48zM315.3 123.35h2.48v1.95h-2.48zM295.7 142.70h2.48v2.80h-2.48zM317.4 142.70h2.48v2.80h-2.48zM302.2 150.00h2.48v1.95h-2.48zM297.9 151.65h2.48v1.65h-2.48zM300.1 151.65h2.48v1.65h-2.48zM304.4 151.65h2.48v1.65h-2.48zM315.3 151.65h2.48v1.65h-2.48zM302.2 164.10h2.48v2.80h-2.48z"/><path fill="#909090" d="M295.7 185.90h2.48v1.95h-2.48zM297.9 185.90h2.48v1.95h-2.48zM313.1 185.90h2.48v1.95h-2.48zM295.7 187.55h2.48v1.65h-2.48zM304.4 187.55h2.48v1.65h-2.48zM310.9 187.55h2.48v1.65h-2.48z"/><path fill="#c9a9b0" d="M300.1 185.90h2.48v1.95h-2.48zM308.8 185.90h2.48v1.95h-2.48zM319.6 185.90h2.18v1.95h-2.18zM302.2 187.55h2.48v1.65h-2.48zM308.8 187.55h2.48v1.65h-2.48z"/><path fill="#a0a0a0" d="M302.2 185.90h2.48v1.95h-2.48zM306.6 185.90h2.48v1.95h-2.48z"/><path fill="#d8d0d2" d="M304.4 185.90h2.48v1.95h-2.48zM317.4 185.90h2.48v1.95h-2.48zM319.6 187.55h2.18v1.65h-2.18z"/><path fill="#b89098" d="M310.9 185.90h2.48v1.95h-2.48zM315.3 185.90h2.48v1.95h-2.48zM297.9 187.55h2.48v1.65h-2.48zM300.1 187.55h2.48v1.65h-2.48zM306.6 187.55h2.48v1.65h-2.48zM313.1 187.55h2.48v1.65h-2.48zM315.3 187.55h2.48v1.65h-2.48zM317.4 187.55h2.48v1.65h-2.48z"/><path fill="#6a1228" d="M295.7 189.20h2.48v2.80h-2.48zM308.8 189.20h2.48v2.80h-2.48zM317.4 189.20h2.48v2.80h-2.48z"/><path fill="#8a2038" d="M297.9 189.20h2.48v2.80h-2.48zM300.1 189.20h2.48v2.80h-2.48z"/><path fill="#2a0a12" d="M302.2 189.20h2.48v2.80h-2.48z"/><path fill="#111111" d="M304.4 189.20h2.48v2.80h-2.48zM306.6 189.20h2.48v2.80h-2.48zM313.1 189.20h2.48v2.80h-2.48zM315.3 189.20h2.48v2.80h-2.48zM319.6 189.20h2.18v2.80h-2.18z"/><path fill="#3a3a3a" d="M310.9 189.20h2.48v2.80h-2.48z"/><path fill="#fff" fill-opacity="0.5" d="M295.7 73.55h26.10v0.4h-26.10zM295.7 75.70h26.10v0.4h-26.10zM295.7 77.84h26.10v0.4h-26.10zM295.7 79.99h26.10v0.4h-26.10zM295.7 82.14h26.10v0.4h-26.10zM295.7 84.29h26.10v0.4h-26.10zM295.7 86.44h26.10v0.4h-26.10zM295.7 88.59h26.10v0.4h-26.10zM295.7 90.73h26.10v0.4h-26.10zM295.7 92.88h26.10v0.4h-26.10zM295.7 95.03h26.10v0.4h-26.10zM295.7 97.18h26.10v0.4h-26.10zM295.7 99.33h26.10v0.4h-26.10zM295.7 101.47h26.10v0.4h-26.10zM295.7 103.62h26.10v0.4h-26.10zM295.7 105.77h26.10v0.4h-26.10zM295.7 107.92h26.10v0.4h-26.10zM295.7 110.07h26.10v0.4h-26.10zM295.7 112.22h26.10v0.4h-26.10zM295.7 114.36h26.10v0.4h-26.10zM295.7 116.51h26.10v0.4h-26.10zM295.7 118.66h26.10v0.4h-26.10zM295.7 120.81h26.10v0.4h-26.10zM295.7 122.96h26.10v0.4h-26.10zM295.7 125.11h26.10v0.4h-26.10zM295.7 127.25h26.10v0.4h-26.10zM295.7 129.40h26.10v0.4h-26.10zM295.7 131.55h26.10v0.4h-26.10zM295.7 133.70h26.10v0.4h-26.10zM295.7 135.85h26.10v0.4h-26.10zM295.7 137.99h26.10v0.4h-26.10zM295.7 140.14h26.10v0.4h-26.10zM295.7 142.29h26.10v0.4h-26.10zM295.7 144.44h26.10v0.4h-26.10zM295.7 146.59h26.10v0.4h-26.10zM295.7 148.74h26.10v0.4h-26.10zM295.7 150.88h26.10v0.4h-26.10zM295.7 153.03h26.10v0.4h-26.10zM295.7 155.18h26.10v0.4h-26.10zM295.7 157.33h26.10v0.4h-26.10zM295.7 159.48h26.10v0.4h-26.10zM295.7 161.62h26.10v0.4h-26.10zM295.7 163.77h26.10v0.4h-26.10zM295.7 165.92h26.10v0.4h-26.10zM295.7 168.07h26.10v0.4h-26.10zM295.7 170.22h26.10v0.4h-26.10zM295.7 172.37h26.10v0.4h-26.10zM295.7 174.51h26.10v0.4h-26.10zM295.7 176.66h26.10v0.4h-26.10zM295.7 178.81h26.10v0.4h-26.10zM295.7 180.96h26.10v0.4h-26.10zM295.7 183.11h26.10v0.4h-26.10zM295.7 185.26h26.10v0.4h-26.10zM295.7 187.40h26.10v0.4h-26.10zM295.7 189.55h26.10v0.4h-26.10z"/><path fill="#fff" fill-opacity="0.3" d="M295.7 72.00h26.10v0.4h-26.10zM295.7 73.30h26.10v0.4h-26.10zM295.7 73.70h26.10v0.4h-26.10zM295.7 76.10h26.10v0.4h-26.10zM295.7 76.50h26.10v0.4h-26.10zM295.7 79.00h26.10v0.4h-26.10zM295.7 81.97h26.10v0.4h-26.10zM295.7 83.93h26.10v0.4h-26.10zM295.7 80.00h26.10v0.4h-26.10zM295.7 85.90h26.10v0.4h-26.10zM295.7 86.50h26.10v0.4h-26.10zM295.7 88.80h26.10v0.4h-26.10zM295.7 88.80h26.10v0.4h-26.10zM295.7 90.60h26.10v0.4h-26.10zM295.7 91.10h26.10v0.4h-26.10zM295.7 92.30h26.10v0.4h-26.10zM295.7 92.30h26.10v0.4h-26.10zM295.7 94.60h26.10v0.4h-26.10zM295.7 94.80h26.10v0.4h-26.10zM295.7 96.80h26.10v0.4h-26.10zM295.7 96.90h26.10v0.4h-26.10zM295.7 99.80h26.10v0.4h-26.10zM295.7 100.00h26.10v0.4h-26.10zM295.7 102.30h26.10v0.4h-26.10zM295.7 104.50h26.10v0.4h-26.10zM295.7 102.80h26.10v0.4h-26.10zM295.7 106.20h26.10v0.4h-26.10zM295.7 108.40h26.10v0.4h-26.10zM295.7 106.70h26.10v0.4h-26.10zM295.7 110.10h26.10v0.4h-26.10zM295.7 112.47h26.10v0.4h-26.10zM295.7 114.33h26.10v0.4h-26.10zM295.7 110.60h26.10v0.4h-26.10zM295.7 116.20h26.10v0.4h-26.10zM295.7 116.80h26.10v0.4h-26.10zM295.7 119.50h26.10v0.4h-26.10zM295.7 120.10h26.10v0.4h-26.10zM295.7 121.20h26.10v0.4h-26.10zM295.7 123.15h26.10v0.4h-26.10zM295.7 121.20h26.10v0.4h-26.10zM295.7 125.10h26.10v0.4h-26.10zM295.7 125.70h26.10v0.4h-26.10zM295.7 126.90h26.10v0.4h-26.10zM295.7 126.90h26.10v0.4h-26.10zM295.7 129.10h26.10v0.4h-26.10zM295.7 129.70h26.10v0.4h-26.10zM295.7 131.40h26.10v0.4h-26.10zM295.7 133.05h26.10v0.4h-26.10zM295.7 131.40h26.10v0.4h-26.10zM295.7 134.70h26.10v0.4h-26.10zM295.7 135.30h26.10v0.4h-26.10zM295.7 136.40h26.10v0.4h-26.10zM295.7 136.40h26.10v0.4h-26.10zM295.7 139.20h26.10v0.4h-26.10zM295.7 139.80h26.10v0.4h-26.10zM295.7 142.00h26.10v0.4h-26.10zM295.7 142.50h26.10v0.4h-26.10zM295.7 145.30h26.10v0.4h-26.10zM295.7 145.80h26.10v0.4h-26.10zM295.7 148.10h26.10v0.4h-26.10zM295.7 148.10h26.10v0.4h-26.10zM295.7 149.80h26.10v0.4h-26.10zM295.7 151.45h26.10v0.4h-26.10zM295.7 149.80h26.10v0.4h-26.10zM295.7 153.10h26.10v0.4h-26.10zM295.7 155.60h26.10v0.4h-26.10zM295.7 158.10h26.10v0.4h-26.10zM295.7 153.10h26.10v0.4h-26.10zM295.7 160.60h26.10v0.4h-26.10zM295.7 161.10h26.10v0.4h-26.10zM295.7 163.40h26.10v0.4h-26.10zM295.7 163.90h26.10v0.4h-26.10zM295.7 166.70h26.10v0.4h-26.10zM295.7 169.20h26.10v0.4h-26.10zM295.7 166.70h26.10v0.4h-26.10zM295.7 171.70h26.10v0.4h-26.10zM295.7 172.30h26.10v0.4h-26.10zM295.7 175.10h26.10v0.4h-26.10zM295.7 175.10h26.10v0.4h-26.10zM295.7 177.90h26.10v0.4h-26.10zM295.7 178.40h26.10v0.4h-26.10zM295.7 181.20h26.10v0.4h-26.10zM295.7 183.75h26.10v0.4h-26.10zM295.7 181.80h26.10v0.4h-26.10zM295.7 185.70h26.10v0.4h-26.10zM295.7 187.35h26.10v0.4h-26.10zM295.7 185.70h26.10v0.4h-26.10zM295.7 189.00h26.10v0.4h-26.10zM295.7 189.00h26.10v0.4h-26.10zM295.7 191.80h26.10v0.4h-26.10z"/><path fill="#fff" fill-opacity="0.2" d="M297.68 71.6h0.4v120.30h-0.4zM299.85 71.6h0.4v120.30h-0.4zM302.03 71.6h0.4v120.30h-0.4zM304.20 71.6h0.4v120.30h-0.4zM306.38 71.6h0.4v120.30h-0.4zM308.55 71.6h0.4v120.30h-0.4zM310.73 71.6h0.4v120.30h-0.4zM312.90 71.6h0.4v120.30h-0.4zM315.07 71.6h0.4v120.30h-0.4zM317.25 71.6h0.4v120.30h-0.4zM319.43 71.6h0.4v120.30h-0.4z"/><rect x="312.75" y="71.6" width="0.7" height="120.30" fill="#fff" fill-opacity="0.5"/><rect x="317.10" y="71.6" width="0.7" height="120.30" fill="#fff" fill-opacity="0.5"/><rect x="319.27" y="71.6" width="0.7" height="120.30" fill="#fff" fill-opacity="0.5"/></g>
<rect x="326.7" y="70.6" width="11.30" height="1.2" fill="#5a5a5a"/><rect x="326.4" y="72.6" width="12.50" height="118.5" fill="#b4b4b4"/><rect x="326.4" y="72.6" width="1.5" height="118.5" fill="#767676"/><rect x="328.2" y="72.6" width="3.4" height="118.5" fill="#9a9a9a"/><rect x="337.29999999999995" y="72.6" width="0.9" height="118.5" fill="#c8c8c8"/><rect x="332.2" y="72.6" width="3.2" height="118.5" fill="#b4b4b4"/><path fill="#fff" fill-opacity="0.4" d="M326.4 73.60h12.50v0.6h-12.50zM326.4 75.72h12.50v0.6h-12.50zM326.4 77.84h12.50v0.6h-12.50zM326.4 79.96h12.50v0.6h-12.50zM326.4 82.08h12.50v0.6h-12.50zM326.4 84.20h12.50v0.6h-12.50zM326.4 86.32h12.50v0.6h-12.50zM326.4 88.44h12.50v0.6h-12.50zM326.4 90.56h12.50v0.6h-12.50zM326.4 92.68h12.50v0.6h-12.50zM326.4 94.80h12.50v0.6h-12.50zM326.4 96.92h12.50v0.6h-12.50zM326.4 99.04h12.50v0.6h-12.50zM326.4 101.16h12.50v0.6h-12.50zM326.4 103.28h12.50v0.6h-12.50zM326.4 105.40h12.50v0.6h-12.50zM326.4 107.52h12.50v0.6h-12.50zM326.4 109.64h12.50v0.6h-12.50zM326.4 111.76h12.50v0.6h-12.50zM326.4 113.88h12.50v0.6h-12.50zM326.4 116.00h12.50v0.6h-12.50zM326.4 118.12h12.50v0.6h-12.50zM326.4 120.24h12.50v0.6h-12.50zM326.4 122.36h12.50v0.6h-12.50zM326.4 124.48h12.50v0.6h-12.50zM326.4 126.60h12.50v0.6h-12.50zM326.4 128.72h12.50v0.6h-12.50zM326.4 130.84h12.50v0.6h-12.50zM326.4 132.96h12.50v0.6h-12.50zM326.4 135.08h12.50v0.6h-12.50zM326.4 137.20h12.50v0.6h-12.50zM326.4 139.32h12.50v0.6h-12.50zM326.4 141.44h12.50v0.6h-12.50zM326.4 143.56h12.50v0.6h-12.50zM326.4 145.68h12.50v0.6h-12.50zM326.4 147.80h12.50v0.6h-12.50zM326.4 149.92h12.50v0.6h-12.50zM326.4 152.04h12.50v0.6h-12.50zM326.4 154.16h12.50v0.6h-12.50zM326.4 156.28h12.50v0.6h-12.50zM326.4 158.40h12.50v0.6h-12.50zM326.4 160.52h12.50v0.6h-12.50zM326.4 162.64h12.50v0.6h-12.50zM326.4 164.76h12.50v0.6h-12.50zM326.4 166.88h12.50v0.6h-12.50zM326.4 169.00h12.50v0.6h-12.50zM326.4 171.12h12.50v0.6h-12.50zM326.4 173.24h12.50v0.6h-12.50zM326.4 175.36h12.50v0.6h-12.50zM326.4 177.48h12.50v0.6h-12.50zM326.4 179.60h12.50v0.6h-12.50zM326.4 181.72h12.50v0.6h-12.50zM326.4 183.84h12.50v0.6h-12.50zM326.4 185.96h12.50v0.6h-12.50zM326.4 188.08h12.50v0.6h-12.50zM326.4 190.20h12.50v0.6h-12.50z"/><rect x="326.79999999999995" y="190.0" width="11.00" height="1.1" fill="#666"/>
<text x="366.60" y="42.90" font-size="6.4" fill="#000" textLength="25.40" lengthAdjust="spacingAndGlyphs">CD4<tspan font-size="3.9" dy="-2.5">+</tspan><tspan dy="2.5"> T</tspan><tspan font-size="3.7" dy="1.7">reg</tspan></text>
<line x1="349.70000000000005" y1="45.9" x2="406.29999999999995" y2="45.9" stroke="#111" stroke-width="1.3"/>
<text x="353.70" y="53.30" font-size="6.0" fill="#000" textLength="18.80" lengthAdjust="spacingAndGlyphs">Control</text>
<text x="382.30" y="53.30" font-size="6.0" fill="#000" textLength="22.60" lengthAdjust="spacingAndGlyphs">Patient 1</text>
<rect x="350.9" y="56.9" width="25.60" height="12.5" fill="#b0b0b0"/><rect x="350.9" y="61.3" width="25.60" height="2.4" fill="#c2c2c2"/><rect x="350.9" y="63.8" width="25.60" height="1.7" fill="#888888"/><rect x="350.9" y="65.5" width="25.60" height="1.2" fill="#dadada"/><rect x="350.9" y="66.7" width="25.60" height="2.0" fill="#8a8a8a"/><rect x="350.9" y="68.7" width="25.60" height="0.7" fill="#bcbcbc"/><rect x="352.78" y="56.9" width="0.5" height="12.5" fill="#fff" fill-opacity="0.55"/><rect x="354.92" y="56.9" width="0.5" height="12.5" fill="#fff" fill-opacity="0.55"/><rect x="357.05" y="56.9" width="0.5" height="12.5" fill="#fff" fill-opacity="0.55"/><rect x="359.18" y="56.9" width="0.5" height="12.5" fill="#fff" fill-opacity="0.55"/><rect x="361.32" y="56.9" width="0.5" height="12.5" fill="#fff" fill-opacity="0.55"/><rect x="363.45" y="56.9" width="0.5" height="12.5" fill="#fff" fill-opacity="0.55"/><rect x="365.58" y="56.9" width="0.5" height="12.5" fill="#fff" fill-opacity="0.55"/><rect x="367.72" y="56.9" width="0.5" height="12.5" fill="#fff" fill-opacity="0.55"/><rect x="369.85" y="56.9" width="0.5" height="12.5" fill="#fff" fill-opacity="0.55"/><rect x="371.98" y="56.9" width="0.5" height="12.5" fill="#fff" fill-opacity="0.55"/><rect x="374.12" y="56.9" width="0.5" height="12.5" fill="#fff" fill-opacity="0.55"/><rect x="351.77" y="56.9" width="0.4" height="4.4" fill="#fff" fill-opacity="0.35"/><rect x="353.90" y="56.9" width="0.4" height="4.4" fill="#fff" fill-opacity="0.35"/><rect x="356.03" y="56.9" width="0.4" height="4.4" fill="#fff" fill-opacity="0.35"/><rect x="358.17" y="56.9" width="0.4" height="4.4" fill="#fff" fill-opacity="0.35"/><rect x="360.30" y="56.9" width="0.4" height="4.4" fill="#fff" fill-opacity="0.35"/><rect x="362.43" y="56.9" width="0.4" height="4.4" fill="#fff" fill-opacity="0.35"/><rect x="364.57" y="56.9" width="0.4" height="4.4" fill="#fff" fill-opacity="0.35"/><rect x="366.70" y="56.9" width="0.4" height="4.4" fill="#fff" fill-opacity="0.35"/><rect x="368.83" y="56.9" width="0.4" height="4.4" fill="#fff" fill-opacity="0.35"/><rect x="370.97" y="56.9" width="0.4" height="4.4" fill="#fff" fill-opacity="0.35"/><rect x="373.10" y="56.9" width="0.4" height="4.4" fill="#fff" fill-opacity="0.35"/><rect x="375.23" y="56.9" width="0.4" height="4.4" fill="#fff" fill-opacity="0.35"/>
<rect x="379.5" y="56.9" width="25.00" height="12.5" fill="#b0b0b0"/><rect x="379.5" y="61.3" width="25.00" height="2.4" fill="#c2c2c2"/><rect x="379.5" y="63.8" width="25.00" height="1.7" fill="#888888"/><rect x="379.5" y="65.5" width="25.00" height="1.2" fill="#dadada"/><rect x="379.5" y="66.7" width="25.00" height="2.0" fill="#8a8a8a"/><rect x="379.5" y="68.7" width="25.00" height="0.7" fill="#bcbcbc"/><rect x="381.33" y="56.9" width="0.5" height="12.5" fill="#fff" fill-opacity="0.55"/><rect x="383.42" y="56.9" width="0.5" height="12.5" fill="#fff" fill-opacity="0.55"/><rect x="385.50" y="56.9" width="0.5" height="12.5" fill="#fff" fill-opacity="0.55"/><rect x="387.58" y="56.9" width="0.5" height="12.5" fill="#fff" fill-opacity="0.55"/><rect x="389.67" y="56.9" width="0.5" height="12.5" fill="#fff" fill-opacity="0.55"/><rect x="391.75" y="56.9" width="0.5" height="12.5" fill="#fff" fill-opacity="0.55"/><rect x="393.83" y="56.9" width="0.5" height="12.5" fill="#fff" fill-opacity="0.55"/><rect x="395.92" y="56.9" width="0.5" height="12.5" fill="#fff" fill-opacity="0.55"/><rect x="398.00" y="56.9" width="0.5" height="12.5" fill="#fff" fill-opacity="0.55"/><rect x="400.08" y="56.9" width="0.5" height="12.5" fill="#fff" fill-opacity="0.55"/><rect x="402.17" y="56.9" width="0.5" height="12.5" fill="#fff" fill-opacity="0.55"/><rect x="380.34" y="56.9" width="0.4" height="4.4" fill="#fff" fill-opacity="0.35"/><rect x="382.43" y="56.9" width="0.4" height="4.4" fill="#fff" fill-opacity="0.35"/><rect x="384.51" y="56.9" width="0.4" height="4.4" fill="#fff" fill-opacity="0.35"/><rect x="386.59" y="56.9" width="0.4" height="4.4" fill="#fff" fill-opacity="0.35"/><rect x="388.68" y="56.9" width="0.4" height="4.4" fill="#fff" fill-opacity="0.35"/><rect x="390.76" y="56.9" width="0.4" height="4.4" fill="#fff" fill-opacity="0.35"/><rect x="392.84" y="56.9" width="0.4" height="4.4" fill="#fff" fill-opacity="0.35"/><rect x="394.93" y="56.9" width="0.4" height="4.4" fill="#fff" fill-opacity="0.35"/><rect x="397.01" y="56.9" width="0.4" height="4.4" fill="#fff" fill-opacity="0.35"/><rect x="399.09" y="56.9" width="0.4" height="4.4" fill="#fff" fill-opacity="0.35"/><rect x="401.18" y="56.9" width="0.4" height="4.4" fill="#fff" fill-opacity="0.35"/><rect x="403.26" y="56.9" width="0.4" height="4.4" fill="#fff" fill-opacity="0.35"/>
<rect x="376.79999999999995" y="57.8" width="0.7" height="11.9" fill="#666"/>
<rect x="406.0" y="57.8" width="0.7" height="11.9" fill="#666"/>
<g><path fill="#d8d8d8" d="M350.9 71.60h25.60v120.30h-25.60zM361.6 72.20h2.43v1.10h-2.43zM368.0 72.20h2.43v1.10h-2.43zM370.1 72.20h2.43v1.10h-2.43zM357.3 76.70h2.43v2.20h-2.43zM359.4 76.70h2.43v2.20h-2.43zM363.7 76.70h2.43v2.20h-2.43zM368.0 76.70h2.43v2.20h-2.43zM372.2 76.70h2.43v2.20h-2.43zM374.4 76.70h2.13v2.20h-2.13zM353.0 85.60h2.43v1.10h-2.43zM357.3 85.60h2.43v1.10h-2.43zM370.1 85.60h2.43v1.10h-2.43zM353.0 88.40h2.43v1.60h-2.43zM357.3 88.40h2.43v1.60h-2.43zM357.3 92.50h2.43v1.30h-2.43zM361.6 92.50h2.43v1.30h-2.43zM363.7 92.50h2.43v1.30h-2.43zM370.1 92.50h2.43v1.30h-2.43zM357.3 107.50h2.43v2.30h-2.43zM365.8 107.50h2.43v2.30h-2.43zM374.4 107.50h2.13v2.30h-2.13zM363.7 117.80h2.43v1.40h-2.43zM368.0 117.80h2.43v1.40h-2.43zM370.1 117.80h2.43v1.40h-2.43zM372.2 117.80h2.43v1.40h-2.43zM357.3 124.80h2.43v3.20h-2.43zM363.7 124.80h2.43v3.20h-2.43zM368.0 124.80h2.43v3.20h-2.43zM370.1 124.80h2.43v3.20h-2.43zM372.2 124.80h2.43v3.20h-2.43zM374.4 124.80h2.13v3.20h-2.13zM357.3 160.50h2.43v1.50h-2.43zM359.4 160.50h2.43v1.50h-2.43zM363.7 160.50h2.43v1.50h-2.43zM368.0 160.50h2.43v1.50h-2.43zM374.4 160.50h2.13v1.50h-2.13zM353.0 170.50h2.43v1.80h-2.43zM355.2 170.50h2.43v1.80h-2.43zM359.4 170.50h2.43v1.80h-2.43zM361.6 170.50h2.43v1.80h-2.43zM368.0 176.30h2.43v3.00h-2.43zM374.4 176.30h2.13v3.00h-2.13z"/><path fill="#d2d2d2" d="M350.9 72.20h2.43v1.10h-2.43zM353.0 72.20h2.43v1.10h-2.43zM357.3 72.20h2.43v1.10h-2.43zM359.4 72.20h2.43v1.10h-2.43zM365.8 72.20h2.43v1.10h-2.43zM350.9 76.70h2.43v2.20h-2.43zM353.0 76.70h2.43v2.20h-2.43zM355.2 76.70h2.43v2.20h-2.43zM361.6 85.60h2.43v1.10h-2.43zM359.4 88.40h2.43v1.60h-2.43zM361.6 88.40h2.43v1.60h-2.43zM365.8 88.40h2.43v1.60h-2.43zM368.0 88.40h2.43v1.60h-2.43zM368.0 107.50h2.43v2.30h-2.43zM372.2 107.50h2.43v2.30h-2.43zM350.9 117.80h2.43v1.40h-2.43zM365.8 117.80h2.43v1.40h-2.43zM350.9 124.80h2.43v3.20h-2.43zM353.0 124.80h2.43v3.20h-2.43zM361.6 124.80h2.43v3.20h-2.43zM355.2 133.80h2.43v2.55h-2.43zM359.4 133.80h2.43v2.55h-2.43zM363.7 133.80h2.43v2.55h-2.43zM355.2 136.05h2.43v2.25h-2.43zM363.7 136.05h2.43v2.25h-2.43zM365.8 136.05h2.43v2.25h-2.43zM370.1 136.05h2.43v2.25h-2.43zM372.2 136.05h2.43v2.25h-2.43zM350.9 160.50h2.43v1.50h-2.43zM365.8 160.50h2.43v1.50h-2.43zM370.1 160.50h2.43v1.50h-2.43zM370.1 170.50h2.43v1.80h-2.43zM374.4 170.50h2.13v1.80h-2.13zM355.2 176.30h2.43v3.00h-2.43zM357.3 176.30h2.43v3.00h-2.43zM363.7 176.30h2.43v3.00h-2.43zM370.1 176.30h2.43v3.00h-2.43z"/><path fill="#dfdfdf" d="M355.2 72.20h2.43v1.10h-2.43zM365.8 76.70h2.43v2.20h-2.43zM370.1 76.70h2.43v2.20h-2.43zM368.0 85.60h2.43v1.10h-2.43zM374.4 85.60h2.13v1.10h-2.13zM363.7 88.40h2.43v1.60h-2.43zM370.1 88.40h2.43v1.60h-2.43zM353.0 92.50h2.43v1.30h-2.43zM363.7 107.50h2.43v2.30h-2.43zM370.1 107.50h2.43v2.30h-2.43zM355.2 117.80h2.43v1.40h-2.43zM374.4 117.80h2.13v1.40h-2.13zM355.2 124.80h2.43v3.20h-2.43zM359.4 124.80h2.43v3.20h-2.43zM355.2 160.50h2.43v1.50h-2.43zM361.6 160.50h2.43v1.50h-2.43zM372.2 160.50h2.43v1.50h-2.43zM350.9 170.50h2.43v1.80h-2.43zM365.8 170.50h2.43v1.80h-2.43zM353.0 176.30h2.43v3.00h-2.43zM359.4 176.30h2.43v3.00h-2.43zM365.8 176.30h2.43v3.00h-2.43zM372.2 176.30h2.43v3.00h-2.43z"/><path fill="#cccccc" d="M363.7 72.20h2.43v1.10h-2.43zM372.2 72.20h2.43v1.10h-2.43zM374.4 72.20h2.13v1.10h-2.13zM350.9 85.60h2.43v1.10h-2.43zM355.2 85.60h2.43v1.10h-2.43zM359.4 85.60h2.43v1.10h-2.43zM363.7 85.60h2.43v1.10h-2.43zM365.8 85.60h2.43v1.10h-2.43zM372.2 85.60h2.43v1.10h-2.43zM350.9 88.40h2.43v1.60h-2.43zM355.2 88.40h2.43v1.60h-2.43zM372.2 88.40h2.43v1.60h-2.43zM374.4 88.40h2.13v1.60h-2.13zM355.2 92.50h2.43v1.30h-2.43zM359.4 92.50h2.43v1.30h-2.43zM365.8 92.50h2.43v1.30h-2.43zM368.0 92.50h2.43v1.30h-2.43zM374.4 92.50h2.13v1.30h-2.13zM350.9 107.50h2.43v2.30h-2.43zM355.2 107.50h2.43v2.30h-2.43zM359.4 107.50h2.43v2.30h-2.43zM361.6 107.50h2.43v2.30h-2.43zM357.3 117.80h2.43v1.40h-2.43zM359.4 117.80h2.43v1.40h-2.43zM365.8 124.80h2.43v3.20h-2.43zM353.0 133.80h2.43v2.55h-2.43zM357.3 133.80h2.43v2.55h-2.43zM374.4 133.80h2.13v2.55h-2.13zM350.9 136.05h2.43v2.25h-2.43zM357.3 170.50h2.43v1.80h-2.43zM368.0 170.50h2.43v1.80h-2.43zM372.2 170.50h2.43v1.80h-2.43zM361.6 176.30h2.43v3.00h-2.43z"/><path fill="#666666" d="M350.9 73.90h2.43v2.20h-2.43zM368.0 73.90h2.43v2.20h-2.43zM357.3 79.50h2.43v2.13h-2.43zM368.0 79.50h2.43v2.13h-2.43zM370.1 81.33h2.43v2.13h-2.43zM372.2 81.33h2.43v2.13h-2.43zM357.3 83.17h2.43v1.83h-2.43zM368.0 83.17h2.43v1.83h-2.43zM368.0 114.70h2.43v2.80h-2.43zM374.4 114.70h2.13v2.80h-2.13zM353.0 143.80h2.43v2.00h-2.43zM355.2 143.80h2.43v2.00h-2.43zM361.6 143.80h2.43v2.00h-2.43zM368.0 143.80h2.43v2.00h-2.43zM370.1 143.80h2.43v2.00h-2.43zM374.4 143.80h2.13v2.00h-2.13zM355.2 145.50h2.43v1.70h-2.43zM359.4 145.50h2.43v1.70h-2.43zM363.7 145.50h2.43v1.70h-2.43zM365.8 145.50h2.43v1.70h-2.43z"/><path fill="#727272" d="M353.0 73.90h2.43v2.20h-2.43zM355.2 73.90h2.43v2.20h-2.43zM363.7 73.90h2.43v2.20h-2.43zM365.8 73.90h2.43v2.20h-2.43zM350.9 86.70h2.43v1.70h-2.43zM359.4 86.70h2.43v1.70h-2.43zM363.7 86.70h2.43v1.70h-2.43zM365.8 86.70h2.43v1.70h-2.43zM372.2 86.70h2.43v1.70h-2.43zM355.2 90.00h2.43v2.30h-2.43zM357.3 90.00h2.43v2.30h-2.43zM363.7 90.00h2.43v2.30h-2.43zM374.4 90.00h2.13v2.30h-2.13zM357.3 94.00h2.43v2.25h-2.43zM361.6 94.00h2.43v2.25h-2.43zM365.8 94.00h2.43v2.25h-2.43zM372.2 94.00h2.43v2.25h-2.43zM353.0 95.95h2.43v1.95h-2.43zM368.0 95.95h2.43v1.95h-2.43zM359.4 103.17h2.43v2.17h-2.43zM355.2 105.03h2.43v1.87h-2.43zM365.8 105.03h2.43v1.87h-2.43zM350.9 110.30h2.43v1.95h-2.43zM365.8 110.30h2.43v1.95h-2.43zM368.0 110.30h2.43v1.95h-2.43zM355.2 111.95h2.43v1.65h-2.43zM357.3 111.95h2.43v1.65h-2.43zM361.6 111.95h2.43v1.65h-2.43zM363.7 111.95h2.43v1.65h-2.43zM372.2 111.95h2.43v1.65h-2.43zM363.7 114.70h2.43v2.80h-2.43zM370.1 114.70h2.43v2.80h-2.43zM353.0 119.70h2.43v2.55h-2.43zM357.3 119.70h2.43v2.55h-2.43zM365.8 119.70h2.43v2.55h-2.43zM368.0 119.70h2.43v2.55h-2.43zM361.6 121.95h2.43v2.25h-2.43zM368.0 121.95h2.43v2.25h-2.43zM350.9 128.80h2.43v2.25h-2.43zM363.7 128.80h2.43v2.25h-2.43zM372.2 128.80h2.43v2.25h-2.43zM365.8 130.75h2.43v1.95h-2.43zM372.2 130.75h2.43v1.95h-2.43zM374.4 130.75h2.13v1.95h-2.13zM353.0 140.00h2.43v1.95h-2.43zM363.7 141.65h2.43v1.65h-2.43zM368.0 141.65h2.43v1.65h-2.43zM357.3 143.80h2.43v2.00h-2.43zM363.7 143.80h2.43v2.00h-2.43zM372.2 143.80h2.43v2.00h-2.43zM353.0 145.50h2.43v1.70h-2.43zM357.3 145.50h2.43v1.70h-2.43z"/><path fill="#5f5f5f" d="M357.3 73.90h2.43v2.20h-2.43zM370.1 73.90h2.43v2.20h-2.43zM374.4 73.90h2.13v2.20h-2.13zM370.1 79.50h2.43v2.13h-2.43zM374.4 79.50h2.13v2.13h-2.13zM361.6 81.33h2.43v2.13h-2.43zM365.8 81.33h2.43v2.13h-2.43zM353.0 83.17h2.43v1.83h-2.43zM372.2 83.17h2.43v1.83h-2.43zM374.4 83.17h2.13v1.83h-2.13zM355.2 114.70h2.43v2.80h-2.43zM357.3 114.70h2.43v2.80h-2.43zM361.6 114.70h2.43v2.80h-2.43zM372.2 114.70h2.43v2.80h-2.43zM365.8 143.80h2.43v2.00h-2.43z"/><path fill="#797979" d="M359.4 73.90h2.43v2.20h-2.43zM361.6 73.90h2.43v2.20h-2.43zM353.0 86.70h2.43v1.70h-2.43zM370.1 86.70h2.43v1.70h-2.43zM372.2 90.00h2.43v2.30h-2.43zM350.9 94.00h2.43v2.25h-2.43zM368.0 94.00h2.43v2.25h-2.43zM374.4 94.00h2.13v2.25h-2.13zM350.9 95.95h2.43v1.95h-2.43zM355.2 95.95h2.43v1.95h-2.43zM359.4 101.30h2.43v2.17h-2.43zM368.0 101.30h2.43v2.17h-2.43zM374.4 101.30h2.13v2.17h-2.13zM353.0 103.17h2.43v2.17h-2.43zM370.1 103.17h2.43v2.17h-2.43zM350.9 105.03h2.43v1.87h-2.43zM363.7 105.03h2.43v1.87h-2.43zM370.1 105.03h2.43v1.87h-2.43zM353.0 110.30h2.43v1.95h-2.43zM361.6 110.30h2.43v1.95h-2.43zM370.1 110.30h2.43v1.95h-2.43zM359.4 111.95h2.43v1.65h-2.43zM365.8 111.95h2.43v1.65h-2.43zM370.1 111.95h2.43v1.65h-2.43zM350.9 114.70h2.43v2.80h-2.43zM359.4 114.70h2.43v2.80h-2.43zM355.2 119.70h2.43v2.55h-2.43zM361.6 119.70h2.43v2.55h-2.43zM370.1 119.70h2.43v2.55h-2.43zM374.4 119.70h2.13v2.55h-2.13zM355.2 121.95h2.43v2.25h-2.43zM370.1 121.95h2.43v2.25h-2.43zM359.4 128.80h2.43v2.25h-2.43zM370.1 128.80h2.43v2.25h-2.43zM374.4 128.80h2.13v2.25h-2.13zM350.9 130.75h2.43v1.95h-2.43zM355.2 130.75h2.43v1.95h-2.43zM368.0 130.75h2.43v1.95h-2.43zM350.9 140.00h2.43v1.95h-2.43zM355.2 140.00h2.43v1.95h-2.43zM357.3 140.00h2.43v1.95h-2.43zM365.8 140.00h2.43v1.95h-2.43zM368.0 140.00h2.43v1.95h-2.43zM372.2 140.00h2.43v1.95h-2.43zM374.4 140.00h2.13v1.95h-2.13zM355.2 141.65h2.43v1.65h-2.43zM357.3 141.65h2.43v1.65h-2.43zM365.8 141.65h2.43v1.65h-2.43zM370.1 141.65h2.43v1.65h-2.43zM359.4 143.80h2.43v2.00h-2.43zM363.7 151.00h2.43v2.55h-2.43zM361.6 153.25h2.43v2.55h-2.43zM365.8 153.25h2.43v2.55h-2.43zM363.7 155.50h2.43v2.55h-2.43zM357.3 157.75h2.43v2.25h-2.43zM353.0 164.45h2.43v2.25h-2.43zM359.4 164.45h2.43v2.25h-2.43zM370.1 166.40h2.43v2.25h-2.43zM355.2 168.35h2.43v1.95h-2.43zM361.6 179.70h2.43v2.85h-2.43z"/><path fill="#6c6c6c" d="M372.2 73.90h2.43v2.20h-2.43zM350.9 79.50h2.43v2.13h-2.43zM353.0 79.50h2.43v2.13h-2.43zM355.2 79.50h2.43v2.13h-2.43zM372.2 79.50h2.43v2.13h-2.43zM350.9 81.33h2.43v2.13h-2.43zM353.0 81.33h2.43v2.13h-2.43zM359.4 81.33h2.43v2.13h-2.43zM363.7 81.33h2.43v2.13h-2.43zM355.2 83.17h2.43v1.83h-2.43zM374.4 86.70h2.13v1.70h-2.13zM363.7 94.00h2.43v2.25h-2.43zM370.1 94.00h2.43v2.25h-2.43zM370.1 95.95h2.43v1.95h-2.43zM372.2 95.95h2.43v1.95h-2.43zM359.4 105.03h2.43v1.87h-2.43zM353.0 114.70h2.43v2.80h-2.43zM365.8 114.70h2.43v2.80h-2.43zM359.4 119.70h2.43v2.55h-2.43zM357.3 130.75h2.43v1.95h-2.43zM361.6 130.75h2.43v1.95h-2.43zM361.6 140.00h2.43v1.95h-2.43zM353.0 141.65h2.43v1.65h-2.43zM350.9 143.80h2.43v2.00h-2.43zM350.9 145.50h2.43v1.70h-2.43zM361.6 145.50h2.43v1.70h-2.43zM368.0 145.50h2.43v1.70h-2.43zM370.1 145.50h2.43v1.70h-2.43zM372.2 145.50h2.43v1.70h-2.43zM374.4 145.50h2.13v1.70h-2.13z"/><path fill="#e5e5e5" d="M361.6 76.70h2.43v2.20h-2.43z"/><path fill="#595959" d="M359.4 79.50h2.43v2.13h-2.43zM361.6 79.50h2.43v2.13h-2.43zM363.7 79.50h2.43v2.13h-2.43zM357.3 81.33h2.43v2.13h-2.43zM374.4 81.33h2.13v2.13h-2.13zM350.9 83.17h2.43v1.83h-2.43zM359.4 83.17h2.43v1.83h-2.43zM361.6 83.17h2.43v1.83h-2.43zM363.7 83.17h2.43v1.83h-2.43zM370.1 83.17h2.43v1.83h-2.43z"/><path fill="#525252" d="M365.8 79.50h2.43v2.13h-2.43zM355.2 81.33h2.43v2.13h-2.43zM368.0 81.33h2.43v2.13h-2.43zM365.8 83.17h2.43v1.83h-2.43z"/><path fill="#858585" d="M355.2 86.70h2.43v1.70h-2.43zM361.6 86.70h2.43v1.70h-2.43zM350.9 90.00h2.43v2.30h-2.43zM361.6 90.00h2.43v2.30h-2.43zM365.8 90.00h2.43v2.30h-2.43zM368.0 90.00h2.43v2.30h-2.43zM353.0 94.00h2.43v2.25h-2.43zM359.4 94.00h2.43v2.25h-2.43zM357.3 95.95h2.43v1.95h-2.43zM359.4 95.95h2.43v1.95h-2.43zM374.4 95.95h2.13v1.95h-2.13zM357.3 101.30h2.43v2.17h-2.43zM363.7 101.30h2.43v2.17h-2.43zM365.8 101.30h2.43v2.17h-2.43zM372.2 101.30h2.43v2.17h-2.43zM363.7 103.17h2.43v2.17h-2.43zM365.8 103.17h2.43v2.17h-2.43zM353.0 105.03h2.43v1.87h-2.43zM374.4 105.03h2.13v1.87h-2.13zM357.3 110.30h2.43v1.95h-2.43zM359.4 110.30h2.43v1.95h-2.43zM372.2 110.30h2.43v1.95h-2.43zM374.4 110.30h2.13v1.95h-2.13zM353.0 111.95h2.43v1.65h-2.43zM374.4 111.95h2.13v1.65h-2.13zM359.4 121.95h2.43v2.25h-2.43zM363.7 121.95h2.43v2.25h-2.43zM374.4 121.95h2.13v2.25h-2.13zM353.0 128.80h2.43v2.25h-2.43zM355.2 128.80h2.43v2.25h-2.43zM357.3 128.80h2.43v2.25h-2.43zM365.8 128.80h2.43v2.25h-2.43zM368.0 128.80h2.43v2.25h-2.43zM363.7 140.00h2.43v1.95h-2.43zM359.4 141.65h2.43v1.65h-2.43zM361.6 141.65h2.43v1.65h-2.43zM374.4 141.65h2.13v1.65h-2.13zM350.9 147.70h2.43v1.95h-2.43zM361.6 147.70h2.43v1.95h-2.43zM353.0 151.00h2.43v2.55h-2.43zM359.4 151.00h2.43v2.55h-2.43zM350.9 153.25h2.43v2.55h-2.43zM355.2 153.25h2.43v2.55h-2.43zM368.0 153.25h2.43v2.55h-2.43zM370.1 153.25h2.43v2.55h-2.43zM372.2 153.25h2.43v2.55h-2.43zM368.0 155.50h2.43v2.55h-2.43zM372.2 155.50h2.43v2.55h-2.43zM374.4 155.50h2.13v2.55h-2.13zM350.9 157.75h2.43v2.25h-2.43zM353.0 157.75h2.43v2.25h-2.43zM365.8 157.75h2.43v2.25h-2.43zM370.1 157.75h2.43v2.25h-2.43zM361.6 162.50h2.43v2.25h-2.43zM374.4 162.50h2.13v2.25h-2.13zM355.2 164.45h2.43v2.25h-2.43zM357.3 164.45h2.43v2.25h-2.43zM361.6 164.45h2.43v2.25h-2.43zM374.4 164.45h2.13v2.25h-2.13zM353.0 166.40h2.43v2.25h-2.43zM355.2 166.40h2.43v2.25h-2.43zM357.3 166.40h2.43v2.25h-2.43zM353.0 168.35h2.43v1.95h-2.43zM359.4 168.35h2.43v1.95h-2.43zM368.0 168.35h2.43v1.95h-2.43zM370.1 168.35h2.43v1.95h-2.43zM374.4 168.35h2.13v1.95h-2.13zM353.0 172.50h2.43v1.95h-2.43zM353.0 174.15h2.43v1.65h-2.43zM357.3 174.15h2.43v1.65h-2.43zM370.1 174.15h2.43v1.65h-2.43zM357.3 179.70h2.43v2.85h-2.43zM363.7 179.70h2.43v2.85h-2.43zM368.0 179.70h2.43v2.85h-2.43zM372.2 179.70h2.43v2.85h-2.43zM353.0 182.25h2.43v2.55h-2.43zM357.3 182.25h2.43v2.55h-2.43z"/><path fill="#7f7f7f" d="M357.3 86.70h2.43v1.70h-2.43zM368.0 86.70h2.43v1.70h-2.43zM353.0 90.00h2.43v2.30h-2.43zM359.4 90.00h2.43v2.30h-2.43zM370.1 90.00h2.43v2.30h-2.43zM355.2 94.00h2.43v2.25h-2.43zM361.6 95.95h2.43v1.95h-2.43zM363.7 95.95h2.43v1.95h-2.43zM365.8 95.95h2.43v1.95h-2.43zM350.9 101.30h2.43v2.17h-2.43zM353.0 101.30h2.43v2.17h-2.43zM355.2 101.30h2.43v2.17h-2.43zM361.6 101.30h2.43v2.17h-2.43zM370.1 101.30h2.43v2.17h-2.43zM350.9 103.17h2.43v2.17h-2.43zM355.2 103.17h2.43v2.17h-2.43zM357.3 103.17h2.43v2.17h-2.43zM361.6 103.17h2.43v2.17h-2.43zM368.0 103.17h2.43v2.17h-2.43zM372.2 103.17h2.43v2.17h-2.43zM374.4 103.17h2.13v2.17h-2.13zM357.3 105.03h2.43v1.87h-2.43zM361.6 105.03h2.43v1.87h-2.43zM368.0 105.03h2.43v1.87h-2.43zM372.2 105.03h2.43v1.87h-2.43zM355.2 110.30h2.43v1.95h-2.43zM363.7 110.30h2.43v1.95h-2.43zM350.9 111.95h2.43v1.65h-2.43zM368.0 111.95h2.43v1.65h-2.43zM350.9 119.70h2.43v2.55h-2.43zM363.7 119.70h2.43v2.55h-2.43zM372.2 119.70h2.43v2.55h-2.43zM350.9 121.95h2.43v2.25h-2.43zM353.0 121.95h2.43v2.25h-2.43zM357.3 121.95h2.43v2.25h-2.43zM365.8 121.95h2.43v2.25h-2.43zM372.2 121.95h2.43v2.25h-2.43zM361.6 128.80h2.43v2.25h-2.43zM353.0 130.75h2.43v1.95h-2.43zM359.4 130.75h2.43v1.95h-2.43zM363.7 130.75h2.43v1.95h-2.43zM370.1 130.75h2.43v1.95h-2.43zM359.4 140.00h2.43v1.95h-2.43zM370.1 140.00h2.43v1.95h-2.43zM350.9 141.65h2.43v1.65h-2.43zM372.2 141.65h2.43v1.65h-2.43zM353.0 147.70h2.43v1.95h-2.43zM355.2 147.70h2.43v1.95h-2.43zM370.1 147.70h2.43v1.95h-2.43zM353.0 149.35h2.43v1.65h-2.43zM355.2 149.35h2.43v1.65h-2.43zM359.4 149.35h2.43v1.65h-2.43zM365.8 149.35h2.43v1.65h-2.43zM368.0 149.35h2.43v1.65h-2.43zM372.2 149.35h2.43v1.65h-2.43zM374.4 149.35h2.13v1.65h-2.13zM357.3 151.00h2.43v2.55h-2.43zM365.8 151.00h2.43v2.55h-2.43zM374.4 151.00h2.13v2.55h-2.13zM359.4 153.25h2.43v2.55h-2.43zM363.7 153.25h2.43v2.55h-2.43zM374.4 153.25h2.13v2.55h-2.13zM350.9 155.50h2.43v2.55h-2.43zM353.0 155.50h2.43v2.55h-2.43zM361.6 155.50h2.43v2.55h-2.43zM363.7 157.75h2.43v2.25h-2.43zM372.2 157.75h2.43v2.25h-2.43zM374.4 157.75h2.13v2.25h-2.13zM350.9 162.50h2.43v2.25h-2.43zM368.0 164.45h2.43v2.25h-2.43zM350.9 168.35h2.43v1.95h-2.43zM357.3 168.35h2.43v1.95h-2.43zM361.6 168.35h2.43v1.95h-2.43zM363.7 168.35h2.43v1.95h-2.43zM353.0 179.70h2.43v2.85h-2.43zM359.4 179.70h2.43v2.85h-2.43zM365.8 179.70h2.43v2.85h-2.43zM374.4 179.70h2.13v2.85h-2.13zM365.8 182.25h2.43v2.55h-2.43zM368.0 182.25h2.43v2.55h-2.43z"/><path fill="#c5c5c5" d="M350.9 92.50h2.43v1.30h-2.43zM372.2 92.50h2.43v1.30h-2.43zM353.0 98.00h2.43v2.20h-2.43zM365.8 98.00h2.43v2.20h-2.43zM374.4 98.00h2.13v2.20h-2.13zM353.0 107.50h2.43v2.30h-2.43zM353.0 117.80h2.43v1.40h-2.43zM361.6 117.80h2.43v1.40h-2.43zM350.9 133.80h2.43v2.55h-2.43zM361.6 133.80h2.43v2.55h-2.43zM370.1 133.80h2.43v2.55h-2.43zM353.0 136.05h2.43v2.25h-2.43zM357.3 136.05h2.43v2.25h-2.43zM361.6 136.05h2.43v2.25h-2.43zM374.4 136.05h2.13v2.25h-2.13zM353.0 160.50h2.43v1.50h-2.43zM363.7 170.50h2.43v1.80h-2.43zM350.9 176.30h2.43v3.00h-2.43z"/><path fill="#bfbfbf" d="M350.9 98.00h2.43v2.20h-2.43zM357.3 98.00h2.43v2.20h-2.43zM361.6 98.00h2.43v2.20h-2.43zM372.2 98.00h2.43v2.20h-2.43zM365.8 133.80h2.43v2.55h-2.43zM368.0 133.80h2.43v2.55h-2.43zM372.2 133.80h2.43v2.55h-2.43zM359.4 136.05h2.43v2.25h-2.43zM368.0 136.05h2.43v2.25h-2.43z"/><path fill="#acacac" d="M355.2 98.00h2.43v2.20h-2.43z"/><path fill="#b8b8b8" d="M359.4 98.00h2.43v2.20h-2.43zM370.1 98.00h2.43v2.20h-2.43z"/><path fill="#b2b2b2" d="M363.7 98.00h2.43v2.20h-2.43zM368.0 98.00h2.43v2.20h-2.43z"/><path fill="#8c8c8c" d="M357.3 147.70h2.43v1.95h-2.43zM359.4 147.70h2.43v1.95h-2.43zM365.8 147.70h2.43v1.95h-2.43zM372.2 147.70h2.43v1.95h-2.43zM374.4 147.70h2.13v1.95h-2.13zM370.1 149.35h2.43v1.65h-2.43zM355.2 151.00h2.43v2.55h-2.43zM361.6 151.00h2.43v2.55h-2.43zM368.0 151.00h2.43v2.55h-2.43zM353.0 153.25h2.43v2.55h-2.43zM357.3 153.25h2.43v2.55h-2.43zM370.1 155.50h2.43v2.55h-2.43zM355.2 157.75h2.43v2.25h-2.43zM359.4 157.75h2.43v2.25h-2.43zM368.0 157.75h2.43v2.25h-2.43zM355.2 162.50h2.43v2.25h-2.43zM357.3 162.50h2.43v2.25h-2.43zM359.4 162.50h2.43v2.25h-2.43zM368.0 162.50h2.43v2.25h-2.43zM370.1 162.50h2.43v2.25h-2.43zM372.2 162.50h2.43v2.25h-2.43zM350.9 164.45h2.43v2.25h-2.43zM363.7 164.45h2.43v2.25h-2.43zM365.8 164.45h2.43v2.25h-2.43zM372.2 164.45h2.43v2.25h-2.43zM350.9 166.40h2.43v2.25h-2.43zM361.6 166.40h2.43v2.25h-2.43zM363.7 166.40h2.43v2.25h-2.43zM365.8 166.40h2.43v2.25h-2.43zM372.2 166.40h2.43v2.25h-2.43zM374.4 166.40h2.13v2.25h-2.13zM365.8 172.50h2.43v1.95h-2.43zM372.2 172.50h2.43v1.95h-2.43zM350.9 174.15h2.43v1.65h-2.43zM355.2 174.15h2.43v1.65h-2.43zM359.4 174.15h2.43v1.65h-2.43zM350.9 179.70h2.43v2.85h-2.43zM355.2 179.70h2.43v2.85h-2.43zM370.1 179.70h2.43v2.85h-2.43zM350.9 182.25h2.43v2.55h-2.43zM355.2 182.25h2.43v2.55h-2.43zM363.7 182.25h2.43v2.55h-2.43zM372.2 182.25h2.43v2.55h-2.43zM374.4 182.25h2.13v2.55h-2.13z"/><path fill="#929292" d="M363.7 147.70h2.43v1.95h-2.43zM368.0 147.70h2.43v1.95h-2.43zM350.9 149.35h2.43v1.65h-2.43zM357.3 149.35h2.43v1.65h-2.43zM361.6 149.35h2.43v1.65h-2.43zM363.7 149.35h2.43v1.65h-2.43zM350.9 151.00h2.43v2.55h-2.43zM370.1 151.00h2.43v2.55h-2.43zM372.2 151.00h2.43v2.55h-2.43zM355.2 155.50h2.43v2.55h-2.43zM357.3 155.50h2.43v2.55h-2.43zM359.4 155.50h2.43v2.55h-2.43zM365.8 155.50h2.43v2.55h-2.43zM361.6 157.75h2.43v2.25h-2.43zM353.0 162.50h2.43v2.25h-2.43zM363.7 162.50h2.43v2.25h-2.43zM365.8 162.50h2.43v2.25h-2.43zM370.1 164.45h2.43v2.25h-2.43zM359.4 166.40h2.43v2.25h-2.43zM368.0 166.40h2.43v2.25h-2.43zM365.8 168.35h2.43v1.95h-2.43zM372.2 168.35h2.43v1.95h-2.43zM357.3 172.50h2.43v1.95h-2.43zM359.4 172.50h2.43v1.95h-2.43zM363.7 172.50h2.43v1.95h-2.43zM370.1 172.50h2.43v1.95h-2.43zM363.7 174.15h2.43v1.65h-2.43zM359.4 182.25h2.43v2.55h-2.43zM361.6 182.25h2.43v2.55h-2.43zM370.1 182.25h2.43v2.55h-2.43z"/><path fill="#999999" d="M350.9 172.50h2.43v1.95h-2.43zM361.6 172.50h2.43v1.95h-2.43zM368.0 172.50h2.43v1.95h-2.43zM374.4 172.50h2.13v1.95h-2.13zM361.6 174.15h2.43v1.65h-2.43zM368.0 174.15h2.43v1.65h-2.43z"/><path fill="#9f9f9f" d="M355.2 172.50h2.43v1.95h-2.43zM365.8 174.15h2.43v1.65h-2.43zM372.2 174.15h2.43v1.65h-2.43zM374.4 174.15h2.13v1.65h-2.13z"/><path fill="#b89098" d="M350.9 184.80h2.43v2.20h-2.43zM353.0 184.80h2.43v2.20h-2.43zM355.2 184.80h2.43v2.20h-2.43zM365.8 184.80h2.43v2.20h-2.43z"/><path fill="#909090" d="M357.3 184.80h2.43v2.20h-2.43zM359.4 184.80h2.43v2.20h-2.43zM361.6 184.80h2.43v2.20h-2.43zM374.4 184.80h2.13v2.20h-2.13z"/><path fill="#a0a0a0" d="M363.7 184.80h2.43v2.20h-2.43zM368.0 184.80h2.43v2.20h-2.43zM370.1 184.80h2.43v2.20h-2.43zM372.2 184.80h2.43v2.20h-2.43z"/><path fill="#111111" d="M350.9 187.00h2.43v3.00h-2.43zM355.2 187.00h2.43v3.00h-2.43zM357.3 187.00h2.43v3.00h-2.43zM359.4 187.00h2.43v3.00h-2.43zM361.6 187.00h2.43v3.00h-2.43zM363.7 187.00h2.43v3.00h-2.43zM372.2 187.00h2.43v3.00h-2.43z"/><path fill="#2a0a12" d="M353.0 187.00h2.43v3.00h-2.43z"/><path fill="#6a1228" d="M365.8 187.00h2.43v3.00h-2.43zM368.0 187.00h2.43v3.00h-2.43z"/><path fill="#3a3a3a" d="M370.1 187.00h2.43v3.00h-2.43z"/><path fill="#8a2038" d="M374.4 187.00h2.13v3.00h-2.13z"/><path fill="#fff" fill-opacity="0.5" d="M350.9 73.55h25.60v0.4h-25.60zM350.9 75.70h25.60v0.4h-25.60zM350.9 77.84h25.60v0.4h-25.60zM350.9 79.99h25.60v0.4h-25.60zM350.9 82.14h25.60v0.4h-25.60zM350.9 84.29h25.60v0.4h-25.60zM350.9 86.44h25.60v0.4h-25.60zM350.9 88.59h25.60v0.4h-25.60zM350.9 90.73h25.60v0.4h-25.60zM350.9 92.88h25.60v0.4h-25.60zM350.9 95.03h25.60v0.4h-25.60zM350.9 97.18h25.60v0.4h-25.60zM350.9 99.33h25.60v0.4h-25.60zM350.9 101.47h25.60v0.4h-25.60zM350.9 103.62h25.60v0.4h-25.60zM350.9 105.77h25.60v0.4h-25.60zM350.9 107.92h25.60v0.4h-25.60zM350.9 110.07h25.60v0.4h-25.60zM350.9 112.22h25.60v0.4h-25.60zM350.9 114.36h25.60v0.4h-25.60zM350.9 116.51h25.60v0.4h-25.60zM350.9 118.66h25.60v0.4h-25.60zM350.9 120.81h25.60v0.4h-25.60zM350.9 122.96h25.60v0.4h-25.60zM350.9 125.11h25.60v0.4h-25.60zM350.9 127.25h25.60v0.4h-25.60zM350.9 129.40h25.60v0.4h-25.60zM350.9 131.55h25.60v0.4h-25.60zM350.9 133.70h25.60v0.4h-25.60zM350.9 135.85h25.60v0.4h-25.60zM350.9 137.99h25.60v0.4h-25.60zM350.9 140.14h25.60v0.4h-25.60zM350.9 142.29h25.60v0.4h-25.60zM350.9 144.44h25.60v0.4h-25.60zM350.9 146.59h25.60v0.4h-25.60zM350.9 148.74h25.60v0.4h-25.60zM350.9 150.88h25.60v0.4h-25.60zM350.9 153.03h25.60v0.4h-25.60zM350.9 155.18h25.60v0.4h-25.60zM350.9 157.33h25.60v0.4h-25.60zM350.9 159.48h25.60v0.4h-25.60zM350.9 161.62h25.60v0.4h-25.60zM350.9 163.77h25.60v0.4h-25.60zM350.9 165.92h25.60v0.4h-25.60zM350.9 168.07h25.60v0.4h-25.60zM350.9 170.22h25.60v0.4h-25.60zM350.9 172.37h25.60v0.4h-25.60zM350.9 174.51h25.60v0.4h-25.60zM350.9 176.66h25.60v0.4h-25.60zM350.9 178.81h25.60v0.4h-25.60zM350.9 180.96h25.60v0.4h-25.60zM350.9 183.11h25.60v0.4h-25.60zM350.9 185.26h25.60v0.4h-25.60zM350.9 187.40h25.60v0.4h-25.60zM350.9 189.55h25.60v0.4h-25.60z"/><path fill="#fff" fill-opacity="0.3" d="M350.9 72.00h25.60v0.4h-25.60zM350.9 73.10h25.60v0.4h-25.60zM350.9 73.70h25.60v0.4h-25.60zM350.9 75.90h25.60v0.4h-25.60zM350.9 76.50h25.60v0.4h-25.60zM350.9 78.70h25.60v0.4h-25.60zM350.9 81.13h25.60v0.4h-25.60zM350.9 82.97h25.60v0.4h-25.60zM350.9 79.30h25.60v0.4h-25.60zM350.9 84.80h25.60v0.4h-25.60zM350.9 85.40h25.60v0.4h-25.60zM350.9 86.50h25.60v0.4h-25.60zM350.9 86.50h25.60v0.4h-25.60zM350.9 88.20h25.60v0.4h-25.60zM350.9 88.20h25.60v0.4h-25.60zM350.9 89.80h25.60v0.4h-25.60zM350.9 89.80h25.60v0.4h-25.60zM350.9 92.10h25.60v0.4h-25.60zM350.9 92.30h25.60v0.4h-25.60zM350.9 93.60h25.60v0.4h-25.60zM350.9 95.75h25.60v0.4h-25.60zM350.9 93.80h25.60v0.4h-25.60zM350.9 97.70h25.60v0.4h-25.60zM350.9 97.80h25.60v0.4h-25.60zM350.9 100.00h25.60v0.4h-25.60zM350.9 102.97h25.60v0.4h-25.60zM350.9 104.83h25.60v0.4h-25.60zM350.9 101.10h25.60v0.4h-25.60zM350.9 106.70h25.60v0.4h-25.60zM350.9 107.30h25.60v0.4h-25.60zM350.9 109.60h25.60v0.4h-25.60zM350.9 111.75h25.60v0.4h-25.60zM350.9 110.10h25.60v0.4h-25.60zM350.9 113.40h25.60v0.4h-25.60zM350.9 114.50h25.60v0.4h-25.60zM350.9 117.30h25.60v0.4h-25.60zM350.9 117.60h25.60v0.4h-25.60zM350.9 119.00h25.60v0.4h-25.60zM350.9 121.75h25.60v0.4h-25.60zM350.9 119.50h25.60v0.4h-25.60zM350.9 124.00h25.60v0.4h-25.60zM350.9 124.60h25.60v0.4h-25.60zM350.9 127.80h25.60v0.4h-25.60zM350.9 130.55h25.60v0.4h-25.60zM350.9 128.60h25.60v0.4h-25.60zM350.9 132.50h25.60v0.4h-25.60zM350.9 135.85h25.60v0.4h-25.60zM350.9 133.60h25.60v0.4h-25.60zM350.9 138.10h25.60v0.4h-25.60zM350.9 141.45h25.60v0.4h-25.60zM350.9 139.80h25.60v0.4h-25.60zM350.9 143.10h25.60v0.4h-25.60zM350.9 145.30h25.60v0.4h-25.60zM350.9 143.60h25.60v0.4h-25.60zM350.9 147.00h25.60v0.4h-25.60zM350.9 149.15h25.60v0.4h-25.60zM350.9 147.50h25.60v0.4h-25.60zM350.9 150.80h25.60v0.4h-25.60zM350.9 153.05h25.60v0.4h-25.60zM350.9 155.30h25.60v0.4h-25.60zM350.9 157.55h25.60v0.4h-25.60zM350.9 150.80h25.60v0.4h-25.60zM350.9 159.80h25.60v0.4h-25.60zM350.9 160.30h25.60v0.4h-25.60zM350.9 161.80h25.60v0.4h-25.60zM350.9 164.25h25.60v0.4h-25.60zM350.9 166.20h25.60v0.4h-25.60zM350.9 168.15h25.60v0.4h-25.60zM350.9 162.30h25.60v0.4h-25.60zM350.9 170.10h25.60v0.4h-25.60zM350.9 170.30h25.60v0.4h-25.60zM350.9 172.10h25.60v0.4h-25.60zM350.9 173.95h25.60v0.4h-25.60zM350.9 172.30h25.60v0.4h-25.60zM350.9 175.60h25.60v0.4h-25.60zM350.9 176.10h25.60v0.4h-25.60zM350.9 179.10h25.60v0.4h-25.60zM350.9 182.05h25.60v0.4h-25.60zM350.9 179.50h25.60v0.4h-25.60zM350.9 184.60h25.60v0.4h-25.60zM350.9 184.60h25.60v0.4h-25.60zM350.9 186.80h25.60v0.4h-25.60zM350.9 186.80h25.60v0.4h-25.60zM350.9 189.80h25.60v0.4h-25.60z"/><path fill="#fff" fill-opacity="0.2" d="M352.83 71.6h0.4v120.30h-0.4zM354.97 71.6h0.4v120.30h-0.4zM357.10 71.6h0.4v120.30h-0.4zM359.23 71.6h0.4v120.30h-0.4zM361.37 71.6h0.4v120.30h-0.4zM363.50 71.6h0.4v120.30h-0.4zM365.63 71.6h0.4v120.30h-0.4zM367.77 71.6h0.4v120.30h-0.4zM369.90 71.6h0.4v120.30h-0.4zM372.03 71.6h0.4v120.30h-0.4zM374.17 71.6h0.4v120.30h-0.4z"/><rect x="367.62" y="71.6" width="0.7" height="120.30" fill="#fff" fill-opacity="0.5"/><rect x="371.88" y="71.6" width="0.7" height="120.30" fill="#fff" fill-opacity="0.5"/><rect x="374.02" y="71.6" width="0.7" height="120.30" fill="#fff" fill-opacity="0.5"/></g>
<g><path fill="#d8d8d8" d="M379.6 71.60h26.10v120.30h-26.10zM379.6 73.90h2.48v2.20h-2.48zM386.1 73.90h2.48v2.20h-2.48zM401.4 73.90h2.48v2.20h-2.48zM379.6 81.33h2.48v2.13h-2.48zM392.7 83.17h2.48v1.83h-2.48zM399.2 83.17h2.48v1.83h-2.48zM379.6 90.00h2.48v2.30h-2.48zM384.0 90.00h2.48v2.30h-2.48zM397.0 90.00h2.48v2.30h-2.48zM401.4 90.00h2.48v2.30h-2.48zM379.6 101.30h2.48v2.17h-2.48zM384.0 101.30h2.48v2.17h-2.48zM386.1 101.30h2.48v2.17h-2.48zM401.4 101.30h2.48v2.17h-2.48zM386.1 103.17h2.48v2.17h-2.48zM394.8 103.17h2.48v2.17h-2.48zM381.8 105.03h2.48v1.87h-2.48zM386.1 105.03h2.48v1.87h-2.48zM390.5 105.03h2.48v1.87h-2.48zM397.0 105.03h2.48v1.87h-2.48zM390.5 110.30h2.48v1.95h-2.48zM392.7 110.30h2.48v1.95h-2.48zM399.2 110.30h2.48v1.95h-2.48zM401.4 110.30h2.48v1.95h-2.48zM381.8 111.95h2.48v1.65h-2.48zM397.0 111.95h2.48v1.65h-2.48zM381.8 114.70h2.48v2.80h-2.48zM388.3 114.70h2.48v2.80h-2.48zM390.5 114.70h2.48v2.80h-2.48zM392.7 114.70h2.48v2.80h-2.48zM397.0 114.70h2.48v2.80h-2.48zM401.4 114.70h2.48v2.80h-2.48zM381.8 119.70h2.48v2.55h-2.48zM384.0 119.70h2.48v2.55h-2.48zM394.8 119.70h2.48v2.55h-2.48zM388.3 121.95h2.48v2.25h-2.48zM394.8 121.95h2.48v2.25h-2.48zM381.8 128.80h2.48v2.25h-2.48zM386.1 128.80h2.48v2.25h-2.48zM390.5 128.80h2.48v2.25h-2.48zM394.8 128.80h2.48v2.25h-2.48zM388.3 130.75h2.48v1.95h-2.48zM397.0 130.75h2.48v1.95h-2.48zM399.2 130.75h2.48v1.95h-2.48zM403.5 130.75h2.18v1.95h-2.18zM381.8 140.00h2.48v1.95h-2.48zM392.7 140.00h2.48v1.95h-2.48zM399.2 140.00h2.48v1.95h-2.48zM379.6 141.65h2.48v1.65h-2.48zM399.2 141.65h2.48v1.65h-2.48zM403.5 141.65h2.18v1.65h-2.18zM386.1 143.80h2.48v2.00h-2.48zM392.7 143.80h2.48v2.00h-2.48zM403.5 143.80h2.18v2.00h-2.18zM394.8 145.50h2.48v1.70h-2.48zM397.0 145.50h2.48v1.70h-2.48zM386.1 147.70h2.48v1.95h-2.48zM390.5 147.70h2.48v1.95h-2.48zM392.7 147.70h2.48v1.95h-2.48zM394.8 147.70h2.48v1.95h-2.48zM381.8 149.35h2.48v1.65h-2.48zM384.0 149.35h2.48v1.65h-2.48zM390.5 149.35h2.48v1.65h-2.48zM388.3 151.00h2.48v2.55h-2.48zM394.8 151.00h2.48v2.55h-2.48zM397.0 151.00h2.48v2.55h-2.48zM381.8 153.25h2.48v2.55h-2.48zM392.7 153.25h2.48v2.55h-2.48zM384.0 155.50h2.48v2.55h-2.48zM394.8 155.50h2.48v2.55h-2.48zM401.4 155.50h2.48v2.55h-2.48zM399.2 157.75h2.48v2.25h-2.48zM388.3 162.50h2.48v2.55h-2.48zM399.2 162.50h2.48v2.55h-2.48zM384.0 164.75h2.48v2.25h-2.48zM388.3 164.75h2.48v2.25h-2.48zM394.8 164.75h2.48v2.25h-2.48zM397.0 164.75h2.48v2.25h-2.48zM394.8 179.70h2.48v2.85h-2.48zM403.5 182.25h2.18v2.55h-2.18z"/><path fill="#cccccc" d="M381.8 73.90h2.48v2.20h-2.48zM390.5 73.90h2.48v2.20h-2.48zM392.7 73.90h2.48v2.20h-2.48zM394.8 73.90h2.48v2.20h-2.48zM397.0 73.90h2.48v2.20h-2.48zM403.5 73.90h2.18v2.20h-2.18zM388.3 79.50h2.48v2.13h-2.48zM381.8 81.33h2.48v2.13h-2.48zM386.1 81.33h2.48v2.13h-2.48zM392.7 81.33h2.48v2.13h-2.48zM397.0 83.17h2.48v1.83h-2.48zM386.1 90.00h2.48v2.30h-2.48zM381.8 101.30h2.48v2.17h-2.48zM399.2 101.30h2.48v2.17h-2.48zM403.5 101.30h2.18v2.17h-2.18zM381.8 103.17h2.48v2.17h-2.48zM390.5 103.17h2.48v2.17h-2.48zM397.0 103.17h2.48v2.17h-2.48zM381.8 110.30h2.48v1.95h-2.48zM386.1 110.30h2.48v1.95h-2.48zM403.5 111.95h2.18v1.65h-2.18zM397.0 119.70h2.48v2.55h-2.48zM390.5 121.95h2.48v2.25h-2.48zM401.4 121.95h2.48v2.25h-2.48zM379.6 128.80h2.48v2.25h-2.48zM392.7 128.80h2.48v2.25h-2.48zM392.7 130.75h2.48v1.95h-2.48zM394.8 130.75h2.48v1.95h-2.48zM379.6 140.00h2.48v1.95h-2.48zM403.5 140.00h2.18v1.95h-2.18zM384.0 141.65h2.48v1.65h-2.48zM388.3 141.65h2.48v1.65h-2.48zM390.5 141.65h2.48v1.65h-2.48zM394.8 141.65h2.48v1.65h-2.48zM401.4 141.65h2.48v1.65h-2.48zM384.0 145.50h2.48v1.70h-2.48zM384.0 147.70h2.48v1.95h-2.48zM397.0 147.70h2.48v1.95h-2.48zM392.7 149.35h2.48v1.65h-2.48zM394.8 149.35h2.48v1.65h-2.48zM384.0 151.00h2.48v2.55h-2.48zM386.1 151.00h2.48v2.55h-2.48zM403.5 151.00h2.18v2.55h-2.18zM394.8 153.25h2.48v2.55h-2.48zM397.0 153.25h2.48v2.55h-2.48zM401.4 153.25h2.48v2.55h-2.48zM379.6 155.50h2.48v2.55h-2.48zM386.1 155.50h2.48v2.55h-2.48zM390.5 155.50h2.48v2.55h-2.48zM397.0 155.50h2.48v2.55h-2.48zM399.2 155.50h2.48v2.55h-2.48zM384.0 157.75h2.48v2.25h-2.48zM388.3 157.75h2.48v2.25h-2.48zM390.5 157.75h2.48v2.25h-2.48zM397.0 157.75h2.48v2.25h-2.48zM401.4 157.75h2.48v2.25h-2.48zM381.8 162.50h2.48v2.55h-2.48zM384.0 162.50h2.48v2.55h-2.48zM386.1 162.50h2.48v2.55h-2.48zM397.0 162.50h2.48v2.55h-2.48zM401.4 162.50h2.48v2.55h-2.48zM390.5 164.75h2.48v2.25h-2.48zM392.7 164.75h2.48v2.25h-2.48zM401.4 164.75h2.48v2.25h-2.48zM397.0 179.70h2.48v2.85h-2.48zM401.4 179.70h2.48v2.85h-2.48zM381.8 182.25h2.48v2.55h-2.48zM386.1 182.25h2.48v2.55h-2.48z"/><path fill="#4c4c4c" d="M384.0 73.90h2.48v2.20h-2.48zM384.0 79.50h2.48v2.13h-2.48zM388.3 81.33h2.48v2.13h-2.48zM394.8 81.33h2.48v2.13h-2.48zM390.5 83.17h2.48v1.83h-2.48zM401.4 103.17h2.48v2.17h-2.48zM390.5 145.50h2.48v1.70h-2.48zM388.3 149.35h2.48v1.65h-2.48zM397.0 149.35h2.48v1.65h-2.48zM379.6 179.70h2.48v2.85h-2.48zM388.3 179.70h2.48v2.85h-2.48zM399.2 182.25h2.48v2.55h-2.48z"/><path fill="#d2d2d2" d="M388.3 73.90h2.48v2.20h-2.48zM399.2 73.90h2.48v2.20h-2.48zM379.6 79.50h2.48v2.13h-2.48zM399.2 79.50h2.48v2.13h-2.48zM384.0 81.33h2.48v2.13h-2.48zM403.5 81.33h2.18v2.13h-2.18zM388.3 83.17h2.48v1.83h-2.48zM381.8 90.00h2.48v2.30h-2.48zM388.3 90.00h2.48v2.30h-2.48zM390.5 90.00h2.48v2.30h-2.48zM392.7 90.00h2.48v2.30h-2.48zM399.2 90.00h2.48v2.30h-2.48zM403.5 90.00h2.18v2.30h-2.18zM388.3 101.30h2.48v2.17h-2.48zM390.5 101.30h2.48v2.17h-2.48zM392.7 101.30h2.48v2.17h-2.48zM397.0 101.30h2.48v2.17h-2.48zM379.6 103.17h2.48v2.17h-2.48zM384.0 103.17h2.48v2.17h-2.48zM392.7 103.17h2.48v2.17h-2.48zM403.5 103.17h2.18v2.17h-2.18zM384.0 105.03h2.48v1.87h-2.48zM388.3 105.03h2.48v1.87h-2.48zM392.7 105.03h2.48v1.87h-2.48zM394.8 105.03h2.48v1.87h-2.48zM399.2 105.03h2.48v1.87h-2.48zM401.4 105.03h2.48v1.87h-2.48zM403.5 105.03h2.18v1.87h-2.18zM379.6 110.30h2.48v1.95h-2.48zM384.0 110.30h2.48v1.95h-2.48zM388.3 110.30h2.48v1.95h-2.48zM394.8 110.30h2.48v1.95h-2.48zM403.5 110.30h2.18v1.95h-2.18zM379.6 111.95h2.48v1.65h-2.48zM386.1 111.95h2.48v1.65h-2.48zM390.5 111.95h2.48v1.65h-2.48zM392.7 111.95h2.48v1.65h-2.48zM379.6 114.70h2.48v2.80h-2.48zM386.1 114.70h2.48v2.80h-2.48zM394.8 114.70h2.48v2.80h-2.48zM379.6 119.70h2.48v2.55h-2.48zM403.5 119.70h2.18v2.55h-2.18zM386.1 121.95h2.48v2.25h-2.48zM397.0 121.95h2.48v2.25h-2.48zM403.5 121.95h2.18v2.25h-2.18zM384.0 128.80h2.48v2.25h-2.48zM388.3 128.80h2.48v2.25h-2.48zM397.0 128.80h2.48v2.25h-2.48zM399.2 128.80h2.48v2.25h-2.48zM401.4 128.80h2.48v2.25h-2.48zM403.5 128.80h2.18v2.25h-2.18zM379.6 130.75h2.48v1.95h-2.48zM381.8 130.75h2.48v1.95h-2.48zM384.0 130.75h2.48v1.95h-2.48zM386.1 130.75h2.48v1.95h-2.48zM390.5 130.75h2.48v1.95h-2.48zM401.4 130.75h2.48v1.95h-2.48zM384.0 140.00h2.48v1.95h-2.48zM386.1 140.00h2.48v1.95h-2.48zM388.3 140.00h2.48v1.95h-2.48zM390.5 140.00h2.48v1.95h-2.48zM394.8 140.00h2.48v1.95h-2.48zM397.0 140.00h2.48v1.95h-2.48zM401.4 140.00h2.48v1.95h-2.48zM386.1 141.65h2.48v1.65h-2.48zM397.0 141.65h2.48v1.65h-2.48zM381.8 143.80h2.48v2.00h-2.48zM394.8 143.80h2.48v2.00h-2.48zM401.4 143.80h2.48v2.00h-2.48zM379.6 145.50h2.48v1.70h-2.48zM381.8 145.50h2.48v1.70h-2.48zM386.1 145.50h2.48v1.70h-2.48zM392.7 145.50h2.48v1.70h-2.48zM379.6 147.70h2.48v1.95h-2.48zM388.3 147.70h2.48v1.95h-2.48zM403.5 147.70h2.18v1.95h-2.18zM379.6 149.35h2.48v1.65h-2.48zM401.4 149.35h2.48v1.65h-2.48zM403.5 149.35h2.18v1.65h-2.18zM381.8 151.00h2.48v2.55h-2.48zM390.5 151.00h2.48v2.55h-2.48zM392.7 151.00h2.48v2.55h-2.48zM399.2 151.00h2.48v2.55h-2.48zM401.4 151.00h2.48v2.55h-2.48zM379.6 153.25h2.48v2.55h-2.48zM386.1 153.25h2.48v2.55h-2.48zM388.3 153.25h2.48v2.55h-2.48zM399.2 153.25h2.48v2.55h-2.48zM403.5 153.25h2.18v2.55h-2.18zM388.3 155.50h2.48v2.55h-2.48zM392.7 155.50h2.48v2.55h-2.48zM403.5 155.50h2.18v2.55h-2.18zM381.8 157.75h2.48v2.25h-2.48zM394.8 157.75h2.48v2.25h-2.48zM390.5 162.50h2.48v2.55h-2.48zM392.7 162.50h2.48v2.55h-2.48zM403.5 162.50h2.18v2.55h-2.18zM386.1 164.75h2.48v2.25h-2.48zM399.2 164.75h2.48v2.25h-2.48zM403.5 164.75h2.18v2.25h-2.18zM403.5 179.70h2.18v2.85h-2.18z"/><path fill="#8c8c8c" d="M381.8 79.50h2.48v2.13h-2.48zM401.4 81.33h2.48v2.13h-2.48zM403.5 83.17h2.18v1.83h-2.18zM379.6 151.00h2.48v2.55h-2.48zM399.2 179.70h2.48v2.85h-2.48z"/><path fill="#666666" d="M386.1 79.50h2.48v2.13h-2.48zM392.7 79.50h2.48v2.13h-2.48zM386.1 83.17h2.48v1.83h-2.48zM397.0 110.30h2.48v1.95h-2.48zM384.0 114.70h2.48v2.80h-2.48zM390.5 143.80h2.48v2.00h-2.48zM403.5 145.50h2.18v1.70h-2.18zM399.2 147.70h2.48v1.95h-2.48zM384.0 179.70h2.48v2.85h-2.48z"/><path fill="#7f7f7f" d="M390.5 79.50h2.48v2.13h-2.48zM388.3 111.95h2.48v1.65h-2.48zM394.8 111.95h2.48v1.65h-2.48zM399.2 119.70h2.48v2.55h-2.48zM384.0 143.80h2.48v2.00h-2.48zM381.8 147.70h2.48v1.95h-2.48zM379.6 157.75h2.48v2.25h-2.48zM392.7 179.70h2.48v2.85h-2.48z"/><path fill="#262626" d="M394.8 79.50h2.48v2.13h-2.48zM386.1 119.70h2.48v2.55h-2.48zM401.4 145.50h2.48v1.70h-2.48zM392.7 182.25h2.48v2.55h-2.48z"/><path fill="#dfdfdf" d="M397.0 79.50h2.48v2.13h-2.48zM394.8 90.00h2.48v2.30h-2.48zM394.8 101.30h2.48v2.17h-2.48zM388.3 103.17h2.48v2.17h-2.48zM399.2 103.17h2.48v2.17h-2.48zM379.6 105.03h2.48v1.87h-2.48zM399.2 114.70h2.48v2.80h-2.48zM403.5 114.70h2.18v2.80h-2.18zM392.7 119.70h2.48v2.55h-2.48zM381.8 121.95h2.48v2.25h-2.48zM384.0 121.95h2.48v2.25h-2.48zM399.2 121.95h2.48v2.25h-2.48zM381.8 141.65h2.48v1.65h-2.48zM379.6 143.80h2.48v2.00h-2.48zM388.3 145.50h2.48v1.70h-2.48zM386.1 149.35h2.48v1.65h-2.48zM399.2 149.35h2.48v1.65h-2.48zM384.0 153.25h2.48v2.55h-2.48zM390.5 153.25h2.48v2.55h-2.48zM381.8 155.50h2.48v2.55h-2.48zM392.7 157.75h2.48v2.25h-2.48zM403.5 157.75h2.18v2.25h-2.18zM394.8 162.50h2.48v2.55h-2.48zM381.8 164.75h2.48v2.25h-2.48zM397.0 182.25h2.48v2.55h-2.48z"/><path fill="#727272" d="M401.4 79.50h2.48v2.13h-2.48zM379.6 83.17h2.48v1.83h-2.48zM401.4 119.70h2.48v2.55h-2.48zM384.0 182.25h2.48v2.55h-2.48zM394.8 182.25h2.48v2.55h-2.48z"/><path fill="#3f3f3f" d="M403.5 79.50h2.18v2.13h-2.18zM381.8 83.17h2.48v1.83h-2.48zM401.4 83.17h2.48v1.83h-2.48zM384.0 111.95h2.48v1.65h-2.48zM399.2 145.50h2.48v1.70h-2.48zM379.6 182.25h2.48v2.55h-2.48z"/><path fill="#595959" d="M390.5 81.33h2.48v2.13h-2.48zM397.0 81.33h2.48v2.13h-2.48zM399.2 81.33h2.48v2.13h-2.48zM394.8 83.17h2.48v1.83h-2.48zM392.7 121.95h2.48v2.25h-2.48zM388.3 143.80h2.48v2.00h-2.48zM397.0 143.80h2.48v2.00h-2.48zM401.4 147.70h2.48v1.95h-2.48zM386.1 179.70h2.48v2.85h-2.48zM388.3 182.25h2.48v2.55h-2.48z"/><path fill="#5a1528" d="M384.0 83.17h2.48v1.83h-2.48zM399.2 111.95h2.48v1.65h-2.48zM388.3 119.70h2.48v2.55h-2.48zM386.1 157.75h2.48v2.25h-2.48zM379.6 164.75h2.48v2.25h-2.48zM381.8 179.70h2.48v2.85h-2.48zM390.5 179.70h2.48v2.85h-2.48zM401.4 182.25h2.48v2.55h-2.48z"/><path fill="#333333" d="M401.4 111.95h2.48v1.65h-2.48zM390.5 119.70h2.48v2.55h-2.48zM379.6 121.95h2.48v2.25h-2.48zM392.7 141.65h2.48v1.65h-2.48zM399.2 143.80h2.48v2.00h-2.48zM379.6 162.50h2.48v2.55h-2.48zM390.5 182.25h2.48v2.55h-2.48z"/><path fill="#111111" d="M379.6 187.00h2.48v3.00h-2.48zM384.0 187.00h2.48v3.00h-2.48zM392.7 187.00h2.48v3.00h-2.48z"/><path fill="#3a3a3a" d="M381.8 187.00h2.48v3.00h-2.48zM386.1 187.00h2.48v3.00h-2.48zM397.0 187.00h2.48v3.00h-2.48zM399.2 187.00h2.48v3.00h-2.48zM401.4 187.00h2.48v3.00h-2.48z"/><path fill="#8a2038" d="M388.3 187.00h2.48v3.00h-2.48zM394.8 187.00h2.48v3.00h-2.48zM403.5 187.00h2.18v3.00h-2.18z"/><path fill="#6a1228" d="M390.5 187.00h2.48v3.00h-2.48z"/><path fill="#fff" fill-opacity="0.5" d="M379.6 73.55h26.10v0.4h-26.10zM379.6 75.70h26.10v0.4h-26.10zM379.6 77.84h26.10v0.4h-26.10zM379.6 79.99h26.10v0.4h-26.10zM379.6 82.14h26.10v0.4h-26.10zM379.6 84.29h26.10v0.4h-26.10zM379.6 86.44h26.10v0.4h-26.10zM379.6 88.59h26.10v0.4h-26.10zM379.6 90.73h26.10v0.4h-26.10zM379.6 92.88h26.10v0.4h-26.10zM379.6 95.03h26.10v0.4h-26.10zM379.6 97.18h26.10v0.4h-26.10zM379.6 99.33h26.10v0.4h-26.10zM379.6 101.47h26.10v0.4h-26.10zM379.6 103.62h26.10v0.4h-26.10zM379.6 105.77h26.10v0.4h-26.10zM379.6 107.92h26.10v0.4h-26.10zM379.6 110.07h26.10v0.4h-26.10zM379.6 112.22h26.10v0.4h-26.10zM379.6 114.36h26.10v0.4h-26.10zM379.6 116.51h26.10v0.4h-26.10zM379.6 118.66h26.10v0.4h-26.10zM379.6 120.81h26.10v0.4h-26.10zM379.6 122.96h26.10v0.4h-26.10zM379.6 125.11h26.10v0.4h-26.10zM379.6 127.25h26.10v0.4h-26.10zM379.6 129.40h26.10v0.4h-26.10zM379.6 131.55h26.10v0.4h-26.10zM379.6 133.70h26.10v0.4h-26.10zM379.6 135.85h26.10v0.4h-26.10zM379.6 137.99h26.10v0.4h-26.10zM379.6 140.14h26.10v0.4h-26.10zM379.6 142.29h26.10v0.4h-26.10zM379.6 144.44h26.10v0.4h-26.10zM379.6 146.59h26.10v0.4h-26.10zM379.6 148.74h26.10v0.4h-26.10zM379.6 150.88h26.10v0.4h-26.10zM379.6 153.03h26.10v0.4h-26.10zM379.6 155.18h26.10v0.4h-26.10zM379.6 157.33h26.10v0.4h-26.10zM379.6 159.48h26.10v0.4h-26.10zM379.6 161.62h26.10v0.4h-26.10zM379.6 163.77h26.10v0.4h-26.10zM379.6 165.92h26.10v0.4h-26.10zM379.6 168.07h26.10v0.4h-26.10zM379.6 170.22h26.10v0.4h-26.10zM379.6 172.37h26.10v0.4h-26.10zM379.6 174.51h26.10v0.4h-26.10zM379.6 176.66h26.10v0.4h-26.10zM379.6 178.81h26.10v0.4h-26.10zM379.6 180.96h26.10v0.4h-26.10zM379.6 183.11h26.10v0.4h-26.10zM379.6 185.26h26.10v0.4h-26.10zM379.6 187.40h26.10v0.4h-26.10zM379.6 189.55h26.10v0.4h-26.10z"/><path fill="#fff" fill-opacity="0.3" d="M379.6 73.70h26.10v0.4h-26.10zM379.6 75.90h26.10v0.4h-26.10zM379.6 81.13h26.10v0.4h-26.10zM379.6 82.97h26.10v0.4h-26.10zM379.6 79.30h26.10v0.4h-26.10zM379.6 84.80h26.10v0.4h-26.10zM379.6 89.80h26.10v0.4h-26.10zM379.6 92.10h26.10v0.4h-26.10zM379.6 102.97h26.10v0.4h-26.10zM379.6 104.83h26.10v0.4h-26.10zM379.6 101.10h26.10v0.4h-26.10zM379.6 106.70h26.10v0.4h-26.10zM379.6 111.75h26.10v0.4h-26.10zM379.6 110.10h26.10v0.4h-26.10zM379.6 113.40h26.10v0.4h-26.10zM379.6 114.50h26.10v0.4h-26.10zM379.6 117.30h26.10v0.4h-26.10zM379.6 121.75h26.10v0.4h-26.10zM379.6 119.50h26.10v0.4h-26.10zM379.6 124.00h26.10v0.4h-26.10zM379.6 130.55h26.10v0.4h-26.10zM379.6 128.60h26.10v0.4h-26.10zM379.6 132.50h26.10v0.4h-26.10zM379.6 141.45h26.10v0.4h-26.10zM379.6 139.80h26.10v0.4h-26.10zM379.6 143.10h26.10v0.4h-26.10zM379.6 145.30h26.10v0.4h-26.10zM379.6 143.60h26.10v0.4h-26.10zM379.6 147.00h26.10v0.4h-26.10zM379.6 149.15h26.10v0.4h-26.10zM379.6 147.50h26.10v0.4h-26.10zM379.6 150.80h26.10v0.4h-26.10zM379.6 153.05h26.10v0.4h-26.10zM379.6 155.30h26.10v0.4h-26.10zM379.6 157.55h26.10v0.4h-26.10zM379.6 150.80h26.10v0.4h-26.10zM379.6 159.80h26.10v0.4h-26.10zM379.6 164.55h26.10v0.4h-26.10zM379.6 162.30h26.10v0.4h-26.10zM379.6 166.80h26.10v0.4h-26.10zM379.6 182.05h26.10v0.4h-26.10zM379.6 179.50h26.10v0.4h-26.10zM379.6 184.60h26.10v0.4h-26.10zM379.6 186.80h26.10v0.4h-26.10zM379.6 189.80h26.10v0.4h-26.10z"/><path fill="#fff" fill-opacity="0.2" d="M381.58 71.6h0.4v120.30h-0.4zM383.75 71.6h0.4v120.30h-0.4zM385.93 71.6h0.4v120.30h-0.4zM388.10 71.6h0.4v120.30h-0.4zM390.28 71.6h0.4v120.30h-0.4zM392.45 71.6h0.4v120.30h-0.4zM394.63 71.6h0.4v120.30h-0.4zM396.80 71.6h0.4v120.30h-0.4zM398.98 71.6h0.4v120.30h-0.4zM401.15 71.6h0.4v120.30h-0.4zM403.33 71.6h0.4v120.30h-0.4z"/><rect x="396.65" y="71.6" width="0.7" height="120.30" fill="#fff" fill-opacity="0.5"/><rect x="401.00" y="71.6" width="0.7" height="120.30" fill="#fff" fill-opacity="0.5"/><rect x="403.18" y="71.6" width="0.7" height="120.30" fill="#fff" fill-opacity="0.5"/></g>
<rect x="411.0" y="70.6" width="11.30" height="1.2" fill="#5a5a5a"/><rect x="410.7" y="72.6" width="12.50" height="118.5" fill="#b4b4b4"/><rect x="410.7" y="72.6" width="1.5" height="118.5" fill="#767676"/><rect x="412.5" y="72.6" width="3.4" height="118.5" fill="#9a9a9a"/><rect x="421.59999999999997" y="72.6" width="0.9" height="118.5" fill="#c8c8c8"/><rect x="416.5" y="72.6" width="3.2" height="118.5" fill="#b4b4b4"/><path fill="#fff" fill-opacity="0.4" d="M410.7 73.60h12.50v0.6h-12.50zM410.7 75.72h12.50v0.6h-12.50zM410.7 77.84h12.50v0.6h-12.50zM410.7 79.96h12.50v0.6h-12.50zM410.7 82.08h12.50v0.6h-12.50zM410.7 84.20h12.50v0.6h-12.50zM410.7 86.32h12.50v0.6h-12.50zM410.7 88.44h12.50v0.6h-12.50zM410.7 90.56h12.50v0.6h-12.50zM410.7 92.68h12.50v0.6h-12.50zM410.7 94.80h12.50v0.6h-12.50zM410.7 96.92h12.50v0.6h-12.50zM410.7 99.04h12.50v0.6h-12.50zM410.7 101.16h12.50v0.6h-12.50zM410.7 103.28h12.50v0.6h-12.50zM410.7 105.40h12.50v0.6h-12.50zM410.7 107.52h12.50v0.6h-12.50zM410.7 109.64h12.50v0.6h-12.50zM410.7 111.76h12.50v0.6h-12.50zM410.7 113.88h12.50v0.6h-12.50zM410.7 116.00h12.50v0.6h-12.50zM410.7 118.12h12.50v0.6h-12.50zM410.7 120.24h12.50v0.6h-12.50zM410.7 122.36h12.50v0.6h-12.50zM410.7 124.48h12.50v0.6h-12.50zM410.7 126.60h12.50v0.6h-12.50zM410.7 128.72h12.50v0.6h-12.50zM410.7 130.84h12.50v0.6h-12.50zM410.7 132.96h12.50v0.6h-12.50zM410.7 135.08h12.50v0.6h-12.50zM410.7 137.20h12.50v0.6h-12.50zM410.7 139.32h12.50v0.6h-12.50zM410.7 141.44h12.50v0.6h-12.50zM410.7 143.56h12.50v0.6h-12.50zM410.7 145.68h12.50v0.6h-12.50zM410.7 147.80h12.50v0.6h-12.50zM410.7 149.92h12.50v0.6h-12.50zM410.7 152.04h12.50v0.6h-12.50zM410.7 154.16h12.50v0.6h-12.50zM410.7 156.28h12.50v0.6h-12.50zM410.7 158.40h12.50v0.6h-12.50zM410.7 160.52h12.50v0.6h-12.50zM410.7 162.64h12.50v0.6h-12.50zM410.7 164.76h12.50v0.6h-12.50zM410.7 166.88h12.50v0.6h-12.50zM410.7 169.00h12.50v0.6h-12.50zM410.7 171.12h12.50v0.6h-12.50zM410.7 173.24h12.50v0.6h-12.50zM410.7 175.36h12.50v0.6h-12.50zM410.7 177.48h12.50v0.6h-12.50zM410.7 179.60h12.50v0.6h-12.50zM410.7 181.72h12.50v0.6h-12.50zM410.7 183.84h12.50v0.6h-12.50zM410.7 185.96h12.50v0.6h-12.50zM410.7 188.08h12.50v0.6h-12.50zM410.7 190.20h12.50v0.6h-12.50z"/><rect x="411.09999999999997" y="190.0" width="11.00" height="1.1" fill="#666"/>
<text x="448.80" y="42.90" font-size="6.4" fill="#000" textLength="30.00" lengthAdjust="spacingAndGlyphs">CD8<tspan font-size="3.9" dy="-2.5">+</tspan><tspan dy="2.5"> T cell</tspan></text>
<line x1="433.70000000000005" y1="45.9" x2="490.29999999999995" y2="45.9" stroke="#111" stroke-width="1.3"/>
<text x="437.70" y="53.30" font-size="6.0" fill="#000" textLength="18.80" lengthAdjust="spacingAndGlyphs">Control</text>
<text x="466.30" y="53.30" font-size="6.0" fill="#000" textLength="22.60" lengthAdjust="spacingAndGlyphs">Patient 1</text>
<rect x="434.9" y="56.9" width="25.60" height="12.5" fill="#b0b0b0"/><rect x="434.9" y="61.3" width="25.60" height="2.4" fill="#c2c2c2"/><rect x="434.9" y="63.8" width="25.60" height="1.7" fill="#888888"/><rect x="434.9" y="65.5" width="25.60" height="1.2" fill="#dadada"/><rect x="434.9" y="66.7" width="25.60" height="2.0" fill="#8a8a8a"/><rect x="434.9" y="68.7" width="25.60" height="0.7" fill="#bcbcbc"/><rect x="436.78" y="56.9" width="0.5" height="12.5" fill="#fff" fill-opacity="0.55"/><rect x="438.92" y="56.9" width="0.5" height="12.5" fill="#fff" fill-opacity="0.55"/><rect x="441.05" y="56.9" width="0.5" height="12.5" fill="#fff" fill-opacity="0.55"/><rect x="443.18" y="56.9" width="0.5" height="12.5" fill="#fff" fill-opacity="0.55"/><rect x="445.32" y="56.9" width="0.5" height="12.5" fill="#fff" fill-opacity="0.55"/><rect x="447.45" y="56.9" width="0.5" height="12.5" fill="#fff" fill-opacity="0.55"/><rect x="449.58" y="56.9" width="0.5" height="12.5" fill="#fff" fill-opacity="0.55"/><rect x="451.72" y="56.9" width="0.5" height="12.5" fill="#fff" fill-opacity="0.55"/><rect x="453.85" y="56.9" width="0.5" height="12.5" fill="#fff" fill-opacity="0.55"/><rect x="455.98" y="56.9" width="0.5" height="12.5" fill="#fff" fill-opacity="0.55"/><rect x="458.12" y="56.9" width="0.5" height="12.5" fill="#fff" fill-opacity="0.55"/><rect x="435.77" y="56.9" width="0.4" height="4.4" fill="#fff" fill-opacity="0.35"/><rect x="437.90" y="56.9" width="0.4" height="4.4" fill="#fff" fill-opacity="0.35"/><rect x="440.03" y="56.9" width="0.4" height="4.4" fill="#fff" fill-opacity="0.35"/><rect x="442.17" y="56.9" width="0.4" height="4.4" fill="#fff" fill-opacity="0.35"/><rect x="444.30" y="56.9" width="0.4" height="4.4" fill="#fff" fill-opacity="0.35"/><rect x="446.43" y="56.9" width="0.4" height="4.4" fill="#fff" fill-opacity="0.35"/><rect x="448.57" y="56.9" width="0.4" height="4.4" fill="#fff" fill-opacity="0.35"/><rect x="450.70" y="56.9" width="0.4" height="4.4" fill="#fff" fill-opacity="0.35"/><rect x="452.83" y="56.9" width="0.4" height="4.4" fill="#fff" fill-opacity="0.35"/><rect x="454.97" y="56.9" width="0.4" height="4.4" fill="#fff" fill-opacity="0.35"/><rect x="457.10" y="56.9" width="0.4" height="4.4" fill="#fff" fill-opacity="0.35"/><rect x="459.23" y="56.9" width="0.4" height="4.4" fill="#fff" fill-opacity="0.35"/>
<rect x="463.5" y="56.9" width="25.00" height="12.5" fill="#b0b0b0"/><rect x="463.5" y="61.3" width="25.00" height="2.4" fill="#c2c2c2"/><rect x="463.5" y="63.8" width="25.00" height="1.7" fill="#888888"/><rect x="463.5" y="65.5" width="25.00" height="1.2" fill="#dadada"/><rect x="463.5" y="66.7" width="25.00" height="2.0" fill="#8a8a8a"/><rect x="463.5" y="68.7" width="25.00" height="0.7" fill="#bcbcbc"/><rect x="465.33" y="56.9" width="0.5" height="12.5" fill="#fff" fill-opacity="0.55"/><rect x="467.42" y="56.9" width="0.5" height="12.5" fill="#fff" fill-opacity="0.55"/><rect x="469.50" y="56.9" width="0.5" height="12.5" fill="#fff" fill-opacity="0.55"/><rect x="471.58" y="56.9" width="0.5" height="12.5" fill="#fff" fill-opacity="0.55"/><rect x="473.67" y="56.9" width="0.5" height="12.5" fill="#fff" fill-opacity="0.55"/><rect x="475.75" y="56.9" width="0.5" height="12.5" fill="#fff" fill-opacity="0.55"/><rect x="477.83" y="56.9" width="0.5" height="12.5" fill="#fff" fill-opacity="0.55"/><rect x="479.92" y="56.9" width="0.5" height="12.5" fill="#fff" fill-opacity="0.55"/><rect x="482.00" y="56.9" width="0.5" height="12.5" fill="#fff" fill-opacity="0.55"/><rect x="484.08" y="56.9" width="0.5" height="12.5" fill="#fff" fill-opacity="0.55"/><rect x="486.17" y="56.9" width="0.5" height="12.5" fill="#fff" fill-opacity="0.55"/><rect x="464.34" y="56.9" width="0.4" height="4.4" fill="#fff" fill-opacity="0.35"/><rect x="466.43" y="56.9" width="0.4" height="4.4" fill="#fff" fill-opacity="0.35"/><rect x="468.51" y="56.9" width="0.4" height="4.4" fill="#fff" fill-opacity="0.35"/><rect x="470.59" y="56.9" width="0.4" height="4.4" fill="#fff" fill-opacity="0.35"/><rect x="472.68" y="56.9" width="0.4" height="4.4" fill="#fff" fill-opacity="0.35"/><rect x="474.76" y="56.9" width="0.4" height="4.4" fill="#fff" fill-opacity="0.35"/><rect x="476.84" y="56.9" width="0.4" height="4.4" fill="#fff" fill-opacity="0.35"/><rect x="478.93" y="56.9" width="0.4" height="4.4" fill="#fff" fill-opacity="0.35"/><rect x="481.01" y="56.9" width="0.4" height="4.4" fill="#fff" fill-opacity="0.35"/><rect x="483.09" y="56.9" width="0.4" height="4.4" fill="#fff" fill-opacity="0.35"/><rect x="485.18" y="56.9" width="0.4" height="4.4" fill="#fff" fill-opacity="0.35"/><rect x="487.26" y="56.9" width="0.4" height="4.4" fill="#fff" fill-opacity="0.35"/>
<rect x="460.79999999999995" y="57.8" width="0.7" height="11.9" fill="#666"/>
<rect x="490.0" y="57.8" width="0.7" height="11.9" fill="#666"/>
<g><path fill="#d8d8d8" d="M434.9 71.60h25.60v120.30h-25.60zM437.0 72.20h2.43v1.10h-2.43zM439.2 72.20h2.43v1.10h-2.43zM445.6 72.20h2.43v1.10h-2.43zM447.7 72.20h2.43v1.10h-2.43zM434.9 77.00h2.43v2.50h-2.43zM441.3 77.00h2.43v2.50h-2.43zM452.0 77.00h2.43v2.50h-2.43zM456.2 77.00h2.43v2.50h-2.43zM458.4 77.00h2.13v2.50h-2.13zM443.4 94.00h2.43v1.00h-2.43zM454.1 94.00h2.43v1.00h-2.43zM447.7 100.20h2.43v2.30h-2.43zM437.0 110.80h2.43v0.40h-2.43zM454.1 110.80h2.43v0.40h-2.43zM456.2 110.80h2.43v0.40h-2.43zM434.9 120.30h2.43v1.70h-2.43zM443.4 120.30h2.43v1.70h-2.43zM449.8 120.30h2.43v1.70h-2.43zM452.0 120.30h2.43v1.70h-2.43zM434.9 161.30h2.43v2.30h-2.43zM445.6 161.30h2.43v2.30h-2.43zM449.8 161.30h2.43v2.30h-2.43zM454.1 161.30h2.43v2.30h-2.43zM441.3 178.00h2.43v2.05h-2.43zM443.4 178.00h2.43v2.05h-2.43zM452.0 178.00h2.43v2.05h-2.43zM454.1 178.00h2.43v2.05h-2.43zM458.4 178.00h2.13v2.05h-2.13zM443.4 179.75h2.43v1.75h-2.43zM445.6 179.75h2.43v1.75h-2.43zM454.1 179.75h2.43v1.75h-2.43z"/><path fill="#cccccc" d="M434.9 72.20h2.43v1.10h-2.43zM443.4 72.20h2.43v1.10h-2.43zM454.1 72.20h2.43v1.10h-2.43zM447.7 94.00h2.43v1.00h-2.43zM458.4 94.00h2.13v1.00h-2.13zM434.9 100.20h2.43v2.30h-2.43zM437.0 100.20h2.43v2.30h-2.43zM443.4 100.20h2.43v2.30h-2.43zM449.8 100.20h2.43v2.30h-2.43zM454.1 100.20h2.43v2.30h-2.43zM458.4 100.20h2.13v2.30h-2.13zM443.4 110.80h2.43v0.40h-2.43zM447.7 110.80h2.43v0.40h-2.43zM449.8 110.80h2.43v0.40h-2.43zM439.2 120.30h2.43v1.70h-2.43zM445.6 120.30h2.43v1.70h-2.43zM454.1 120.30h2.43v1.70h-2.43zM458.4 120.30h2.13v1.70h-2.13zM437.0 161.30h2.43v2.30h-2.43zM439.2 161.30h2.43v2.30h-2.43zM441.3 161.30h2.43v2.30h-2.43zM447.7 161.30h2.43v2.30h-2.43zM458.4 161.30h2.13v2.30h-2.13zM437.0 178.00h2.43v2.05h-2.43zM447.7 178.00h2.43v2.05h-2.43zM437.0 179.75h2.43v1.75h-2.43zM439.2 179.75h2.43v1.75h-2.43zM441.3 179.75h2.43v1.75h-2.43zM447.7 179.75h2.43v1.75h-2.43zM449.8 179.75h2.43v1.75h-2.43zM452.0 179.75h2.43v1.75h-2.43zM458.4 179.75h2.13v1.75h-2.13z"/><path fill="#d2d2d2" d="M441.3 72.20h2.43v1.10h-2.43zM449.8 72.20h2.43v1.10h-2.43zM452.0 72.20h2.43v1.10h-2.43zM458.4 72.20h2.13v1.10h-2.13zM437.0 77.00h2.43v2.50h-2.43zM443.4 77.00h2.43v2.50h-2.43zM447.7 77.00h2.43v2.50h-2.43zM437.0 94.00h2.43v1.00h-2.43zM445.6 94.00h2.43v1.00h-2.43zM452.0 94.00h2.43v1.00h-2.43zM441.3 100.20h2.43v2.30h-2.43zM452.0 100.20h2.43v2.30h-2.43zM456.2 100.20h2.43v2.30h-2.43zM441.3 110.80h2.43v0.40h-2.43zM458.4 110.80h2.13v0.40h-2.13zM437.0 120.30h2.43v1.70h-2.43zM447.7 120.30h2.43v1.70h-2.43zM443.4 161.30h2.43v2.30h-2.43zM452.0 161.30h2.43v2.30h-2.43zM456.2 161.30h2.43v2.30h-2.43zM445.6 178.00h2.43v2.05h-2.43zM449.8 178.00h2.43v2.05h-2.43zM456.2 178.00h2.43v2.05h-2.43zM456.2 179.75h2.43v1.75h-2.43z"/><path fill="#c5c5c5" d="M456.2 72.20h2.43v1.10h-2.43zM434.9 94.00h2.43v1.00h-2.43zM456.2 94.00h2.43v1.00h-2.43zM439.2 100.20h2.43v2.30h-2.43zM434.9 110.80h2.43v0.40h-2.43zM452.0 110.80h2.43v0.40h-2.43zM434.9 179.75h2.43v1.75h-2.43z"/><path fill="#7f7f7f" d="M434.9 73.90h2.43v2.80h-2.43zM439.2 73.90h2.43v2.80h-2.43zM449.8 73.90h2.43v2.80h-2.43zM454.1 73.90h2.43v2.80h-2.43zM434.9 86.70h2.43v2.55h-2.43zM437.0 86.70h2.43v2.55h-2.43zM447.7 86.70h2.43v2.55h-2.43zM449.8 86.70h2.43v2.55h-2.43zM458.4 88.95h2.13v2.25h-2.13zM441.3 95.00h2.43v2.90h-2.43zM443.4 95.00h2.43v2.90h-2.43zM445.6 95.00h2.43v2.90h-2.43zM452.0 95.00h2.43v2.90h-2.43zM441.3 97.60h2.43v2.60h-2.43zM447.7 97.60h2.43v2.60h-2.43zM452.0 97.60h2.43v2.60h-2.43zM441.3 103.00h2.43v2.73h-2.43zM447.7 103.00h2.43v2.73h-2.43zM452.0 103.00h2.43v2.73h-2.43zM454.1 103.00h2.43v2.73h-2.43zM437.0 105.43h2.43v2.73h-2.43zM441.3 105.43h2.43v2.73h-2.43zM445.6 105.43h2.43v2.73h-2.43zM443.4 107.87h2.43v2.43h-2.43zM447.7 107.87h2.43v2.43h-2.43zM454.1 107.87h2.43v2.43h-2.43zM434.9 111.40h2.43v1.95h-2.43zM439.2 111.40h2.43v1.95h-2.43zM458.4 111.40h2.13v1.95h-2.13zM434.9 113.05h2.43v1.65h-2.43zM437.0 113.05h2.43v1.65h-2.43zM447.7 113.05h2.43v1.65h-2.43zM458.4 113.05h2.13v1.65h-2.13zM437.0 115.80h2.43v2.55h-2.43zM439.2 115.80h2.43v2.55h-2.43zM441.3 115.80h2.43v2.55h-2.43zM443.4 115.80h2.43v2.55h-2.43zM447.7 115.80h2.43v2.55h-2.43zM449.8 115.80h2.43v2.55h-2.43zM458.4 115.80h2.13v2.55h-2.13zM434.9 118.05h2.43v2.25h-2.43zM445.6 122.50h2.43v2.20h-2.43zM449.8 122.50h2.43v2.20h-2.43zM454.1 122.50h2.43v2.20h-2.43zM456.2 122.50h2.43v2.20h-2.43zM458.4 122.50h2.13v2.20h-2.13zM439.2 124.40h2.43v2.20h-2.43zM458.4 124.40h2.13v2.20h-2.13zM437.0 126.30h2.43v1.90h-2.43zM445.6 126.30h2.43v1.90h-2.43zM452.0 126.30h2.43v1.90h-2.43zM434.9 128.80h2.43v2.17h-2.43zM437.0 128.80h2.43v2.17h-2.43zM452.0 128.80h2.43v2.17h-2.43zM437.0 130.67h2.43v2.17h-2.43zM443.4 130.67h2.43v2.17h-2.43zM445.6 130.67h2.43v2.17h-2.43zM452.0 130.67h2.43v2.17h-2.43zM454.1 130.67h2.43v2.17h-2.43zM456.2 130.67h2.43v2.17h-2.43zM434.9 132.53h2.43v1.87h-2.43zM445.6 132.53h2.43v1.87h-2.43zM456.2 132.53h2.43v1.87h-2.43zM434.9 139.40h2.43v2.80h-2.43zM445.6 139.40h2.43v2.80h-2.43zM454.1 141.90h2.43v2.50h-2.43zM439.2 149.40h2.43v2.58h-2.43zM441.3 149.40h2.43v2.58h-2.43zM454.1 149.40h2.43v2.58h-2.43zM437.0 151.68h2.43v2.58h-2.43zM447.7 153.96h2.43v2.58h-2.43zM449.8 153.96h2.43v2.58h-2.43zM458.4 156.24h2.13v2.58h-2.13zM441.3 158.52h2.43v2.28h-2.43zM447.7 158.52h2.43v2.28h-2.43zM449.8 158.52h2.43v2.28h-2.43zM454.1 158.52h2.43v2.28h-2.43zM458.4 158.52h2.13v2.28h-2.13zM439.2 164.10h2.43v2.25h-2.43zM447.7 164.10h2.43v2.25h-2.43zM452.0 164.10h2.43v2.25h-2.43zM454.1 164.10h2.43v2.25h-2.43zM439.2 166.05h2.43v1.95h-2.43zM441.3 166.05h2.43v1.95h-2.43zM447.7 166.05h2.43v1.95h-2.43zM449.8 166.05h2.43v1.95h-2.43zM458.4 166.05h2.13v1.95h-2.13zM441.3 182.00h2.43v2.50h-2.43zM443.4 182.00h2.43v2.50h-2.43zM452.0 184.20h2.43v2.20h-2.43zM456.2 184.20h2.43v2.20h-2.43z"/><path fill="#6c6c6c" d="M437.0 73.90h2.43v2.80h-2.43zM445.6 73.90h2.43v2.80h-2.43zM456.2 73.90h2.43v2.80h-2.43zM437.0 82.07h2.43v2.37h-2.43zM447.7 82.07h2.43v2.37h-2.43zM449.8 82.07h2.43v2.37h-2.43zM452.0 82.07h2.43v2.37h-2.43zM454.1 82.07h2.43v2.37h-2.43zM458.4 82.07h2.13v2.37h-2.13zM443.4 84.13h2.43v2.07h-2.43zM445.6 84.13h2.43v2.07h-2.43zM447.7 84.13h2.43v2.07h-2.43zM456.2 84.13h2.43v2.07h-2.43zM445.6 103.00h2.43v2.73h-2.43zM456.2 103.00h2.43v2.73h-2.43zM434.9 105.43h2.43v2.73h-2.43zM449.8 105.43h2.43v2.73h-2.43zM437.0 111.40h2.43v1.95h-2.43zM452.0 111.40h2.43v1.95h-2.43zM441.3 118.05h2.43v2.25h-2.43zM441.3 128.80h2.43v2.17h-2.43zM434.9 130.67h2.43v2.17h-2.43zM449.8 130.67h2.43v2.17h-2.43zM449.8 132.53h2.43v1.87h-2.43zM452.0 132.53h2.43v1.87h-2.43zM441.3 145.00h2.43v2.50h-2.43zM449.8 145.00h2.43v2.50h-2.43zM454.1 145.00h2.43v2.50h-2.43zM458.4 145.00h2.13v2.50h-2.13zM437.0 147.20h2.43v2.20h-2.43zM443.4 147.20h2.43v2.20h-2.43zM458.4 147.20h2.13v2.20h-2.13zM437.0 164.10h2.43v2.25h-2.43zM449.8 164.10h2.43v2.25h-2.43zM443.4 184.20h2.43v2.20h-2.43z"/><path fill="#727272" d="M441.3 73.90h2.43v2.80h-2.43zM443.4 73.90h2.43v2.80h-2.43zM443.4 80.00h2.43v2.37h-2.43zM452.0 80.00h2.43v2.37h-2.43zM454.1 80.00h2.43v2.37h-2.43zM456.2 80.00h2.43v2.37h-2.43zM458.4 80.00h2.13v2.37h-2.13zM439.2 84.13h2.43v2.07h-2.43zM449.8 84.13h2.43v2.07h-2.43zM454.1 84.13h2.43v2.07h-2.43zM458.4 84.13h2.13v2.07h-2.13zM458.4 95.00h2.13v2.90h-2.13zM439.2 97.60h2.43v2.60h-2.43zM434.9 103.00h2.43v2.73h-2.43zM437.0 103.00h2.43v2.73h-2.43zM439.2 105.43h2.43v2.73h-2.43zM443.4 105.43h2.43v2.73h-2.43zM447.7 105.43h2.43v2.73h-2.43zM454.1 105.43h2.43v2.73h-2.43zM458.4 105.43h2.13v2.73h-2.13zM441.3 107.87h2.43v2.43h-2.43zM452.0 107.87h2.43v2.43h-2.43zM449.8 111.40h2.43v1.95h-2.43zM456.2 111.40h2.43v1.95h-2.43zM441.3 113.05h2.43v1.65h-2.43zM452.0 113.05h2.43v1.65h-2.43zM452.0 115.80h2.43v2.55h-2.43zM443.4 118.05h2.43v2.25h-2.43zM445.6 118.05h2.43v2.25h-2.43zM449.8 118.05h2.43v2.25h-2.43zM454.1 118.05h2.43v2.25h-2.43zM456.2 118.05h2.43v2.25h-2.43zM447.7 124.40h2.43v2.20h-2.43zM456.2 124.40h2.43v2.20h-2.43zM434.9 126.30h2.43v1.90h-2.43zM443.4 126.30h2.43v1.90h-2.43zM447.7 126.30h2.43v1.90h-2.43zM443.4 128.80h2.43v2.17h-2.43zM449.8 128.80h2.43v2.17h-2.43zM439.2 130.67h2.43v2.17h-2.43zM447.7 130.67h2.43v2.17h-2.43zM439.2 132.53h2.43v1.87h-2.43zM443.4 132.53h2.43v1.87h-2.43zM458.4 132.53h2.13v1.87h-2.13zM443.4 145.00h2.43v2.50h-2.43zM445.6 145.00h2.43v2.50h-2.43zM434.9 147.20h2.43v2.20h-2.43zM445.6 147.20h2.43v2.20h-2.43zM449.8 147.20h2.43v2.20h-2.43zM434.9 164.10h2.43v2.25h-2.43zM443.4 164.10h2.43v2.25h-2.43zM456.2 166.05h2.43v1.95h-2.43zM452.0 182.00h2.43v2.50h-2.43zM456.2 182.00h2.43v2.50h-2.43zM434.9 184.20h2.43v2.20h-2.43zM441.3 184.20h2.43v2.20h-2.43zM445.6 184.20h2.43v2.20h-2.43zM454.1 184.20h2.43v2.20h-2.43z"/><path fill="#858585" d="M447.7 73.90h2.43v2.80h-2.43zM452.0 73.90h2.43v2.80h-2.43zM439.2 86.70h2.43v2.55h-2.43zM443.4 86.70h2.43v2.55h-2.43zM458.4 86.70h2.13v2.55h-2.13zM443.4 88.95h2.43v2.25h-2.43zM454.1 88.95h2.43v2.25h-2.43zM456.2 88.95h2.43v2.25h-2.43zM439.2 91.20h2.43v2.60h-2.43zM449.8 91.20h2.43v2.60h-2.43zM434.9 95.00h2.43v2.90h-2.43zM437.0 95.00h2.43v2.90h-2.43zM447.7 95.00h2.43v2.90h-2.43zM456.2 95.00h2.43v2.90h-2.43zM434.9 97.60h2.43v2.60h-2.43zM443.4 97.60h2.43v2.60h-2.43zM445.6 97.60h2.43v2.60h-2.43zM449.8 103.00h2.43v2.73h-2.43zM456.2 105.43h2.43v2.73h-2.43zM439.2 107.87h2.43v2.43h-2.43zM449.8 107.87h2.43v2.43h-2.43zM449.8 113.05h2.43v1.65h-2.43zM434.9 115.80h2.43v2.55h-2.43zM445.6 115.80h2.43v2.55h-2.43zM454.1 115.80h2.43v2.55h-2.43zM437.0 118.05h2.43v2.25h-2.43zM439.2 118.05h2.43v2.25h-2.43zM458.4 118.05h2.13v2.25h-2.13zM437.0 122.50h2.43v2.20h-2.43zM441.3 122.50h2.43v2.20h-2.43zM449.8 124.40h2.43v2.20h-2.43zM454.1 124.40h2.43v2.20h-2.43zM439.2 126.30h2.43v1.90h-2.43zM454.1 128.80h2.43v2.17h-2.43zM456.2 128.80h2.43v2.17h-2.43zM458.4 128.80h2.13v2.17h-2.13zM441.3 130.67h2.43v2.17h-2.43zM447.7 132.53h2.43v1.87h-2.43zM452.0 139.40h2.43v2.80h-2.43zM458.4 139.40h2.13v2.80h-2.13zM443.4 141.90h2.43v2.50h-2.43zM458.4 141.90h2.13v2.50h-2.13zM437.0 149.40h2.43v2.58h-2.43zM443.4 149.40h2.43v2.58h-2.43zM456.2 149.40h2.43v2.58h-2.43zM458.4 149.40h2.13v2.58h-2.13zM434.9 151.68h2.43v2.58h-2.43zM439.2 151.68h2.43v2.58h-2.43zM441.3 151.68h2.43v2.58h-2.43zM458.4 151.68h2.13v2.58h-2.13zM434.9 153.96h2.43v2.58h-2.43zM456.2 153.96h2.43v2.58h-2.43zM434.9 156.24h2.43v2.58h-2.43zM439.2 156.24h2.43v2.58h-2.43zM441.3 156.24h2.43v2.58h-2.43zM443.4 156.24h2.43v2.58h-2.43zM456.2 156.24h2.43v2.58h-2.43zM445.6 164.10h2.43v2.25h-2.43zM434.9 166.05h2.43v1.95h-2.43zM434.9 168.00h2.43v2.30h-2.43zM437.0 170.00h2.43v2.00h-2.43zM434.9 175.25h2.43v2.25h-2.43zM447.7 175.25h2.43v2.25h-2.43zM437.0 182.00h2.43v2.50h-2.43zM437.0 184.20h2.43v2.20h-2.43zM447.7 184.20h2.43v2.20h-2.43z"/><path fill="#797979" d="M458.4 73.90h2.13v2.80h-2.13zM439.2 80.00h2.43v2.37h-2.43zM447.7 80.00h2.43v2.37h-2.43zM449.8 80.00h2.43v2.37h-2.43zM439.2 82.07h2.43v2.37h-2.43zM443.4 82.07h2.43v2.37h-2.43zM445.6 82.07h2.43v2.37h-2.43zM456.2 82.07h2.43v2.37h-2.43zM441.3 84.13h2.43v2.07h-2.43zM452.0 86.70h2.43v2.55h-2.43zM449.8 95.00h2.43v2.90h-2.43zM454.1 95.00h2.43v2.90h-2.43zM449.8 97.60h2.43v2.60h-2.43zM458.4 97.60h2.13v2.60h-2.13zM439.2 103.00h2.43v2.73h-2.43zM443.4 103.00h2.43v2.73h-2.43zM458.4 103.00h2.13v2.73h-2.13zM452.0 105.43h2.43v2.73h-2.43zM434.9 107.87h2.43v2.43h-2.43zM437.0 107.87h2.43v2.43h-2.43zM445.6 107.87h2.43v2.43h-2.43zM456.2 107.87h2.43v2.43h-2.43zM458.4 107.87h2.13v2.43h-2.13zM441.3 111.40h2.43v1.95h-2.43zM443.4 111.40h2.43v1.95h-2.43zM445.6 111.40h2.43v1.95h-2.43zM447.7 111.40h2.43v1.95h-2.43zM454.1 111.40h2.43v1.95h-2.43zM439.2 113.05h2.43v1.65h-2.43zM443.4 113.05h2.43v1.65h-2.43zM445.6 113.05h2.43v1.65h-2.43zM454.1 113.05h2.43v1.65h-2.43zM456.2 113.05h2.43v1.65h-2.43zM456.2 115.80h2.43v2.55h-2.43zM447.7 118.05h2.43v2.25h-2.43zM452.0 118.05h2.43v2.25h-2.43zM434.9 122.50h2.43v2.20h-2.43zM439.2 122.50h2.43v2.20h-2.43zM443.4 122.50h2.43v2.20h-2.43zM447.7 122.50h2.43v2.20h-2.43zM434.9 124.40h2.43v2.20h-2.43zM437.0 124.40h2.43v2.20h-2.43zM441.3 124.40h2.43v2.20h-2.43zM443.4 124.40h2.43v2.20h-2.43zM441.3 126.30h2.43v1.90h-2.43zM449.8 126.30h2.43v1.90h-2.43zM456.2 126.30h2.43v1.90h-2.43zM458.4 126.30h2.13v1.90h-2.13zM439.2 128.80h2.43v2.17h-2.43zM445.6 128.80h2.43v2.17h-2.43zM447.7 128.80h2.43v2.17h-2.43zM458.4 130.67h2.13v2.17h-2.13zM437.0 132.53h2.43v1.87h-2.43zM441.3 132.53h2.43v1.87h-2.43zM454.1 132.53h2.43v1.87h-2.43zM441.3 141.90h2.43v2.50h-2.43zM434.9 145.00h2.43v2.50h-2.43zM439.2 145.00h2.43v2.50h-2.43zM447.7 145.00h2.43v2.50h-2.43zM456.2 147.20h2.43v2.20h-2.43zM443.4 151.68h2.43v2.58h-2.43zM437.0 153.96h2.43v2.58h-2.43zM458.4 153.96h2.13v2.58h-2.13zM441.3 164.10h2.43v2.25h-2.43zM456.2 164.10h2.43v2.25h-2.43zM458.4 164.10h2.13v2.25h-2.13zM437.0 166.05h2.43v1.95h-2.43zM443.4 166.05h2.43v1.95h-2.43zM445.6 166.05h2.43v1.95h-2.43zM452.0 166.05h2.43v1.95h-2.43zM454.1 166.05h2.43v1.95h-2.43zM434.9 182.00h2.43v2.50h-2.43zM439.2 182.00h2.43v2.50h-2.43zM445.6 182.00h2.43v2.50h-2.43zM447.7 182.00h2.43v2.50h-2.43zM449.8 182.00h2.43v2.50h-2.43zM454.1 182.00h2.43v2.50h-2.43zM458.4 182.00h2.13v2.50h-2.13zM439.2 184.20h2.43v2.20h-2.43zM449.8 184.20h2.43v2.20h-2.43zM458.4 184.20h2.13v2.20h-2.13z"/><path fill="#e5e5e5" d="M439.2 77.00h2.43v2.50h-2.43zM445.6 77.00h2.43v2.50h-2.43zM449.8 77.00h2.43v2.50h-2.43z"/><path fill="#dfdfdf" d="M454.1 77.00h2.43v2.50h-2.43zM439.2 94.00h2.43v1.00h-2.43zM441.3 94.00h2.43v1.00h-2.43zM449.8 94.00h2.43v1.00h-2.43zM445.6 100.20h2.43v2.30h-2.43zM439.2 110.80h2.43v0.40h-2.43zM445.6 110.80h2.43v0.40h-2.43zM441.3 120.30h2.43v1.70h-2.43zM456.2 120.30h2.43v1.70h-2.43zM434.9 178.00h2.43v2.05h-2.43zM439.2 178.00h2.43v2.05h-2.43z"/><path fill="#666666" d="M434.9 80.00h2.43v2.37h-2.43zM441.3 80.00h2.43v2.37h-2.43zM445.6 80.00h2.43v2.37h-2.43zM434.9 82.07h2.43v2.37h-2.43zM441.3 82.07h2.43v2.37h-2.43zM437.0 84.13h2.43v2.07h-2.43zM452.0 84.13h2.43v2.07h-2.43zM437.0 145.00h2.43v2.50h-2.43zM452.0 145.00h2.43v2.50h-2.43zM456.2 145.00h2.43v2.50h-2.43zM439.2 147.20h2.43v2.20h-2.43zM452.0 147.20h2.43v2.20h-2.43zM454.1 147.20h2.43v2.20h-2.43z"/><path fill="#5f5f5f" d="M437.0 80.00h2.43v2.37h-2.43zM434.9 84.13h2.43v2.07h-2.43zM441.3 147.20h2.43v2.20h-2.43zM447.7 147.20h2.43v2.20h-2.43z"/><path fill="#929292" d="M441.3 86.70h2.43v2.55h-2.43zM439.2 88.95h2.43v2.25h-2.43zM441.3 88.95h2.43v2.25h-2.43zM445.6 88.95h2.43v2.25h-2.43zM447.7 88.95h2.43v2.25h-2.43zM452.0 88.95h2.43v2.25h-2.43zM445.6 91.20h2.43v2.60h-2.43zM456.2 91.20h2.43v2.60h-2.43zM437.0 139.40h2.43v2.80h-2.43zM441.3 139.40h2.43v2.80h-2.43zM449.8 139.40h2.43v2.80h-2.43zM454.1 139.40h2.43v2.80h-2.43zM456.2 139.40h2.43v2.80h-2.43zM434.9 141.90h2.43v2.50h-2.43zM437.0 141.90h2.43v2.50h-2.43zM456.2 141.90h2.43v2.50h-2.43zM434.9 149.40h2.43v2.58h-2.43zM456.2 151.68h2.43v2.58h-2.43zM445.6 153.96h2.43v2.58h-2.43zM437.0 156.24h2.43v2.58h-2.43zM452.0 156.24h2.43v2.58h-2.43zM439.2 158.52h2.43v2.28h-2.43zM443.4 158.52h2.43v2.28h-2.43zM445.6 158.52h2.43v2.28h-2.43zM456.2 158.52h2.43v2.28h-2.43zM439.2 168.00h2.43v2.30h-2.43zM449.8 168.00h2.43v2.30h-2.43zM456.2 168.00h2.43v2.30h-2.43zM458.4 168.00h2.13v2.30h-2.13zM452.0 170.00h2.43v2.00h-2.43zM456.2 170.00h2.43v2.00h-2.43zM439.2 173.00h2.43v2.55h-2.43zM456.2 173.00h2.43v2.55h-2.43zM443.4 175.25h2.43v2.25h-2.43zM449.8 175.25h2.43v2.25h-2.43z"/><path fill="#8c8c8c" d="M445.6 86.70h2.43v2.55h-2.43zM454.1 86.70h2.43v2.55h-2.43zM456.2 86.70h2.43v2.55h-2.43zM434.9 88.95h2.43v2.25h-2.43zM437.0 88.95h2.43v2.25h-2.43zM449.8 88.95h2.43v2.25h-2.43zM437.0 91.20h2.43v2.60h-2.43zM452.0 91.20h2.43v2.60h-2.43zM454.1 91.20h2.43v2.60h-2.43zM458.4 91.20h2.13v2.60h-2.13zM439.2 95.00h2.43v2.90h-2.43zM437.0 97.60h2.43v2.60h-2.43zM454.1 97.60h2.43v2.60h-2.43zM456.2 97.60h2.43v2.60h-2.43zM452.0 122.50h2.43v2.20h-2.43zM445.6 124.40h2.43v2.20h-2.43zM452.0 124.40h2.43v2.20h-2.43zM454.1 126.30h2.43v1.90h-2.43zM439.2 139.40h2.43v2.80h-2.43zM443.4 139.40h2.43v2.80h-2.43zM447.7 139.40h2.43v2.80h-2.43zM439.2 141.90h2.43v2.50h-2.43zM445.6 141.90h2.43v2.50h-2.43zM447.7 141.90h2.43v2.50h-2.43zM449.8 141.90h2.43v2.50h-2.43zM452.0 141.90h2.43v2.50h-2.43zM445.6 149.40h2.43v2.58h-2.43zM447.7 149.40h2.43v2.58h-2.43zM449.8 149.40h2.43v2.58h-2.43zM452.0 149.40h2.43v2.58h-2.43zM445.6 151.68h2.43v2.58h-2.43zM447.7 151.68h2.43v2.58h-2.43zM449.8 151.68h2.43v2.58h-2.43zM452.0 151.68h2.43v2.58h-2.43zM454.1 151.68h2.43v2.58h-2.43zM439.2 153.96h2.43v2.58h-2.43zM441.3 153.96h2.43v2.58h-2.43zM443.4 153.96h2.43v2.58h-2.43zM452.0 153.96h2.43v2.58h-2.43zM454.1 153.96h2.43v2.58h-2.43zM445.6 156.24h2.43v2.58h-2.43zM447.7 156.24h2.43v2.58h-2.43zM449.8 156.24h2.43v2.58h-2.43zM454.1 156.24h2.43v2.58h-2.43zM434.9 158.52h2.43v2.28h-2.43zM437.0 158.52h2.43v2.28h-2.43zM452.0 158.52h2.43v2.28h-2.43zM441.3 168.00h2.43v2.30h-2.43zM447.7 168.00h2.43v2.30h-2.43zM452.0 168.00h2.43v2.30h-2.43zM434.9 170.00h2.43v2.00h-2.43zM439.2 170.00h2.43v2.00h-2.43zM441.3 170.00h2.43v2.00h-2.43zM447.7 170.00h2.43v2.00h-2.43zM449.8 170.00h2.43v2.00h-2.43zM454.1 170.00h2.43v2.00h-2.43zM434.9 173.00h2.43v2.55h-2.43zM441.3 173.00h2.43v2.55h-2.43zM443.4 173.00h2.43v2.55h-2.43zM447.7 173.00h2.43v2.55h-2.43zM449.8 173.00h2.43v2.55h-2.43zM437.0 175.25h2.43v2.25h-2.43zM439.2 175.25h2.43v2.25h-2.43zM458.4 175.25h2.13v2.25h-2.13z"/><path fill="#9f9f9f" d="M434.9 91.20h2.43v2.60h-2.43zM447.7 91.20h2.43v2.60h-2.43zM437.0 134.90h2.43v2.25h-2.43zM439.2 134.90h2.43v2.25h-2.43zM445.6 136.85h2.43v1.95h-2.43zM445.6 170.00h2.43v2.00h-2.43zM441.3 175.25h2.43v2.25h-2.43zM452.0 175.25h2.43v2.25h-2.43z"/><path fill="#999999" d="M441.3 91.20h2.43v2.60h-2.43zM443.4 91.20h2.43v2.60h-2.43zM437.0 168.00h2.43v2.30h-2.43zM443.4 168.00h2.43v2.30h-2.43zM445.6 168.00h2.43v2.30h-2.43zM454.1 168.00h2.43v2.30h-2.43zM443.4 170.00h2.43v2.00h-2.43zM458.4 170.00h2.13v2.00h-2.13zM437.0 173.00h2.43v2.55h-2.43zM445.6 173.00h2.43v2.55h-2.43zM452.0 173.00h2.43v2.55h-2.43zM454.1 173.00h2.43v2.55h-2.43zM458.4 173.00h2.13v2.55h-2.13zM445.6 175.25h2.43v2.25h-2.43zM454.1 175.25h2.43v2.25h-2.43zM456.2 175.25h2.43v2.25h-2.43z"/><path fill="#a5a5a5" d="M434.9 134.90h2.43v2.25h-2.43zM447.7 134.90h2.43v2.25h-2.43zM449.8 134.90h2.43v2.25h-2.43zM439.2 136.85h2.43v1.95h-2.43zM443.4 136.85h2.43v1.95h-2.43zM454.1 136.85h2.43v1.95h-2.43z"/><path fill="#acacac" d="M441.3 134.90h2.43v2.25h-2.43zM454.1 134.90h2.43v2.25h-2.43zM456.2 134.90h2.43v2.25h-2.43zM437.0 136.85h2.43v1.95h-2.43zM447.7 136.85h2.43v1.95h-2.43zM449.8 136.85h2.43v1.95h-2.43zM458.4 136.85h2.13v1.95h-2.13z"/><path fill="#b2b2b2" d="M443.4 134.90h2.43v2.25h-2.43zM445.6 134.90h2.43v2.25h-2.43zM458.4 134.90h2.13v2.25h-2.13zM434.9 136.85h2.43v1.95h-2.43zM452.0 136.85h2.43v1.95h-2.43zM456.2 136.85h2.43v1.95h-2.43z"/><path fill="#b8b8b8" d="M452.0 134.90h2.43v2.25h-2.43zM441.3 136.85h2.43v1.95h-2.43z"/><path fill="#b89098" d="M434.9 186.40h2.43v2.80h-2.43zM443.4 186.40h2.43v2.80h-2.43zM449.8 186.40h2.43v2.80h-2.43zM456.2 186.40h2.43v2.80h-2.43zM458.4 186.40h2.13v2.80h-2.13z"/><path fill="#909090" d="M437.0 186.40h2.43v2.80h-2.43zM445.6 186.40h2.43v2.80h-2.43z"/><path fill="#d8d0d2" d="M439.2 186.40h2.43v2.80h-2.43zM452.0 186.40h2.43v2.80h-2.43z"/><path fill="#a0a0a0" d="M441.3 186.40h2.43v2.80h-2.43zM447.7 186.40h2.43v2.80h-2.43zM454.1 186.40h2.43v2.80h-2.43z"/><path fill="#111111" d="M434.9 189.20h2.43v2.20h-2.43zM441.3 189.20h2.43v2.20h-2.43zM443.4 189.20h2.43v2.20h-2.43zM445.6 189.20h2.43v2.20h-2.43zM447.7 189.20h2.43v2.20h-2.43zM449.8 189.20h2.43v2.20h-2.43zM452.0 189.20h2.43v2.20h-2.43zM456.2 189.20h2.43v2.20h-2.43z"/><path fill="#2a0a12" d="M437.0 189.20h2.43v2.20h-2.43zM454.1 189.20h2.43v2.20h-2.43z"/><path fill="#6a1228" d="M439.2 189.20h2.43v2.20h-2.43zM458.4 189.20h2.13v2.20h-2.13z"/><path fill="#fff" fill-opacity="0.5" d="M434.9 73.55h25.60v0.4h-25.60zM434.9 75.70h25.60v0.4h-25.60zM434.9 77.84h25.60v0.4h-25.60zM434.9 79.99h25.60v0.4h-25.60zM434.9 82.14h25.60v0.4h-25.60zM434.9 84.29h25.60v0.4h-25.60zM434.9 86.44h25.60v0.4h-25.60zM434.9 88.59h25.60v0.4h-25.60zM434.9 90.73h25.60v0.4h-25.60zM434.9 92.88h25.60v0.4h-25.60zM434.9 95.03h25.60v0.4h-25.60zM434.9 97.18h25.60v0.4h-25.60zM434.9 99.33h25.60v0.4h-25.60zM434.9 101.47h25.60v0.4h-25.60zM434.9 103.62h25.60v0.4h-25.60zM434.9 105.77h25.60v0.4h-25.60zM434.9 107.92h25.60v0.4h-25.60zM434.9 110.07h25.60v0.4h-25.60zM434.9 112.22h25.60v0.4h-25.60zM434.9 114.36h25.60v0.4h-25.60zM434.9 116.51h25.60v0.4h-25.60zM434.9 118.66h25.60v0.4h-25.60zM434.9 120.81h25.60v0.4h-25.60zM434.9 122.96h25.60v0.4h-25.60zM434.9 125.11h25.60v0.4h-25.60zM434.9 127.25h25.60v0.4h-25.60zM434.9 129.40h25.60v0.4h-25.60zM434.9 131.55h25.60v0.4h-25.60zM434.9 133.70h25.60v0.4h-25.60zM434.9 135.85h25.60v0.4h-25.60zM434.9 137.99h25.60v0.4h-25.60zM434.9 140.14h25.60v0.4h-25.60zM434.9 142.29h25.60v0.4h-25.60zM434.9 144.44h25.60v0.4h-25.60zM434.9 146.59h25.60v0.4h-25.60zM434.9 148.74h25.60v0.4h-25.60zM434.9 150.88h25.60v0.4h-25.60zM434.9 153.03h25.60v0.4h-25.60zM434.9 155.18h25.60v0.4h-25.60zM434.9 157.33h25.60v0.4h-25.60zM434.9 159.48h25.60v0.4h-25.60zM434.9 161.62h25.60v0.4h-25.60zM434.9 163.77h25.60v0.4h-25.60zM434.9 165.92h25.60v0.4h-25.60zM434.9 168.07h25.60v0.4h-25.60zM434.9 170.22h25.60v0.4h-25.60zM434.9 172.37h25.60v0.4h-25.60zM434.9 174.51h25.60v0.4h-25.60zM434.9 176.66h25.60v0.4h-25.60zM434.9 178.81h25.60v0.4h-25.60zM434.9 180.96h25.60v0.4h-25.60zM434.9 183.11h25.60v0.4h-25.60zM434.9 185.26h25.60v0.4h-25.60zM434.9 187.40h25.60v0.4h-25.60zM434.9 189.55h25.60v0.4h-25.60z"/><path fill="#fff" fill-opacity="0.3" d="M434.9 72.00h25.60v0.4h-25.60zM434.9 73.10h25.60v0.4h-25.60zM434.9 73.70h25.60v0.4h-25.60zM434.9 76.50h25.60v0.4h-25.60zM434.9 76.80h25.60v0.4h-25.60zM434.9 79.30h25.60v0.4h-25.60zM434.9 81.87h25.60v0.4h-25.60zM434.9 83.93h25.60v0.4h-25.60zM434.9 79.80h25.60v0.4h-25.60zM434.9 86.00h25.60v0.4h-25.60zM434.9 88.75h25.60v0.4h-25.60zM434.9 86.50h25.60v0.4h-25.60zM434.9 91.00h25.60v0.4h-25.60zM434.9 91.00h25.60v0.4h-25.60zM434.9 93.60h25.60v0.4h-25.60zM434.9 93.80h25.60v0.4h-25.60zM434.9 94.80h25.60v0.4h-25.60zM434.9 97.40h25.60v0.4h-25.60zM434.9 94.80h25.60v0.4h-25.60zM434.9 100.00h25.60v0.4h-25.60zM434.9 100.00h25.60v0.4h-25.60zM434.9 102.30h25.60v0.4h-25.60zM434.9 105.23h25.60v0.4h-25.60zM434.9 107.67h25.60v0.4h-25.60zM434.9 102.80h25.60v0.4h-25.60zM434.9 110.10h25.60v0.4h-25.60zM434.9 110.60h25.60v0.4h-25.60zM434.9 111.00h25.60v0.4h-25.60zM434.9 112.85h25.60v0.4h-25.60zM434.9 111.20h25.60v0.4h-25.60zM434.9 114.50h25.60v0.4h-25.60zM434.9 117.85h25.60v0.4h-25.60zM434.9 115.60h25.60v0.4h-25.60zM434.9 120.10h25.60v0.4h-25.60zM434.9 120.10h25.60v0.4h-25.60zM434.9 121.80h25.60v0.4h-25.60zM434.9 124.20h25.60v0.4h-25.60zM434.9 126.10h25.60v0.4h-25.60zM434.9 122.30h25.60v0.4h-25.60zM434.9 128.00h25.60v0.4h-25.60zM434.9 130.47h25.60v0.4h-25.60zM434.9 132.33h25.60v0.4h-25.60zM434.9 128.60h25.60v0.4h-25.60zM434.9 134.20h25.60v0.4h-25.60zM434.9 136.65h25.60v0.4h-25.60zM434.9 134.70h25.60v0.4h-25.60zM434.9 138.60h25.60v0.4h-25.60zM434.9 141.70h25.60v0.4h-25.60zM434.9 139.20h25.60v0.4h-25.60zM434.9 144.20h25.60v0.4h-25.60zM434.9 147.00h25.60v0.4h-25.60zM434.9 144.80h25.60v0.4h-25.60zM434.9 149.20h25.60v0.4h-25.60zM434.9 151.48h25.60v0.4h-25.60zM434.9 153.76h25.60v0.4h-25.60zM434.9 156.04h25.60v0.4h-25.60zM434.9 158.32h25.60v0.4h-25.60zM434.9 149.20h25.60v0.4h-25.60zM434.9 160.60h25.60v0.4h-25.60zM434.9 161.10h25.60v0.4h-25.60zM434.9 163.40h25.60v0.4h-25.60zM434.9 165.85h25.60v0.4h-25.60zM434.9 163.90h25.60v0.4h-25.60zM434.9 167.80h25.60v0.4h-25.60zM434.9 169.80h25.60v0.4h-25.60zM434.9 167.80h25.60v0.4h-25.60zM434.9 171.80h25.60v0.4h-25.60zM434.9 175.05h25.60v0.4h-25.60zM434.9 172.80h25.60v0.4h-25.60zM434.9 177.30h25.60v0.4h-25.60zM434.9 179.55h25.60v0.4h-25.60zM434.9 177.80h25.60v0.4h-25.60zM434.9 181.30h25.60v0.4h-25.60zM434.9 184.00h25.60v0.4h-25.60zM434.9 181.80h25.60v0.4h-25.60zM434.9 186.20h25.60v0.4h-25.60zM434.9 186.20h25.60v0.4h-25.60zM434.9 189.00h25.60v0.4h-25.60zM434.9 189.00h25.60v0.4h-25.60zM434.9 191.20h25.60v0.4h-25.60z"/><path fill="#fff" fill-opacity="0.2" d="M436.83 71.6h0.4v120.30h-0.4zM438.97 71.6h0.4v120.30h-0.4zM441.10 71.6h0.4v120.30h-0.4zM443.23 71.6h0.4v120.30h-0.4zM445.37 71.6h0.4v120.30h-0.4zM447.50 71.6h0.4v120.30h-0.4zM449.63 71.6h0.4v120.30h-0.4zM451.77 71.6h0.4v120.30h-0.4zM453.90 71.6h0.4v120.30h-0.4zM456.03 71.6h0.4v120.30h-0.4zM458.17 71.6h0.4v120.30h-0.4z"/><rect x="451.62" y="71.6" width="0.7" height="120.30" fill="#fff" fill-opacity="0.5"/><rect x="455.88" y="71.6" width="0.7" height="120.30" fill="#fff" fill-opacity="0.5"/><rect x="458.02" y="71.6" width="0.7" height="120.30" fill="#fff" fill-opacity="0.5"/></g>
<g><path fill="#d8d8d8" d="M463.6 71.60h26.10v120.30h-26.10zM468.0 73.90h2.48v2.80h-2.48zM470.1 73.90h2.48v2.80h-2.48zM474.5 73.90h2.48v2.80h-2.48zM476.7 73.90h2.48v2.80h-2.48zM478.8 73.90h2.48v2.80h-2.48zM487.5 73.90h2.18v2.80h-2.18zM465.8 80.00h2.48v2.37h-2.48zM474.5 80.00h2.48v2.37h-2.48zM468.0 84.13h2.48v2.07h-2.48zM463.6 86.70h2.48v2.55h-2.48zM470.1 86.70h2.48v2.55h-2.48zM478.8 86.70h2.48v2.55h-2.48zM468.0 88.95h2.48v2.25h-2.48zM472.3 88.95h2.48v2.25h-2.48zM485.4 88.95h2.48v2.25h-2.48zM470.1 95.00h2.48v2.90h-2.48zM472.3 95.00h2.48v2.90h-2.48zM481.0 95.00h2.48v2.90h-2.48zM485.4 95.00h2.48v2.90h-2.48zM487.5 95.00h2.18v2.90h-2.18zM476.7 97.60h2.48v2.60h-2.48zM463.6 103.00h2.48v2.73h-2.48zM474.5 103.00h2.48v2.73h-2.48zM474.5 105.43h2.48v2.73h-2.48zM481.0 105.43h2.48v2.73h-2.48zM472.3 107.87h2.48v2.43h-2.48zM465.8 115.80h2.48v2.55h-2.48zM478.8 115.80h2.48v2.55h-2.48zM468.0 118.05h2.48v2.25h-2.48zM478.8 118.05h2.48v2.25h-2.48zM483.2 118.05h2.48v2.25h-2.48zM474.5 122.50h2.48v2.20h-2.48zM472.3 124.40h2.48v2.20h-2.48zM465.8 126.30h2.48v1.90h-2.48zM474.5 126.30h2.48v1.90h-2.48zM463.6 128.80h2.48v2.17h-2.48zM472.3 128.80h2.48v2.17h-2.48zM476.7 128.80h2.48v2.17h-2.48zM463.6 130.67h2.48v2.17h-2.48zM465.8 130.67h2.48v2.17h-2.48zM468.0 130.67h2.48v2.17h-2.48zM472.3 130.67h2.48v2.17h-2.48zM478.8 130.67h2.48v2.17h-2.48zM481.0 130.67h2.48v2.17h-2.48zM487.5 130.67h2.18v2.17h-2.18zM465.8 132.53h2.48v1.87h-2.48zM481.0 132.53h2.48v1.87h-2.48zM485.4 132.53h2.48v1.87h-2.48zM487.5 132.53h2.18v1.87h-2.18zM468.0 134.90h2.48v2.25h-2.48zM474.5 134.90h2.48v2.25h-2.48zM483.2 134.90h2.48v2.25h-2.48zM487.5 134.90h2.18v2.25h-2.18zM470.1 136.85h2.48v1.95h-2.48zM483.2 139.40h2.48v2.80h-2.48zM465.8 141.90h2.48v2.50h-2.48zM470.1 141.90h2.48v2.50h-2.48zM474.5 141.90h2.48v2.50h-2.48zM481.0 141.90h2.48v2.50h-2.48zM463.6 145.00h2.48v2.50h-2.48zM465.8 145.00h2.48v2.50h-2.48zM483.2 145.00h2.48v2.50h-2.48zM476.7 147.20h2.48v2.20h-2.48zM478.8 147.20h2.48v2.20h-2.48zM483.2 147.20h2.48v2.20h-2.48zM476.7 149.40h2.48v2.58h-2.48zM481.0 149.40h2.48v2.58h-2.48zM483.2 149.40h2.48v2.58h-2.48zM485.4 149.40h2.48v2.58h-2.48zM470.1 151.68h2.48v2.58h-2.48zM463.6 153.96h2.48v2.58h-2.48zM468.0 153.96h2.48v2.58h-2.48zM481.0 153.96h2.48v2.58h-2.48zM483.2 153.96h2.48v2.58h-2.48zM485.4 153.96h2.48v2.58h-2.48zM487.5 153.96h2.18v2.58h-2.18zM470.1 156.24h2.48v2.58h-2.48zM474.5 156.24h2.48v2.58h-2.48zM476.7 156.24h2.48v2.58h-2.48zM465.8 158.52h2.48v2.28h-2.48zM468.0 158.52h2.48v2.28h-2.48zM472.3 158.52h2.48v2.28h-2.48zM481.0 158.52h2.48v2.28h-2.48zM463.6 164.10h2.48v2.25h-2.48zM465.8 164.10h2.48v2.25h-2.48zM474.5 164.10h2.48v2.25h-2.48zM476.7 164.10h2.48v2.25h-2.48zM483.2 164.10h2.48v2.25h-2.48zM468.0 166.05h2.48v1.95h-2.48zM472.3 166.05h2.48v1.95h-2.48zM465.8 168.00h2.48v2.30h-2.48zM476.7 168.00h2.48v2.30h-2.48zM470.1 170.00h2.48v2.00h-2.48zM474.5 170.00h2.48v2.00h-2.48zM470.1 173.00h2.48v2.55h-2.48zM472.3 173.00h2.48v2.55h-2.48zM476.7 173.00h2.48v2.55h-2.48zM483.2 173.00h2.48v2.55h-2.48zM468.0 175.25h2.48v2.25h-2.48zM472.3 175.25h2.48v2.25h-2.48zM474.5 175.25h2.48v2.25h-2.48zM485.4 175.25h2.48v2.25h-2.48zM487.5 175.25h2.18v2.25h-2.18zM481.0 182.00h2.48v2.50h-2.48zM487.5 182.00h2.18v2.50h-2.18z"/><path fill="#cccccc" d="M463.6 73.90h2.48v2.80h-2.48zM483.2 73.90h2.48v2.80h-2.48zM472.3 80.00h2.48v2.37h-2.48zM481.0 82.07h2.48v2.37h-2.48zM483.2 82.07h2.48v2.37h-2.48zM485.4 86.70h2.48v2.55h-2.48zM463.6 88.95h2.48v2.25h-2.48zM465.8 88.95h2.48v2.25h-2.48zM470.1 88.95h2.48v2.25h-2.48zM487.5 88.95h2.18v2.25h-2.18zM468.0 95.00h2.48v2.90h-2.48zM468.0 103.00h2.48v2.73h-2.48zM487.5 103.00h2.18v2.73h-2.18zM465.8 107.87h2.48v2.43h-2.48zM470.1 107.87h2.48v2.43h-2.48zM476.7 107.87h2.48v2.43h-2.48zM485.4 107.87h2.48v2.43h-2.48zM470.1 118.05h2.48v2.25h-2.48zM472.3 118.05h2.48v2.25h-2.48zM476.7 118.05h2.48v2.25h-2.48zM485.4 118.05h2.48v2.25h-2.48zM463.6 122.50h2.48v2.20h-2.48zM465.8 122.50h2.48v2.20h-2.48zM476.7 122.50h2.48v2.20h-2.48zM483.2 122.50h2.48v2.20h-2.48zM487.5 122.50h2.18v2.20h-2.18zM470.1 124.40h2.48v2.20h-2.48zM483.2 124.40h2.48v2.20h-2.48zM472.3 126.30h2.48v1.90h-2.48zM465.8 128.80h2.48v2.17h-2.48zM485.4 128.80h2.48v2.17h-2.48zM483.2 132.53h2.48v1.87h-2.48zM476.7 134.90h2.48v2.25h-2.48zM485.4 134.90h2.48v2.25h-2.48zM463.6 136.85h2.48v1.95h-2.48zM465.8 136.85h2.48v1.95h-2.48zM476.7 136.85h2.48v1.95h-2.48zM483.2 136.85h2.48v1.95h-2.48zM485.4 136.85h2.48v1.95h-2.48zM487.5 136.85h2.18v1.95h-2.18zM468.0 139.40h2.48v2.80h-2.48zM481.0 139.40h2.48v2.80h-2.48zM485.4 139.40h2.48v2.80h-2.48zM472.3 141.90h2.48v2.50h-2.48zM487.5 141.90h2.18v2.50h-2.18zM472.3 145.00h2.48v2.50h-2.48zM485.4 145.00h2.48v2.50h-2.48zM465.8 147.20h2.48v2.20h-2.48zM470.1 147.20h2.48v2.20h-2.48zM463.6 151.68h2.48v2.58h-2.48zM468.0 151.68h2.48v2.58h-2.48zM476.7 151.68h2.48v2.58h-2.48zM465.8 153.96h2.48v2.58h-2.48zM470.1 153.96h2.48v2.58h-2.48zM478.8 153.96h2.48v2.58h-2.48zM463.6 156.24h2.48v2.58h-2.48zM468.0 156.24h2.48v2.58h-2.48zM483.2 156.24h2.48v2.58h-2.48zM485.4 156.24h2.48v2.58h-2.48zM487.5 156.24h2.18v2.58h-2.18zM474.5 158.52h2.48v2.28h-2.48zM476.7 158.52h2.48v2.28h-2.48zM478.8 158.52h2.48v2.28h-2.48zM483.2 158.52h2.48v2.28h-2.48zM468.0 164.10h2.48v2.25h-2.48zM481.0 164.10h2.48v2.25h-2.48zM463.6 166.05h2.48v1.95h-2.48zM474.5 166.05h2.48v1.95h-2.48zM476.7 166.05h2.48v1.95h-2.48zM485.4 166.05h2.48v1.95h-2.48zM474.5 168.00h2.48v2.30h-2.48zM483.2 168.00h2.48v2.30h-2.48zM487.5 168.00h2.18v2.30h-2.18zM465.8 170.00h2.48v2.00h-2.48zM468.0 170.00h2.48v2.00h-2.48zM481.0 173.00h2.48v2.55h-2.48zM463.6 175.25h2.48v2.25h-2.48zM465.8 175.25h2.48v2.25h-2.48zM470.1 175.25h2.48v2.25h-2.48zM483.2 175.25h2.48v2.25h-2.48zM463.6 182.00h2.48v2.50h-2.48z"/><path fill="#8c8c8c" d="M465.8 73.90h2.48v2.80h-2.48zM468.0 80.00h2.48v2.37h-2.48zM465.8 82.07h2.48v2.37h-2.48zM483.2 97.60h2.48v2.60h-2.48zM481.0 107.87h2.48v2.43h-2.48zM468.0 111.40h2.48v1.95h-2.48zM470.1 111.40h2.48v1.95h-2.48zM465.8 113.05h2.48v1.65h-2.48zM472.3 113.05h2.48v1.65h-2.48zM476.7 113.05h2.48v1.65h-2.48zM470.1 115.80h2.48v2.55h-2.48zM487.5 184.20h2.18v2.20h-2.18z"/><path fill="#dfdfdf" d="M472.3 73.90h2.48v2.80h-2.48zM470.1 80.00h2.48v2.37h-2.48zM487.5 86.70h2.18v2.55h-2.18zM476.7 95.00h2.48v2.90h-2.48zM483.2 95.00h2.48v2.90h-2.48zM463.6 115.80h2.48v2.55h-2.48zM465.8 124.40h2.48v2.20h-2.48zM470.1 130.67h2.48v2.17h-2.48zM476.7 132.53h2.48v1.87h-2.48zM465.8 134.90h2.48v2.25h-2.48zM470.1 134.90h2.48v2.25h-2.48zM472.3 134.90h2.48v2.25h-2.48zM465.8 139.40h2.48v2.80h-2.48zM485.4 141.90h2.48v2.50h-2.48zM468.0 145.00h2.48v2.50h-2.48zM487.5 149.40h2.18v2.58h-2.18zM474.5 151.68h2.48v2.58h-2.48zM478.8 151.68h2.48v2.58h-2.48zM472.3 168.00h2.48v2.30h-2.48zM476.7 170.00h2.48v2.00h-2.48zM481.0 170.00h2.48v2.00h-2.48zM478.8 173.00h2.48v2.55h-2.48zM470.1 182.00h2.48v2.50h-2.48z"/><path fill="#7f7f7f" d="M481.0 73.90h2.48v2.80h-2.48zM478.8 80.00h2.48v2.37h-2.48zM485.4 82.07h2.48v2.37h-2.48zM487.5 82.07h2.18v2.37h-2.18zM483.2 84.13h2.48v2.07h-2.48zM476.7 105.43h2.48v2.73h-2.48zM472.3 111.40h2.48v1.95h-2.48zM474.5 111.40h2.48v1.95h-2.48zM481.0 111.40h2.48v1.95h-2.48zM474.5 113.05h2.48v1.65h-2.48zM487.5 113.05h2.18v1.65h-2.18zM483.2 115.80h2.48v2.55h-2.48zM481.0 118.05h2.48v2.25h-2.48zM463.6 147.20h2.48v2.20h-2.48zM485.4 147.20h2.48v2.20h-2.48zM474.5 184.20h2.48v2.20h-2.48zM481.0 184.20h2.48v2.20h-2.48z"/><path fill="#d2d2d2" d="M485.4 73.90h2.48v2.80h-2.48zM463.6 80.00h2.48v2.37h-2.48zM483.2 80.00h2.48v2.37h-2.48zM463.6 82.07h2.48v2.37h-2.48zM470.1 82.07h2.48v2.37h-2.48zM465.8 84.13h2.48v2.07h-2.48zM472.3 86.70h2.48v2.55h-2.48zM476.7 88.95h2.48v2.25h-2.48zM478.8 88.95h2.48v2.25h-2.48zM483.2 88.95h2.48v2.25h-2.48zM465.8 95.00h2.48v2.90h-2.48zM478.8 95.00h2.48v2.90h-2.48zM463.6 97.60h2.48v2.60h-2.48zM468.0 97.60h2.48v2.60h-2.48zM472.3 97.60h2.48v2.60h-2.48zM481.0 97.60h2.48v2.60h-2.48zM470.1 103.00h2.48v2.73h-2.48zM472.3 103.00h2.48v2.73h-2.48zM478.8 103.00h2.48v2.73h-2.48zM463.6 105.43h2.48v2.73h-2.48zM468.0 105.43h2.48v2.73h-2.48zM470.1 105.43h2.48v2.73h-2.48zM485.4 105.43h2.48v2.73h-2.48zM487.5 105.43h2.18v2.73h-2.18zM468.0 107.87h2.48v2.43h-2.48zM468.0 115.80h2.48v2.55h-2.48zM472.3 115.80h2.48v2.55h-2.48zM476.7 115.80h2.48v2.55h-2.48zM485.4 115.80h2.48v2.55h-2.48zM465.8 118.05h2.48v2.25h-2.48zM472.3 122.50h2.48v2.20h-2.48zM481.0 122.50h2.48v2.20h-2.48zM476.7 124.40h2.48v2.20h-2.48zM478.8 124.40h2.48v2.20h-2.48zM468.0 126.30h2.48v1.90h-2.48zM478.8 126.30h2.48v1.90h-2.48zM485.4 126.30h2.48v1.90h-2.48zM470.1 128.80h2.48v2.17h-2.48zM474.5 128.80h2.48v2.17h-2.48zM478.8 128.80h2.48v2.17h-2.48zM483.2 128.80h2.48v2.17h-2.48zM487.5 128.80h2.18v2.17h-2.18zM474.5 130.67h2.48v2.17h-2.48zM476.7 130.67h2.48v2.17h-2.48zM483.2 130.67h2.48v2.17h-2.48zM468.0 132.53h2.48v1.87h-2.48zM472.3 132.53h2.48v1.87h-2.48zM478.8 132.53h2.48v1.87h-2.48zM463.6 134.90h2.48v2.25h-2.48zM478.8 134.90h2.48v2.25h-2.48zM481.0 134.90h2.48v2.25h-2.48zM468.0 136.85h2.48v1.95h-2.48zM472.3 136.85h2.48v1.95h-2.48zM474.5 136.85h2.48v1.95h-2.48zM478.8 136.85h2.48v1.95h-2.48zM481.0 136.85h2.48v1.95h-2.48zM470.1 139.40h2.48v2.80h-2.48zM472.3 139.40h2.48v2.80h-2.48zM476.7 139.40h2.48v2.80h-2.48zM463.6 141.90h2.48v2.50h-2.48zM468.0 141.90h2.48v2.50h-2.48zM476.7 141.90h2.48v2.50h-2.48zM483.2 141.90h2.48v2.50h-2.48zM468.0 147.20h2.48v2.20h-2.48zM465.8 149.40h2.48v2.58h-2.48zM470.1 149.40h2.48v2.58h-2.48zM472.3 149.40h2.48v2.58h-2.48zM474.5 149.40h2.48v2.58h-2.48zM478.8 149.40h2.48v2.58h-2.48zM465.8 151.68h2.48v2.58h-2.48zM472.3 151.68h2.48v2.58h-2.48zM481.0 151.68h2.48v2.58h-2.48zM483.2 151.68h2.48v2.58h-2.48zM487.5 151.68h2.18v2.58h-2.18zM465.8 156.24h2.48v2.58h-2.48zM481.0 156.24h2.48v2.58h-2.48zM463.6 158.52h2.48v2.28h-2.48zM470.1 158.52h2.48v2.28h-2.48zM485.4 158.52h2.48v2.28h-2.48zM470.1 164.10h2.48v2.25h-2.48zM472.3 164.10h2.48v2.25h-2.48zM487.5 164.10h2.18v2.25h-2.18zM465.8 166.05h2.48v1.95h-2.48zM478.8 166.05h2.48v1.95h-2.48zM487.5 166.05h2.18v1.95h-2.18zM470.1 168.00h2.48v2.30h-2.48zM481.0 168.00h2.48v2.30h-2.48zM485.4 168.00h2.48v2.30h-2.48zM463.6 170.00h2.48v2.00h-2.48zM483.2 170.00h2.48v2.00h-2.48zM485.4 170.00h2.48v2.00h-2.48zM465.8 173.00h2.48v2.55h-2.48zM474.5 173.00h2.48v2.55h-2.48zM485.4 173.00h2.48v2.55h-2.48zM476.7 175.25h2.48v2.25h-2.48zM481.0 175.25h2.48v2.25h-2.48zM476.7 184.20h2.48v2.20h-2.48zM478.8 184.20h2.48v2.20h-2.48z"/><path fill="#262626" d="M476.7 80.00h2.48v2.37h-2.48zM478.8 84.13h2.48v2.07h-2.48zM481.0 103.00h2.48v2.73h-2.48zM487.5 115.80h2.18v2.55h-2.18zM468.0 124.40h2.48v2.20h-2.48zM485.4 124.40h2.48v2.20h-2.48zM478.8 139.40h2.48v2.80h-2.48zM487.5 139.40h2.18v2.80h-2.18zM472.3 156.24h2.48v2.58h-2.48zM487.5 158.52h2.18v2.28h-2.18zM463.6 173.00h2.48v2.55h-2.48z"/><path fill="#4c4c4c" d="M481.0 80.00h2.48v2.37h-2.48zM468.0 82.07h2.48v2.37h-2.48zM476.7 82.07h2.48v2.37h-2.48zM487.5 84.13h2.18v2.07h-2.18zM465.8 86.70h2.48v2.55h-2.48zM470.1 97.60h2.48v2.60h-2.48zM472.3 105.43h2.48v2.73h-2.48zM463.6 107.87h2.48v2.43h-2.48zM468.0 122.50h2.48v2.20h-2.48zM487.5 126.30h2.18v1.90h-2.18zM481.0 128.80h2.48v2.17h-2.48zM474.5 147.20h2.48v2.20h-2.48zM463.6 149.40h2.48v2.58h-2.48zM468.0 182.00h2.48v2.50h-2.48zM478.8 182.00h2.48v2.50h-2.48zM463.6 184.20h2.48v2.20h-2.48zM465.8 184.20h2.48v2.20h-2.48zM470.1 184.20h2.48v2.20h-2.48zM472.3 184.20h2.48v2.20h-2.48zM485.4 184.20h2.48v2.20h-2.48z"/><path fill="#666666" d="M485.4 80.00h2.48v2.37h-2.48zM463.6 84.13h2.48v2.07h-2.48zM474.5 84.13h2.48v2.07h-2.48zM476.7 86.70h2.48v2.55h-2.48zM476.7 103.00h2.48v2.73h-2.48zM474.5 115.80h2.48v2.55h-2.48zM470.1 122.50h2.48v2.20h-2.48zM483.2 126.30h2.48v1.90h-2.48zM485.4 130.67h2.48v2.17h-2.48zM463.6 132.53h2.48v1.87h-2.48zM463.6 139.40h2.48v2.80h-2.48zM478.8 141.90h2.48v2.50h-2.48zM474.5 145.00h2.48v2.50h-2.48zM481.0 145.00h2.48v2.50h-2.48zM487.5 147.20h2.18v2.20h-2.18zM485.4 151.68h2.48v2.58h-2.48zM476.7 153.96h2.48v2.58h-2.48zM478.8 164.10h2.48v2.25h-2.48zM478.8 168.00h2.48v2.30h-2.48zM468.0 173.00h2.48v2.55h-2.48zM487.5 173.00h2.18v2.55h-2.18zM472.3 182.00h2.48v2.50h-2.48zM476.7 182.00h2.48v2.50h-2.48z"/><path fill="#595959" d="M487.5 80.00h2.18v2.37h-2.18zM474.5 82.07h2.48v2.37h-2.48zM478.8 82.07h2.48v2.37h-2.48zM481.0 86.70h2.48v2.55h-2.48zM463.6 95.00h2.48v2.90h-2.48zM474.5 97.60h2.48v2.60h-2.48zM478.8 97.60h2.48v2.60h-2.48zM465.8 103.00h2.48v2.73h-2.48zM483.2 103.00h2.48v2.73h-2.48zM485.4 103.00h2.48v2.73h-2.48zM478.8 105.43h2.48v2.73h-2.48zM483.2 105.43h2.48v2.73h-2.48zM478.8 107.87h2.48v2.43h-2.48zM487.5 107.87h2.18v2.43h-2.18zM481.0 124.40h2.48v2.20h-2.48zM487.5 124.40h2.18v2.20h-2.18zM474.5 139.40h2.48v2.80h-2.48zM476.7 145.00h2.48v2.50h-2.48zM470.1 166.05h2.48v1.95h-2.48zM487.5 170.00h2.18v2.00h-2.18zM468.0 184.20h2.48v2.20h-2.48z"/><path fill="#333333" d="M472.3 82.07h2.48v2.37h-2.48zM481.0 84.13h2.48v2.07h-2.48zM485.4 84.13h2.48v2.07h-2.48zM474.5 95.00h2.48v2.90h-2.48zM485.4 97.60h2.48v2.60h-2.48zM474.5 107.87h2.48v2.43h-2.48zM483.2 107.87h2.48v2.43h-2.48zM463.6 124.40h2.48v2.20h-2.48zM463.6 126.30h2.48v1.90h-2.48zM476.7 126.30h2.48v1.90h-2.48zM470.1 132.53h2.48v1.87h-2.48zM474.5 132.53h2.48v1.87h-2.48zM487.5 145.00h2.18v2.50h-2.18zM485.4 164.10h2.48v2.25h-2.48zM485.4 182.00h2.48v2.50h-2.48z"/><path fill="#727272" d="M470.1 84.13h2.48v2.07h-2.48zM476.7 84.13h2.48v2.07h-2.48zM474.5 88.95h2.48v2.25h-2.48zM463.6 118.05h2.48v2.25h-2.48zM474.5 124.40h2.48v2.20h-2.48zM481.0 126.30h2.48v1.90h-2.48zM468.0 128.80h2.48v2.17h-2.48zM478.8 145.00h2.48v2.50h-2.48zM472.3 147.20h2.48v2.20h-2.48zM472.3 153.96h2.48v2.58h-2.48zM478.8 156.24h2.48v2.58h-2.48zM481.0 166.05h2.48v1.95h-2.48zM468.0 168.00h2.48v2.30h-2.48zM472.3 170.00h2.48v2.00h-2.48zM478.8 175.25h2.48v2.25h-2.48zM474.5 182.00h2.48v2.50h-2.48zM483.2 182.00h2.48v2.50h-2.48z"/><path fill="#5a1528" d="M472.3 84.13h2.48v2.07h-2.48zM483.2 86.70h2.48v2.55h-2.48zM465.8 97.60h2.48v2.60h-2.48zM487.5 97.60h2.18v2.60h-2.18zM474.5 118.05h2.48v2.25h-2.48zM470.1 145.00h2.48v2.50h-2.48zM463.6 168.00h2.48v2.30h-2.48zM478.8 170.00h2.48v2.00h-2.48z"/><path fill="#3f3f3f" d="M468.0 86.70h2.48v2.55h-2.48zM474.5 86.70h2.48v2.55h-2.48zM481.0 88.95h2.48v2.25h-2.48zM465.8 105.43h2.48v2.73h-2.48zM481.0 115.80h2.48v2.55h-2.48zM487.5 118.05h2.18v2.25h-2.18zM478.8 122.50h2.48v2.20h-2.48zM485.4 122.50h2.48v2.20h-2.48zM470.1 126.30h2.48v1.90h-2.48zM481.0 147.20h2.48v2.20h-2.48zM468.0 149.40h2.48v2.58h-2.48zM474.5 153.96h2.48v2.58h-2.48zM483.2 166.05h2.48v1.95h-2.48zM465.8 182.00h2.48v2.50h-2.48zM483.2 184.20h2.48v2.20h-2.48z"/><path fill="#b8b8b8" d="M463.6 91.20h2.48v2.60h-2.48zM470.1 91.20h2.48v2.60h-2.48zM481.0 91.20h2.48v2.60h-2.48zM485.4 91.20h2.48v2.60h-2.48z"/><path fill="#c5c5c5" d="M465.8 91.20h2.48v2.60h-2.48zM487.5 91.20h2.18v2.60h-2.18z"/><path fill="#bfbfbf" d="M468.0 91.20h2.48v2.60h-2.48zM472.3 91.20h2.48v2.60h-2.48z"/><path fill="#b2b2b2" d="M474.5 91.20h2.48v2.60h-2.48zM476.7 91.20h2.48v2.60h-2.48zM483.2 91.20h2.48v2.60h-2.48z"/><path fill="#acacac" d="M478.8 91.20h2.48v2.60h-2.48z"/><path fill="#858585" d="M463.6 111.40h2.48v1.95h-2.48zM465.8 111.40h2.48v1.95h-2.48zM487.5 111.40h2.18v1.95h-2.18zM468.0 113.05h2.48v1.65h-2.48zM470.1 113.05h2.48v1.65h-2.48zM478.8 113.05h2.48v1.65h-2.48zM483.2 113.05h2.48v1.65h-2.48zM485.4 113.05h2.48v1.65h-2.48z"/><path fill="#929292" d="M476.7 111.40h2.48v1.95h-2.48zM485.4 111.40h2.48v1.95h-2.48zM463.6 113.05h2.48v1.65h-2.48z"/><path fill="#797979" d="M478.8 111.40h2.48v1.95h-2.48zM483.2 111.40h2.48v1.95h-2.48zM481.0 113.05h2.48v1.65h-2.48z"/><path fill="#b89098" d="M463.6 186.40h2.48v2.80h-2.48zM481.0 186.40h2.48v2.80h-2.48zM487.5 186.40h2.18v2.80h-2.18z"/><path fill="#a0a0a0" d="M465.8 186.40h2.48v2.80h-2.48zM483.2 186.40h2.48v2.80h-2.48z"/><path fill="#909090" d="M468.0 186.40h2.48v2.80h-2.48zM470.1 186.40h2.48v2.80h-2.48zM478.8 186.40h2.48v2.80h-2.48z"/><path fill="#d8d0d2" d="M472.3 186.40h2.48v2.80h-2.48zM474.5 186.40h2.48v2.80h-2.48z"/><path fill="#c9a9b0" d="M476.7 186.40h2.48v2.80h-2.48zM485.4 186.40h2.48v2.80h-2.48z"/><path fill="#8a2038" d="M463.6 189.20h2.48v2.20h-2.48z"/><path fill="#111111" d="M465.8 189.20h2.48v2.20h-2.48zM468.0 189.20h2.48v2.20h-2.48zM472.3 189.20h2.48v2.20h-2.48zM476.7 189.20h2.48v2.20h-2.48zM478.8 189.20h2.48v2.20h-2.48zM485.4 189.20h2.48v2.20h-2.48zM487.5 189.20h2.18v2.20h-2.18z"/><path fill="#6a1228" d="M470.1 189.20h2.48v2.20h-2.48zM474.5 189.20h2.48v2.20h-2.48z"/><path fill="#2a0a12" d="M481.0 189.20h2.48v2.20h-2.48z"/><path fill="#3a3a3a" d="M483.2 189.20h2.48v2.20h-2.48z"/><path fill="#fff" fill-opacity="0.5" d="M463.6 73.55h26.10v0.4h-26.10zM463.6 75.70h26.10v0.4h-26.10zM463.6 77.84h26.10v0.4h-26.10zM463.6 79.99h26.10v0.4h-26.10zM463.6 82.14h26.10v0.4h-26.10zM463.6 84.29h26.10v0.4h-26.10zM463.6 86.44h26.10v0.4h-26.10zM463.6 88.59h26.10v0.4h-26.10zM463.6 90.73h26.10v0.4h-26.10zM463.6 92.88h26.10v0.4h-26.10zM463.6 95.03h26.10v0.4h-26.10zM463.6 97.18h26.10v0.4h-26.10zM463.6 99.33h26.10v0.4h-26.10zM463.6 101.47h26.10v0.4h-26.10zM463.6 103.62h26.10v0.4h-26.10zM463.6 105.77h26.10v0.4h-26.10zM463.6 107.92h26.10v0.4h-26.10zM463.6 110.07h26.10v0.4h-26.10zM463.6 112.22h26.10v0.4h-26.10zM463.6 114.36h26.10v0.4h-26.10zM463.6 116.51h26.10v0.4h-26.10zM463.6 118.66h26.10v0.4h-26.10zM463.6 120.81h26.10v0.4h-26.10zM463.6 122.96h26.10v0.4h-26.10zM463.6 125.11h26.10v0.4h-26.10zM463.6 127.25h26.10v0.4h-26.10zM463.6 129.40h26.10v0.4h-26.10zM463.6 131.55h26.10v0.4h-26.10zM463.6 133.70h26.10v0.4h-26.10zM463.6 135.85h26.10v0.4h-26.10zM463.6 137.99h26.10v0.4h-26.10zM463.6 140.14h26.10v0.4h-26.10zM463.6 142.29h26.10v0.4h-26.10zM463.6 144.44h26.10v0.4h-26.10zM463.6 146.59h26.10v0.4h-26.10zM463.6 148.74h26.10v0.4h-26.10zM463.6 150.88h26.10v0.4h-26.10zM463.6 153.03h26.10v0.4h-26.10zM463.6 155.18h26.10v0.4h-26.10zM463.6 157.33h26.10v0.4h-26.10zM463.6 159.48h26.10v0.4h-26.10zM463.6 161.62h26.10v0.4h-26.10zM463.6 163.77h26.10v0.4h-26.10zM463.6 165.92h26.10v0.4h-26.10zM463.6 168.07h26.10v0.4h-26.10zM463.6 170.22h26.10v0.4h-26.10zM463.6 172.37h26.10v0.4h-26.10zM463.6 174.51h26.10v0.4h-26.10zM463.6 176.66h26.10v0.4h-26.10zM463.6 178.81h26.10v0.4h-26.10zM463.6 180.96h26.10v0.4h-26.10zM463.6 183.11h26.10v0.4h-26.10zM463.6 185.26h26.10v0.4h-26.10zM463.6 187.40h26.10v0.4h-26.10zM463.6 189.55h26.10v0.4h-26.10z"/><path fill="#fff" fill-opacity="0.3" d="M463.6 73.70h26.10v0.4h-26.10zM463.6 76.50h26.10v0.4h-26.10zM463.6 81.87h26.10v0.4h-26.10zM463.6 83.93h26.10v0.4h-26.10zM463.6 79.80h26.10v0.4h-26.10zM463.6 86.00h26.10v0.4h-26.10zM463.6 88.75h26.10v0.4h-26.10zM463.6 86.50h26.10v0.4h-26.10zM463.6 91.00h26.10v0.4h-26.10zM463.6 91.00h26.10v0.4h-26.10zM463.6 93.60h26.10v0.4h-26.10zM463.6 97.40h26.10v0.4h-26.10zM463.6 94.80h26.10v0.4h-26.10zM463.6 100.00h26.10v0.4h-26.10zM463.6 105.23h26.10v0.4h-26.10zM463.6 107.67h26.10v0.4h-26.10zM463.6 102.80h26.10v0.4h-26.10zM463.6 110.10h26.10v0.4h-26.10zM463.6 112.85h26.10v0.4h-26.10zM463.6 111.20h26.10v0.4h-26.10zM463.6 114.50h26.10v0.4h-26.10zM463.6 117.85h26.10v0.4h-26.10zM463.6 115.60h26.10v0.4h-26.10zM463.6 120.10h26.10v0.4h-26.10zM463.6 124.20h26.10v0.4h-26.10zM463.6 126.10h26.10v0.4h-26.10zM463.6 122.30h26.10v0.4h-26.10zM463.6 128.00h26.10v0.4h-26.10zM463.6 130.47h26.10v0.4h-26.10zM463.6 132.33h26.10v0.4h-26.10zM463.6 128.60h26.10v0.4h-26.10zM463.6 134.20h26.10v0.4h-26.10zM463.6 136.65h26.10v0.4h-26.10zM463.6 134.70h26.10v0.4h-26.10zM463.6 138.60h26.10v0.4h-26.10zM463.6 141.70h26.10v0.4h-26.10zM463.6 139.20h26.10v0.4h-26.10zM463.6 144.20h26.10v0.4h-26.10zM463.6 147.00h26.10v0.4h-26.10zM463.6 144.80h26.10v0.4h-26.10zM463.6 149.20h26.10v0.4h-26.10zM463.6 151.48h26.10v0.4h-26.10zM463.6 153.76h26.10v0.4h-26.10zM463.6 156.04h26.10v0.4h-26.10zM463.6 158.32h26.10v0.4h-26.10zM463.6 149.20h26.10v0.4h-26.10zM463.6 160.60h26.10v0.4h-26.10zM463.6 165.85h26.10v0.4h-26.10zM463.6 163.90h26.10v0.4h-26.10zM463.6 167.80h26.10v0.4h-26.10zM463.6 169.80h26.10v0.4h-26.10zM463.6 167.80h26.10v0.4h-26.10zM463.6 171.80h26.10v0.4h-26.10zM463.6 175.05h26.10v0.4h-26.10zM463.6 172.80h26.10v0.4h-26.10zM463.6 177.30h26.10v0.4h-26.10zM463.6 184.00h26.10v0.4h-26.10zM463.6 181.80h26.10v0.4h-26.10zM463.6 186.20h26.10v0.4h-26.10zM463.6 186.20h26.10v0.4h-26.10zM463.6 189.00h26.10v0.4h-26.10zM463.6 189.00h26.10v0.4h-26.10zM463.6 191.20h26.10v0.4h-26.10z"/><path fill="#fff" fill-opacity="0.2" d="M465.58 71.6h0.4v120.30h-0.4zM467.75 71.6h0.4v120.30h-0.4zM469.93 71.6h0.4v120.30h-0.4zM472.10 71.6h0.4v120.30h-0.4zM474.28 71.6h0.4v120.30h-0.4zM476.45 71.6h0.4v120.30h-0.4zM478.63 71.6h0.4v120.30h-0.4zM480.80 71.6h0.4v120.30h-0.4zM482.98 71.6h0.4v120.30h-0.4zM485.15 71.6h0.4v120.30h-0.4zM487.33 71.6h0.4v120.30h-0.4z"/><rect x="480.65" y="71.6" width="0.7" height="120.30" fill="#fff" fill-opacity="0.5"/><rect x="485.00" y="71.6" width="0.7" height="120.30" fill="#fff" fill-opacity="0.5"/><rect x="487.18" y="71.6" width="0.7" height="120.30" fill="#fff" fill-opacity="0.5"/></g>
<rect x="495.3" y="70.6" width="11.30" height="1.2" fill="#5a5a5a"/><rect x="495.0" y="72.6" width="12.50" height="118.5" fill="#b4b4b4"/><rect x="495.0" y="72.6" width="1.5" height="118.5" fill="#767676"/><rect x="496.8" y="72.6" width="3.4" height="118.5" fill="#9a9a9a"/><rect x="505.9" y="72.6" width="0.9" height="118.5" fill="#c8c8c8"/><rect x="500.8" y="72.6" width="3.2" height="118.5" fill="#b4b4b4"/><path fill="#fff" fill-opacity="0.4" d="M495.0 73.60h12.50v0.6h-12.50zM495.0 75.72h12.50v0.6h-12.50zM495.0 77.84h12.50v0.6h-12.50zM495.0 79.96h12.50v0.6h-12.50zM495.0 82.08h12.50v0.6h-12.50zM495.0 84.20h12.50v0.6h-12.50zM495.0 86.32h12.50v0.6h-12.50zM495.0 88.44h12.50v0.6h-12.50zM495.0 90.56h12.50v0.6h-12.50zM495.0 92.68h12.50v0.6h-12.50zM495.0 94.80h12.50v0.6h-12.50zM495.0 96.92h12.50v0.6h-12.50zM495.0 99.04h12.50v0.6h-12.50zM495.0 101.16h12.50v0.6h-12.50zM495.0 103.28h12.50v0.6h-12.50zM495.0 105.40h12.50v0.6h-12.50zM495.0 107.52h12.50v0.6h-12.50zM495.0 109.64h12.50v0.6h-12.50zM495.0 111.76h12.50v0.6h-12.50zM495.0 113.88h12.50v0.6h-12.50zM495.0 116.00h12.50v0.6h-12.50zM495.0 118.12h12.50v0.6h-12.50zM495.0 120.24h12.50v0.6h-12.50zM495.0 122.36h12.50v0.6h-12.50zM495.0 124.48h12.50v0.6h-12.50zM495.0 126.60h12.50v0.6h-12.50zM495.0 128.72h12.50v0.6h-12.50zM495.0 130.84h12.50v0.6h-12.50zM495.0 132.96h12.50v0.6h-12.50zM495.0 135.08h12.50v0.6h-12.50zM495.0 137.20h12.50v0.6h-12.50zM495.0 139.32h12.50v0.6h-12.50zM495.0 141.44h12.50v0.6h-12.50zM495.0 143.56h12.50v0.6h-12.50zM495.0 145.68h12.50v0.6h-12.50zM495.0 147.80h12.50v0.6h-12.50zM495.0 149.92h12.50v0.6h-12.50zM495.0 152.04h12.50v0.6h-12.50zM495.0 154.16h12.50v0.6h-12.50zM495.0 156.28h12.50v0.6h-12.50zM495.0 158.40h12.50v0.6h-12.50zM495.0 160.52h12.50v0.6h-12.50zM495.0 162.64h12.50v0.6h-12.50zM495.0 164.76h12.50v0.6h-12.50zM495.0 166.88h12.50v0.6h-12.50zM495.0 169.00h12.50v0.6h-12.50zM495.0 171.12h12.50v0.6h-12.50zM495.0 173.24h12.50v0.6h-12.50zM495.0 175.36h12.50v0.6h-12.50zM495.0 177.48h12.50v0.6h-12.50zM495.0 179.60h12.50v0.6h-12.50zM495.0 181.72h12.50v0.6h-12.50zM495.0 183.84h12.50v0.6h-12.50zM495.0 185.96h12.50v0.6h-12.50zM495.0 188.08h12.50v0.6h-12.50zM495.0 190.20h12.50v0.6h-12.50z"/><rect x="495.4" y="190.0" width="11.00" height="1.1" fill="#666"/>
<text x="306.80" y="229.70" font-size="10.2" fill="#222" textLength="182.80" lengthAdjust="spacingAndGlyphs">Enrichment of hydrophobic amino acids</text>
<text x="356.20" y="241.20" font-size="10.2" fill="#222" textLength="83.60" lengthAdjust="spacingAndGlyphs">CDR3 position 6-7</text>
<text x="255.90" y="360.20" font-size="8.6" fill="#222" textLength="113.40" lengthAdjust="spacingAndGlyphs" transform="rotate(-90 255.90 360.20)">P6-7 doublet enrichment (log<tspan font-size="5.2" dy="1.6">2</tspan><tspan dy="-1.6">)</tspan></text>
<text x="268.00" y="340.60" font-size="8.6" fill="#222" textLength="72.80" lengthAdjust="spacingAndGlyphs" transform="rotate(-90 268.00 340.60)">patient/control T cell</text>
<line x1="295.2" y1="254.5" x2="295.2" y2="352.8" stroke="#000" stroke-width="1.4"/>
<line x1="292.2" y1="257.10" x2="295.2" y2="257.10" stroke="#000" stroke-width="1.1"/>
<text x="288.60" y="259.50" font-size="8.2" fill="#1e1e1e" text-anchor="end">2</text>
<line x1="292.2" y1="268.70" x2="295.2" y2="268.70" stroke="#000" stroke-width="1.1"/>
<text x="288.60" y="271.10" font-size="8.2" fill="#1e1e1e" text-anchor="end">1.5</text>
<line x1="292.2" y1="280.30" x2="295.2" y2="280.30" stroke="#000" stroke-width="1.1"/>
<text x="288.60" y="282.70" font-size="8.2" fill="#1e1e1e" text-anchor="end">1</text>
<line x1="292.2" y1="291.90" x2="295.2" y2="291.90" stroke="#000" stroke-width="1.1"/>
<text x="288.60" y="294.30" font-size="8.2" fill="#1e1e1e" text-anchor="end">0.5</text>
<line x1="292.2" y1="303.50" x2="295.2" y2="303.50" stroke="#000" stroke-width="1.1"/>
<text x="288.60" y="305.90" font-size="8.2" fill="#1e1e1e" text-anchor="end">0</text>
<line x1="292.2" y1="315.10" x2="295.2" y2="315.10" stroke="#000" stroke-width="1.1"/>
<text x="288.60" y="317.50" font-size="8.2" fill="#1e1e1e" text-anchor="end">−0.5</text>
<line x1="292.2" y1="326.70" x2="295.2" y2="326.70" stroke="#000" stroke-width="1.1"/>
<text x="288.60" y="329.10" font-size="8.2" fill="#1e1e1e" text-anchor="end">−1</text>
<line x1="292.2" y1="338.30" x2="295.2" y2="338.30" stroke="#000" stroke-width="1.1"/>
<text x="288.60" y="340.70" font-size="8.2" fill="#1e1e1e" text-anchor="end">−1.5</text>
<line x1="292.2" y1="349.90" x2="295.2" y2="349.90" stroke="#000" stroke-width="1.1"/>
<text x="288.60" y="352.30" font-size="8.2" fill="#1e1e1e" text-anchor="end">−2</text>
<text x="305.40" y="257.60" font-size="7.7" fill="#222" textLength="42.00" lengthAdjust="spacingAndGlyphs">CD4<tspan font-size="4.8" dy="-2.9">+</tspan><tspan dy="2.9"> T</tspan><tspan font-size="5.1" dy="1.9">conv</tspan></text>
<line x1="375.8" y1="254.5" x2="375.8" y2="352.8" stroke="#000" stroke-width="1.4"/>
<line x1="372.8" y1="257.10" x2="375.8" y2="257.10" stroke="#000" stroke-width="1.1"/>
<text x="369.20" y="259.50" font-size="8.2" fill="#1e1e1e" text-anchor="end">2</text>
<line x1="372.8" y1="268.70" x2="375.8" y2="268.70" stroke="#000" stroke-width="1.1"/>
<text x="369.20" y="271.10" font-size="8.2" fill="#1e1e1e" text-anchor="end">1.5</text>
<line x1="372.8" y1="280.30" x2="375.8" y2="280.30" stroke="#000" stroke-width="1.1"/>
<text x="369.20" y="282.70" font-size="8.2" fill="#1e1e1e" text-anchor="end">1</text>
<line x1="372.8" y1="291.90" x2="375.8" y2="291.90" stroke="#000" stroke-width="1.1"/>
<text x="369.20" y="294.30" font-size="8.2" fill="#1e1e1e" text-anchor="end">0.5</text>
<line x1="372.8" y1="303.50" x2="375.8" y2="303.50" stroke="#000" stroke-width="1.1"/>
<text x="369.20" y="305.90" font-size="8.2" fill="#1e1e1e" text-anchor="end">0</text>
<line x1="372.8" y1="315.10" x2="375.8" y2="315.10" stroke="#000" stroke-width="1.1"/>
<text x="369.20" y="317.50" font-size="8.2" fill="#1e1e1e" text-anchor="end">−0.5</text>
<line x1="372.8" y1="326.70" x2="375.8" y2="326.70" stroke="#000" stroke-width="1.1"/>
<text x="369.20" y="329.10" font-size="8.2" fill="#1e1e1e" text-anchor="end">−1</text>
<line x1="372.8" y1="338.30" x2="375.8" y2="338.30" stroke="#000" stroke-width="1.1"/>
<text x="369.20" y="340.70" font-size="8.2" fill="#1e1e1e" text-anchor="end">−1.5</text>
<line x1="372.8" y1="349.90" x2="375.8" y2="349.90" stroke="#000" stroke-width="1.1"/>
<text x="369.20" y="352.30" font-size="8.2" fill="#1e1e1e" text-anchor="end">−2</text>
<text x="386.00" y="257.60" font-size="7.7" fill="#222" textLength="38.00" lengthAdjust="spacingAndGlyphs">CD4<tspan font-size="4.8" dy="-2.9">+</tspan><tspan dy="2.9"> T</tspan><tspan font-size="5.1" dy="1.9">reg</tspan></text>
<line x1="455.0" y1="254.5" x2="455.0" y2="352.8" stroke="#000" stroke-width="1.4"/>
<line x1="452.0" y1="257.10" x2="455.0" y2="257.10" stroke="#000" stroke-width="1.1"/>
<text x="448.40" y="259.50" font-size="8.2" fill="#1e1e1e" text-anchor="end">2</text>
<line x1="452.0" y1="268.70" x2="455.0" y2="268.70" stroke="#000" stroke-width="1.1"/>
<text x="448.40" y="271.10" font-size="8.2" fill="#1e1e1e" text-anchor="end">1.5</text>
<line x1="452.0" y1="280.30" x2="455.0" y2="280.30" stroke="#000" stroke-width="1.1"/>
<text x="448.40" y="282.70" font-size="8.2" fill="#1e1e1e" text-anchor="end">1</text>
<line x1="452.0" y1="291.90" x2="455.0" y2="291.90" stroke="#000" stroke-width="1.1"/>
<text x="448.40" y="294.30" font-size="8.2" fill="#1e1e1e" text-anchor="end">0.5</text>
<line x1="452.0" y1="303.50" x2="455.0" y2="303.50" stroke="#000" stroke-width="1.1"/>
<text x="448.40" y="305.90" font-size="8.2" fill="#1e1e1e" text-anchor="end">0</text>
<line x1="452.0" y1="315.10" x2="455.0" y2="315.10" stroke="#000" stroke-width="1.1"/>
<text x="448.40" y="317.50" font-size="8.2" fill="#1e1e1e" text-anchor="end">−0.5</text>
<line x1="452.0" y1="326.70" x2="455.0" y2="326.70" stroke="#000" stroke-width="1.1"/>
<text x="448.40" y="329.10" font-size="8.2" fill="#1e1e1e" text-anchor="end">−1</text>
<line x1="452.0" y1="338.30" x2="455.0" y2="338.30" stroke="#000" stroke-width="1.1"/>
<text x="448.40" y="340.70" font-size="8.2" fill="#1e1e1e" text-anchor="end">−1.5</text>
<line x1="452.0" y1="349.90" x2="455.0" y2="349.90" stroke="#000" stroke-width="1.1"/>
<text x="448.40" y="352.30" font-size="8.2" fill="#1e1e1e" text-anchor="end">−2</text>
<text x="462.60" y="257.60" font-size="7.7" fill="#222" textLength="44.80" lengthAdjust="spacingAndGlyphs">CD8<tspan font-size="4.8" dy="-2.9">+</tspan><tspan dy="2.9"> T cell</tspan></text>
<rect x="298.4" y="291.90" width="10.30" height="11.60" fill="#b8102e" stroke="#7a0820" stroke-width="0.6"/>
<rect x="332.2" y="303.50" width="10.00" height="21.34" fill="#2d4f92" stroke="#1a3062" stroke-width="0.6"/>
<rect x="379.6" y="295.38" width="9.90" height="8.12" fill="#b8102e" stroke="#7a0820" stroke-width="0.6"/>
<rect x="394.7" y="303.50" width="10.40" height="0.70" fill="#6cac3c" stroke="#4a8428" stroke-width="0.6"/>
<rect x="409.9" y="303.50" width="9.60" height="9.74" fill="#2d4f92" stroke="#1a3062" stroke-width="0.6"/>
<rect x="458.0" y="291.90" width="9.90" height="11.60" fill="#b8102e" stroke="#7a0820" stroke-width="0.6"/>
<rect x="475.2" y="303.50" width="9.90" height="6.96" fill="#6cac3c" stroke="#4a8428" stroke-width="0.6"/>
<rect x="492.2" y="303.50" width="9.70" height="6.50" fill="#2d4f92" stroke="#1a3062" stroke-width="0.6"/>
<line x1="295.2" y1="303.5" x2="345.9" y2="303.5" stroke="#111" stroke-width="1.3"/>
<line x1="375.8" y1="303.5" x2="421.9" y2="303.5" stroke="#111" stroke-width="1.3"/>
<line x1="455.0" y1="303.5" x2="505.1" y2="303.5" stroke="#111" stroke-width="1.3"/>
<text x="303.5" y="286.6" font-size="7.5" fill="#222" text-anchor="middle">*</text>
<text x="337.4" y="333.6" font-size="7.5" fill="#222" text-anchor="middle">*</text>
<text x="385" y="290.4" font-size="7.4" font-style="italic" fill="#333" text-anchor="middle">ns</text>
<text x="414.8" y="323.8" font-size="7.4" fill="#333" text-anchor="middle">ns</text>
<text x="463" y="287" font-size="7.4" font-style="italic" fill="#333" text-anchor="middle">ns</text>
<text x="497" y="320" font-size="7.4" font-style="italic" fill="#333" text-anchor="middle">ns</text>
<text x="289.00" y="366.50" font-size="8.2" fill="#222" textLength="70.00" lengthAdjust="spacingAndGlyphs">Self-reactivity index</text>
<rect x="365" y="361.2" width="6" height="5.4" fill="#b8102e" stroke="#7a0820" stroke-width="0.5"/>
<text x="374.40" y="366.50" font-size="8.2" fill="#222" textLength="34.00" lengthAdjust="spacingAndGlyphs">Promotes</text>
<rect x="415.1" y="361.2" width="6" height="5.4" fill="#6cac3c" stroke="#4a8428" stroke-width="0.5"/>
<text x="424.00" y="366.50" font-size="8.2" fill="#222" textLength="27.20" lengthAdjust="spacingAndGlyphs">Neutral</text>
<rect x="457.2" y="361.2" width="5.8" height="5.4" fill="#2d4f92" stroke="#1a3062" stroke-width="0.5"/>
<text x="466.00" y="366.50" font-size="8.2" fill="#222" textLength="21.60" lengthAdjust="spacingAndGlyphs">Limits</text>
<rect x="0.5" y="0.5" width="519" height="375" fill="none" stroke="#000" stroke-width="1"/>
<rect x="1.5" y="1.5" width="517" height="373" fill="none" stroke="#808080" stroke-width="1"/>
</g></svg></body></html>
